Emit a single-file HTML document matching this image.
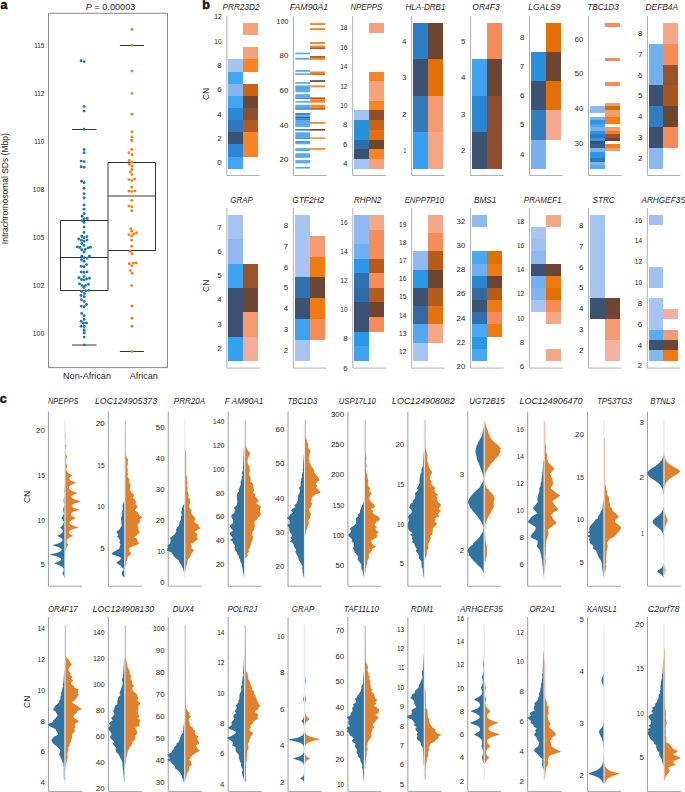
<!DOCTYPE html>
<html><head><meta charset="utf-8"><style>
html,body{margin:0;padding:0;background:#fff;}
body{width:685px;height:792px;overflow:hidden;}
svg{display:block;font-family:"Liberation Sans", sans-serif;fill:#2a2a2a;}
</style></head><body>
<svg width="685" height="792" viewBox="0 0 685 792" font-family='"Liberation Sans", sans-serif' fill="#2a2a2a">
<rect width="685" height="792" fill="#fff"/>
<text x="0.4" y="8.8" font-size="12.5" font-weight="bold" stroke="#111" stroke-width="0.45" fill="#111">a</text>
<text x="110.6" y="10.0" font-size="9" text-anchor="middle" textLength="49.5" lengthAdjust="spacingAndGlyphs"><tspan font-style="italic">P</tspan> = 0.00003</text>
<rect x="48.5" y="13.3" width="119" height="354.3" fill="none" stroke="#8a8a8a" stroke-width="1"/>
<text x="44.3" y="48.1" font-size="7.9" text-anchor="end" textLength="10.1" lengthAdjust="spacingAndGlyphs">115</text>
<text x="44.3" y="96.1" font-size="7.9" text-anchor="end" textLength="10.1" lengthAdjust="spacingAndGlyphs">112</text>
<text x="44.3" y="144.1" font-size="7.9" text-anchor="end" textLength="10.1" lengthAdjust="spacingAndGlyphs">110</text>
<text x="44.3" y="192.1" font-size="7.9" text-anchor="end" textLength="11.7" lengthAdjust="spacingAndGlyphs">108</text>
<text x="44.3" y="240.1" font-size="7.9" text-anchor="end" textLength="11.7" lengthAdjust="spacingAndGlyphs">105</text>
<text x="44.3" y="288.1" font-size="7.9" text-anchor="end" textLength="11.7" lengthAdjust="spacingAndGlyphs">102</text>
<text x="44.3" y="336.1" font-size="7.9" text-anchor="end" textLength="11.7" lengthAdjust="spacingAndGlyphs">100</text>
<text transform="translate(7.6,188.7) rotate(-90)" font-size="8.4" text-anchor="middle" textLength="111" lengthAdjust="spacingAndGlyphs">Intrachromosomal SDs (Mbp)</text>
<text x="87" y="379.4" font-size="8.6" text-anchor="middle" textLength="47.9" lengthAdjust="spacingAndGlyphs">Non-African</text>
<text x="143.8" y="379.4" font-size="8.6" text-anchor="middle" textLength="28.2" lengthAdjust="spacingAndGlyphs">African</text>
<g fill="none" stroke="#303030" stroke-width="1">
<line x1="60.5" y1="220.5" x2="60.5" y2="290.5"/>
<line x1="60.5" y1="220.5" x2="108" y2="220.5"/>
<line x1="60.5" y1="290.5" x2="108" y2="290.5"/>
<line x1="60.5" y1="257.5" x2="108" y2="257.5"/>
<line x1="108" y1="162.5" x2="155.5" y2="162.5"/>
<line x1="155.5" y1="162.5" x2="155.5" y2="250.5"/>
<line x1="108" y1="250.5" x2="155.5" y2="250.5"/>
<line x1="72" y1="129.5" x2="96.5" y2="129.5"/>
<line x1="119.8" y1="45.5" x2="143.9" y2="45.5"/>
<line x1="119.8" y1="351.5" x2="143.9" y2="351.5"/>
</g>
<g fill="none" stroke="#383838" stroke-width="1">
<line x1="108" y1="162.5" x2="108" y2="290.5"/>
<line x1="108" y1="196" x2="155.5" y2="196"/>
<line x1="72" y1="345" x2="96.5" y2="345"/>
</g>
<g fill="#1f77b4"><circle cx="81.1" cy="60.7" r="1.45"/><circle cx="84.2" cy="61.6" r="1.45"/><circle cx="84.1" cy="106.4" r="1.45"/><circle cx="84.1" cy="111.1" r="1.45"/><circle cx="84.1" cy="129.2" r="1.45"/><circle cx="84.1" cy="149.5" r="1.45"/><circle cx="84.1" cy="152.8" r="1.45"/><circle cx="81.1" cy="161.1" r="1.45"/><circle cx="84.1" cy="161.6" r="1.45"/><circle cx="81.1" cy="166.7" r="1.45"/><circle cx="84.1" cy="167.2" r="1.45"/><circle cx="81.6" cy="181.3" r="1.45"/><circle cx="84.1" cy="182.8" r="1.45"/><circle cx="84.1" cy="188.2" r="1.45"/><circle cx="84.1" cy="193.6" r="1.45"/><circle cx="84.1" cy="198" r="1.45"/><circle cx="84.1" cy="205" r="1.45"/><circle cx="84.1" cy="209.1" r="1.45"/><circle cx="84.1" cy="213.8" r="1.45"/><circle cx="82.1" cy="216.2" r="1.45"/><circle cx="87.2" cy="218.5" r="1.45"/><circle cx="84.1" cy="218.7" r="1.45"/><circle cx="81.9" cy="220.7" r="1.45"/><circle cx="84.1" cy="222.5" r="1.45"/><circle cx="84.1" cy="227" r="1.45"/><circle cx="84" cy="232.4" r="1.45"/><circle cx="81.8" cy="236.2" r="1.45"/><circle cx="86.9" cy="236.6" r="1.45"/><circle cx="84" cy="237.8" r="1.45"/><circle cx="78.7" cy="239" r="1.45"/><circle cx="81.4" cy="240.2" r="1.45"/><circle cx="86.9" cy="240" r="1.45"/><circle cx="84" cy="241.3" r="1.45"/><circle cx="81.8" cy="243.5" r="1.45"/><circle cx="84" cy="245.4" r="1.45"/><circle cx="77.4" cy="247" r="1.45"/><circle cx="79.9" cy="247.5" r="1.45"/><circle cx="90.4" cy="247.3" r="1.45"/><circle cx="88" cy="247.9" r="1.45"/><circle cx="81.8" cy="249.8" r="1.45"/><circle cx="85.2" cy="249.4" r="1.45"/><circle cx="84" cy="252" r="1.45"/><circle cx="81.8" cy="256.2" r="1.45"/><circle cx="89.4" cy="256.1" r="1.45"/><circle cx="84" cy="257.7" r="1.45"/><circle cx="87" cy="258.1" r="1.45"/><circle cx="81.4" cy="259.8" r="1.45"/><circle cx="84" cy="261.2" r="1.45"/><circle cx="86.6" cy="264.6" r="1.45"/><circle cx="81.2" cy="266.2" r="1.45"/><circle cx="84" cy="266.7" r="1.45"/><circle cx="81.2" cy="271.9" r="1.45"/><circle cx="84" cy="272.3" r="1.45"/><circle cx="87" cy="271.9" r="1.45"/><circle cx="84" cy="276.6" r="1.45"/><circle cx="79" cy="277.8" r="1.45"/><circle cx="81.4" cy="279.5" r="1.45"/><circle cx="84" cy="279.9" r="1.45"/><circle cx="86.6" cy="279" r="1.45"/><circle cx="89.4" cy="278.2" r="1.45"/><circle cx="79.5" cy="283.9" r="1.45"/><circle cx="82.3" cy="285.6" r="1.45"/><circle cx="84" cy="287.5" r="1.45"/><circle cx="85.6" cy="285.4" r="1.45"/><circle cx="88.5" cy="284.2" r="1.45"/><circle cx="81.7" cy="291.5" r="1.45"/><circle cx="85.9" cy="290.9" r="1.45"/><circle cx="88.8" cy="290.4" r="1.45"/><circle cx="84.4" cy="293.4" r="1.45"/><circle cx="81" cy="295.5" r="1.45"/><circle cx="84.2" cy="296.7" r="1.45"/><circle cx="81.4" cy="299.8" r="1.45"/><circle cx="84.2" cy="301.5" r="1.45"/><circle cx="81.2" cy="306.1" r="1.45"/><circle cx="84.2" cy="306.8" r="1.45"/><circle cx="86.5" cy="304.5" r="1.45"/><circle cx="81.7" cy="313.5" r="1.45"/><circle cx="84.2" cy="315.6" r="1.45"/><circle cx="84.2" cy="319.4" r="1.45"/><circle cx="81.2" cy="321.2" r="1.45"/><circle cx="86.5" cy="323" r="1.45"/><circle cx="83.5" cy="323.3" r="1.45"/><circle cx="81" cy="326.2" r="1.45"/><circle cx="84.2" cy="326.5" r="1.45"/><circle cx="84.2" cy="330" r="1.45"/><circle cx="84.2" cy="332.8" r="1.45"/><circle cx="84.2" cy="337.1" r="1.45"/><circle cx="84.2" cy="344.9" r="1.45"/></g>
<g fill="#ff7f0e"><circle cx="131.9" cy="29.5" r="1.45"/><circle cx="131.9" cy="45.2" r="1.45"/><circle cx="131.9" cy="71.1" r="1.45"/><circle cx="131.9" cy="93.4" r="1.45"/><circle cx="131.9" cy="114.2" r="1.45"/><circle cx="131.9" cy="131.9" r="1.45"/><circle cx="131.9" cy="137" r="1.45"/><circle cx="131.7" cy="140.5" r="1.45"/><circle cx="131.7" cy="149.5" r="1.45"/><circle cx="128.9" cy="152.8" r="1.45"/><circle cx="132" cy="154.7" r="1.45"/><circle cx="129.2" cy="160.4" r="1.45"/><circle cx="132" cy="162.3" r="1.45"/><circle cx="129.4" cy="164.4" r="1.45"/><circle cx="132" cy="166.3" r="1.45"/><circle cx="132" cy="169.5" r="1.45"/><circle cx="130.3" cy="172" r="1.45"/><circle cx="132" cy="174.6" r="1.45"/><circle cx="128.9" cy="179.6" r="1.45"/><circle cx="131.7" cy="180.7" r="1.45"/><circle cx="134.6" cy="179" r="1.45"/><circle cx="131.7" cy="187.2" r="1.45"/><circle cx="128.9" cy="191.1" r="1.45"/><circle cx="131.7" cy="191.6" r="1.45"/><circle cx="134.9" cy="190.9" r="1.45"/><circle cx="131.7" cy="200.4" r="1.45"/><circle cx="128.9" cy="206.1" r="1.45"/><circle cx="131.7" cy="206.8" r="1.45"/><circle cx="131.7" cy="210.8" r="1.45"/><circle cx="130.8" cy="228.7" r="1.45"/><circle cx="131.7" cy="231.3" r="1.45"/><circle cx="129.1" cy="234.6" r="1.45"/><circle cx="131.7" cy="236.1" r="1.45"/><circle cx="133.7" cy="234" r="1.45"/><circle cx="136.6" cy="232.8" r="1.45"/><circle cx="131.7" cy="240.3" r="1.45"/><circle cx="131.7" cy="246.3" r="1.45"/><circle cx="129.8" cy="251.4" r="1.45"/><circle cx="132" cy="253.8" r="1.45"/><circle cx="129.3" cy="263.8" r="1.45"/><circle cx="131.7" cy="265.8" r="1.45"/><circle cx="133.2" cy="263.1" r="1.45"/><circle cx="136.1" cy="262.9" r="1.45"/><circle cx="130.2" cy="270.6" r="1.45"/><circle cx="132" cy="273.2" r="1.45"/><circle cx="131.7" cy="285.6" r="1.45"/><circle cx="131.9" cy="306" r="1.45"/><circle cx="131.9" cy="318.3" r="1.45"/><circle cx="131.9" cy="326.2" r="1.45"/><circle cx="131.9" cy="351.5" r="1.45"/></g>
<text x="202.2" y="8.8" font-size="12.5" font-weight="bold" stroke="#111" stroke-width="0.45" fill="#111">b</text>
<line x1="226.8" y1="16.0" x2="226.8" y2="175.5" stroke="#b0b0b0" stroke-width="1"/>
<line x1="226.8" y1="175.5" x2="259.8" y2="175.5" stroke="#b0b0b0" stroke-width="1"/>
<text x="221.6" y="165.1" font-size="7.9" text-anchor="end" textLength="4.4" lengthAdjust="spacingAndGlyphs">0</text>
<text x="221.6" y="140.8" font-size="7.9" text-anchor="end" textLength="4.4" lengthAdjust="spacingAndGlyphs">2</text>
<text x="221.6" y="116.5" font-size="7.9" text-anchor="end" textLength="4.4" lengthAdjust="spacingAndGlyphs">4</text>
<text x="221.6" y="92.2" font-size="7.9" text-anchor="end" textLength="4.4" lengthAdjust="spacingAndGlyphs">6</text>
<text x="221.6" y="67.9" font-size="7.9" text-anchor="end" textLength="4.4" lengthAdjust="spacingAndGlyphs">8</text>
<text x="221.6" y="43.6" font-size="7.9" text-anchor="end" textLength="7.3" lengthAdjust="spacingAndGlyphs">10</text>
<text x="221.6" y="19.3" font-size="7.9" text-anchor="end" textLength="7.3" lengthAdjust="spacingAndGlyphs">12</text>
<rect x="228.4" y="156.60" width="14.80" height="12.15" fill="#3ea6f5" shape-rendering="crispEdges"/>
<rect x="228.4" y="144.46" width="14.80" height="12.15" fill="#2b88d2" shape-rendering="crispEdges"/>
<rect x="228.4" y="132.31" width="14.80" height="12.15" fill="#3b5273" shape-rendering="crispEdges"/>
<rect x="228.4" y="120.17" width="14.80" height="12.15" fill="#2f77b8" shape-rendering="crispEdges"/>
<rect x="228.4" y="108.02" width="14.80" height="12.15" fill="#2b88d2" shape-rendering="crispEdges"/>
<rect x="228.4" y="95.87" width="14.80" height="12.15" fill="#3ea6f5" shape-rendering="crispEdges"/>
<rect x="228.4" y="83.73" width="14.80" height="12.15" fill="#86b4ee" shape-rendering="crispEdges"/>
<rect x="228.4" y="71.58" width="14.80" height="12.15" fill="#3ea6f5" shape-rendering="crispEdges"/>
<rect x="228.4" y="59.44" width="14.80" height="12.15" fill="#a3c4ee" shape-rendering="crispEdges"/>
<rect x="243.2" y="144.46" width="14.80" height="12.15" fill="#fc8324" shape-rendering="crispEdges"/>
<rect x="243.2" y="132.31" width="14.80" height="12.15" fill="#fc8324" shape-rendering="crispEdges"/>
<rect x="243.2" y="120.17" width="14.80" height="12.15" fill="#b45a1c" shape-rendering="crispEdges"/>
<rect x="243.2" y="108.02" width="14.80" height="12.15" fill="#8f4f2c" shape-rendering="crispEdges"/>
<rect x="243.2" y="95.87" width="14.80" height="12.15" fill="#6e4531" shape-rendering="crispEdges"/>
<rect x="243.2" y="83.73" width="14.80" height="12.15" fill="#cc6311" shape-rendering="crispEdges"/>
<rect x="243.2" y="59.44" width="14.80" height="12.15" fill="#fc8324" shape-rendering="crispEdges"/>
<rect x="243.2" y="47.29" width="14.80" height="12.15" fill="#f6a27d" shape-rendering="crispEdges"/>
<rect x="243.2" y="23.00" width="14.80" height="12.15" fill="#f6a27d" shape-rendering="crispEdges"/>
<text x="241.0" y="9.7" font-size="8.2" font-style="italic" text-anchor="middle" textLength="37.0" lengthAdjust="spacingAndGlyphs">PRR23D2</text>
<text transform="translate(209.4,93.9) rotate(-90)" font-size="8.6" text-anchor="middle">CN</text>
<line x1="293.5" y1="16.0" x2="293.5" y2="175.5" stroke="#b0b0b0" stroke-width="1"/>
<line x1="293.5" y1="175.5" x2="326.5" y2="175.5" stroke="#b0b0b0" stroke-width="1"/>
<text x="288.3" y="162.2" font-size="7.9" text-anchor="end" textLength="8.8" lengthAdjust="spacingAndGlyphs">20</text>
<text x="288.3" y="127.5" font-size="7.9" text-anchor="end" textLength="8.8" lengthAdjust="spacingAndGlyphs">40</text>
<text x="288.3" y="92.9" font-size="7.9" text-anchor="end" textLength="8.8" lengthAdjust="spacingAndGlyphs">60</text>
<text x="288.3" y="58.2" font-size="7.9" text-anchor="end" textLength="8.8" lengthAdjust="spacingAndGlyphs">80</text>
<text x="288.3" y="23.5" font-size="7.9" text-anchor="end" textLength="11.7" lengthAdjust="spacingAndGlyphs">100</text>
<rect x="295.3" y="52.60" width="14.80" height="1.70" fill="#58aaf2"/>
<rect x="295.3" y="57.80" width="14.80" height="1.90" fill="#58aaf2"/>
<rect x="295.3" y="69.90" width="14.80" height="1.90" fill="#58aaf2"/>
<rect x="295.3" y="73.20" width="14.80" height="1.70" fill="#58aaf2"/>
<rect x="295.3" y="82.10" width="14.80" height="1.70" fill="#58aaf2"/>
<rect x="295.3" y="85.40" width="14.80" height="1.90" fill="#58aaf2"/>
<rect x="295.3" y="87.30" width="14.80" height="1.50" fill="#2a88d2"/>
<rect x="295.3" y="88.80" width="14.80" height="3.50" fill="#58aaf2"/>
<rect x="295.3" y="94.20" width="14.80" height="3.50" fill="#58aaf2"/>
<rect x="295.3" y="97.70" width="14.80" height="1.20" fill="#2a88d2"/>
<rect x="295.3" y="101.10" width="14.80" height="1.60" fill="#58aaf2"/>
<rect x="295.3" y="104.80" width="14.80" height="3.30" fill="#58aaf2"/>
<rect x="295.3" y="108.10" width="14.80" height="1.60" fill="#2a88d2"/>
<rect x="295.3" y="113.00" width="14.80" height="1.90" fill="#2a88d2"/>
<rect x="295.3" y="114.90" width="14.80" height="1.90" fill="#58aaf2"/>
<rect x="295.3" y="116.80" width="14.80" height="1.60" fill="#3b5273"/>
<rect x="295.3" y="118.40" width="14.80" height="1.60" fill="#2a88d2"/>
<rect x="295.3" y="120.00" width="14.80" height="6.90" fill="#58aaf2"/>
<rect x="295.3" y="129.00" width="14.80" height="1.60" fill="#2a88d2"/>
<rect x="295.3" y="132.30" width="14.80" height="5.10" fill="#58aaf2"/>
<rect x="295.3" y="137.40" width="14.80" height="1.50" fill="#2a88d2"/>
<rect x="295.3" y="141.10" width="14.80" height="1.70" fill="#2a88d2"/>
<rect x="295.3" y="142.80" width="14.80" height="1.50" fill="#58aaf2"/>
<rect x="295.3" y="148.10" width="14.80" height="2.90" fill="#58aaf2"/>
<rect x="295.3" y="153.20" width="14.80" height="4.60" fill="#58aaf2"/>
<rect x="295.3" y="160.10" width="14.80" height="3.30" fill="#58aaf2"/>
<rect x="295.3" y="166.90" width="14.80" height="1.70" fill="#58aaf2"/>
<rect x="310.1" y="23.10" width="15.00" height="1.90" fill="#fc8324"/>
<rect x="310.1" y="28.10" width="15.00" height="1.90" fill="#fc8324"/>
<rect x="310.1" y="42.00" width="15.00" height="1.90" fill="#fc8324"/>
<rect x="310.1" y="45.60" width="15.00" height="1.70" fill="#fc8324"/>
<rect x="310.1" y="47.30" width="15.00" height="1.70" fill="#b45a1c"/>
<rect x="310.1" y="56.00" width="15.00" height="1.90" fill="#b45a1c"/>
<rect x="310.1" y="57.90" width="15.00" height="1.90" fill="#fc8324"/>
<rect x="310.1" y="71.50" width="15.00" height="1.90" fill="#fc8324"/>
<rect x="310.1" y="73.40" width="15.00" height="1.50" fill="#b45a1c"/>
<rect x="310.1" y="80.20" width="15.00" height="1.70" fill="#6e4531"/>
<rect x="310.1" y="85.40" width="15.00" height="1.90" fill="#fc8324"/>
<rect x="310.1" y="97.40" width="15.00" height="1.80" fill="#b45a1c"/>
<rect x="310.1" y="99.20" width="15.00" height="3.50" fill="#fc8324"/>
<rect x="310.1" y="104.80" width="15.00" height="3.00" fill="#fc8324"/>
<rect x="310.1" y="107.80" width="15.00" height="1.90" fill="#c06020"/>
<rect x="310.1" y="122.00" width="15.00" height="1.80" fill="#fc8324"/>
<rect x="310.1" y="129.00" width="15.00" height="1.60" fill="#6e4531"/>
<rect x="310.1" y="137.40" width="15.00" height="1.50" fill="#fc8324"/>
<rect x="310.1" y="148.10" width="15.00" height="1.70" fill="#fc8324"/>
<text x="309.0" y="9.7" font-size="8.2" font-style="italic" text-anchor="middle" textLength="38.4" lengthAdjust="spacingAndGlyphs">FAM90A1</text>
<line x1="352.7" y1="16.0" x2="352.7" y2="175.5" stroke="#b0b0b0" stroke-width="1"/>
<line x1="352.7" y1="175.5" x2="385.7" y2="175.5" stroke="#b0b0b0" stroke-width="1"/>
<text x="347.5" y="166.3" font-size="7.9" text-anchor="end" textLength="4.4" lengthAdjust="spacingAndGlyphs">4</text>
<text x="347.5" y="146.9" font-size="7.9" text-anchor="end" textLength="4.4" lengthAdjust="spacingAndGlyphs">6</text>
<text x="347.5" y="127.4" font-size="7.9" text-anchor="end" textLength="4.4" lengthAdjust="spacingAndGlyphs">8</text>
<text x="347.5" y="108.0" font-size="7.9" text-anchor="end" textLength="7.3" lengthAdjust="spacingAndGlyphs">10</text>
<text x="347.5" y="88.6" font-size="7.9" text-anchor="end" textLength="7.3" lengthAdjust="spacingAndGlyphs">12</text>
<text x="347.5" y="69.1" font-size="7.9" text-anchor="end" textLength="7.3" lengthAdjust="spacingAndGlyphs">14</text>
<text x="347.5" y="49.7" font-size="7.9" text-anchor="end" textLength="7.3" lengthAdjust="spacingAndGlyphs">16</text>
<text x="347.5" y="30.3" font-size="7.9" text-anchor="end" textLength="7.3" lengthAdjust="spacingAndGlyphs">18</text>
<rect x="353.9" y="159.03" width="15.20" height="9.72" fill="#a3c4ee" shape-rendering="crispEdges"/>
<rect x="353.9" y="149.32" width="15.20" height="9.72" fill="#3b5273" shape-rendering="crispEdges"/>
<rect x="353.9" y="139.60" width="15.20" height="9.72" fill="#2f6fa8" shape-rendering="crispEdges"/>
<rect x="353.9" y="129.88" width="15.20" height="9.72" fill="#2a90d8" shape-rendering="crispEdges"/>
<rect x="353.9" y="120.16" width="15.20" height="9.72" fill="#2a90d8" shape-rendering="crispEdges"/>
<rect x="353.9" y="110.45" width="15.20" height="9.72" fill="#a3c4ee" shape-rendering="crispEdges"/>
<rect x="369.1" y="159.03" width="15.00" height="9.72" fill="#f6a27d" shape-rendering="crispEdges"/>
<rect x="369.1" y="149.32" width="15.00" height="9.72" fill="#fc8324" shape-rendering="crispEdges"/>
<rect x="369.1" y="139.60" width="15.00" height="9.72" fill="#6e4531" shape-rendering="crispEdges"/>
<rect x="369.1" y="129.88" width="15.00" height="9.72" fill="#e46f06" shape-rendering="crispEdges"/>
<rect x="369.1" y="120.16" width="15.00" height="9.72" fill="#cc6311" shape-rendering="crispEdges"/>
<rect x="369.1" y="110.45" width="15.00" height="9.72" fill="#8f4f2c" shape-rendering="crispEdges"/>
<rect x="369.1" y="100.73" width="15.00" height="9.72" fill="#fc8324" shape-rendering="crispEdges"/>
<rect x="369.1" y="91.01" width="15.00" height="9.72" fill="#f6a27d" shape-rendering="crispEdges"/>
<rect x="369.1" y="81.30" width="15.00" height="9.72" fill="#f6a27d" shape-rendering="crispEdges"/>
<rect x="369.1" y="71.58" width="15.00" height="9.72" fill="#fc8324" shape-rendering="crispEdges"/>
<rect x="369.1" y="22.99" width="15.00" height="9.72" fill="#f6a27d" shape-rendering="crispEdges"/>
<text x="366.3" y="9.7" font-size="8.2" font-style="italic" text-anchor="middle" textLength="31.6" lengthAdjust="spacingAndGlyphs">NPEPPS</text>
<line x1="411.6" y1="16.0" x2="411.6" y2="175.5" stroke="#b0b0b0" stroke-width="1"/>
<line x1="411.6" y1="175.5" x2="444.6" y2="175.5" stroke="#b0b0b0" stroke-width="1"/>
<text x="406.4" y="152.9" font-size="7.9" text-anchor="end" textLength="2.8" lengthAdjust="spacingAndGlyphs">1</text>
<text x="406.4" y="116.5" font-size="7.9" text-anchor="end" textLength="4.4" lengthAdjust="spacingAndGlyphs">2</text>
<text x="406.4" y="80.1" font-size="7.9" text-anchor="end" textLength="4.4" lengthAdjust="spacingAndGlyphs">3</text>
<text x="406.4" y="43.6" font-size="7.9" text-anchor="end" textLength="4.4" lengthAdjust="spacingAndGlyphs">4</text>
<rect x="413.1" y="132.31" width="14.80" height="36.44" fill="#33a0f0" shape-rendering="crispEdges"/>
<rect x="413.1" y="95.87" width="14.80" height="36.44" fill="#3478b8" shape-rendering="crispEdges"/>
<rect x="413.1" y="59.43" width="14.80" height="36.44" fill="#3b5273" shape-rendering="crispEdges"/>
<rect x="413.1" y="22.99" width="14.80" height="36.44" fill="#2b7fc8" shape-rendering="crispEdges"/>
<rect x="427.9" y="132.31" width="15.10" height="36.44" fill="#f4a582" shape-rendering="crispEdges"/>
<rect x="427.9" y="95.87" width="15.10" height="36.44" fill="#f59a70" shape-rendering="crispEdges"/>
<rect x="427.9" y="59.43" width="15.10" height="36.44" fill="#e46f06" shape-rendering="crispEdges"/>
<rect x="427.9" y="22.99" width="15.10" height="36.44" fill="#6e4531" shape-rendering="crispEdges"/>
<text x="425.5" y="9.7" font-size="8.2" font-style="italic" text-anchor="middle" textLength="40.1" lengthAdjust="spacingAndGlyphs">HLA-DRB1</text>
<line x1="470.6" y1="16.0" x2="470.6" y2="175.5" stroke="#b0b0b0" stroke-width="1"/>
<line x1="470.6" y1="175.5" x2="503.6" y2="175.5" stroke="#b0b0b0" stroke-width="1"/>
<text x="465.4" y="152.9" font-size="7.9" text-anchor="end" textLength="4.4" lengthAdjust="spacingAndGlyphs">2</text>
<text x="465.4" y="116.5" font-size="7.9" text-anchor="end" textLength="4.4" lengthAdjust="spacingAndGlyphs">3</text>
<text x="465.4" y="80.1" font-size="7.9" text-anchor="end" textLength="4.4" lengthAdjust="spacingAndGlyphs">4</text>
<text x="465.4" y="43.6" font-size="7.9" text-anchor="end" textLength="4.4" lengthAdjust="spacingAndGlyphs">5</text>
<rect x="472.0" y="132.31" width="14.80" height="36.44" fill="#3b5273" shape-rendering="crispEdges"/>
<rect x="472.0" y="95.87" width="14.80" height="36.44" fill="#2b85d0" shape-rendering="crispEdges"/>
<rect x="472.0" y="59.43" width="14.80" height="36.44" fill="#40a2f2" shape-rendering="crispEdges"/>
<rect x="486.8" y="132.31" width="14.80" height="36.44" fill="#8f4f2c" shape-rendering="crispEdges"/>
<rect x="486.8" y="95.87" width="14.80" height="36.44" fill="#8f4f2c" shape-rendering="crispEdges"/>
<rect x="486.8" y="59.43" width="14.80" height="36.44" fill="#6e4531" shape-rendering="crispEdges"/>
<rect x="486.8" y="22.99" width="14.80" height="36.44" fill="#f58c5a" shape-rendering="crispEdges"/>
<text x="486.0" y="9.7" font-size="8.2" font-style="italic" text-anchor="middle" textLength="27.4" lengthAdjust="spacingAndGlyphs">OR4F3</text>
<line x1="529.5" y1="16.0" x2="529.5" y2="175.5" stroke="#b0b0b0" stroke-width="1"/>
<line x1="529.5" y1="175.5" x2="562.5" y2="175.5" stroke="#b0b0b0" stroke-width="1"/>
<text x="524.3" y="156.6" font-size="7.9" text-anchor="end" textLength="4.4" lengthAdjust="spacingAndGlyphs">4</text>
<text x="524.3" y="127.4" font-size="7.9" text-anchor="end" textLength="4.4" lengthAdjust="spacingAndGlyphs">5</text>
<text x="524.3" y="98.3" font-size="7.9" text-anchor="end" textLength="4.4" lengthAdjust="spacingAndGlyphs">6</text>
<text x="524.3" y="69.1" font-size="7.9" text-anchor="end" textLength="4.4" lengthAdjust="spacingAndGlyphs">7</text>
<text x="524.3" y="40.0" font-size="7.9" text-anchor="end" textLength="4.4" lengthAdjust="spacingAndGlyphs">8</text>
<rect x="531.0" y="139.60" width="14.90" height="29.15" fill="#7ab0f0" shape-rendering="crispEdges"/>
<rect x="531.0" y="110.45" width="14.90" height="29.15" fill="#2f7fc0" shape-rendering="crispEdges"/>
<rect x="531.0" y="81.30" width="14.90" height="29.15" fill="#3b5273" shape-rendering="crispEdges"/>
<rect x="531.0" y="52.15" width="14.90" height="29.15" fill="#2a90e0" shape-rendering="crispEdges"/>
<rect x="545.9" y="110.45" width="14.80" height="29.15" fill="#f4a890" shape-rendering="crispEdges"/>
<rect x="545.9" y="81.30" width="14.80" height="29.15" fill="#e46f06" shape-rendering="crispEdges"/>
<rect x="545.9" y="52.15" width="14.80" height="29.15" fill="#6e4531" shape-rendering="crispEdges"/>
<rect x="545.9" y="23.00" width="14.80" height="29.15" fill="#e46f06" shape-rendering="crispEdges"/>
<text x="544.3" y="9.7" font-size="8.2" font-style="italic" text-anchor="middle" textLength="32.3" lengthAdjust="spacingAndGlyphs">LGALS9</text>
<line x1="588.5" y1="16.0" x2="588.5" y2="175.5" stroke="#b0b0b0" stroke-width="1"/>
<line x1="588.5" y1="175.5" x2="621.5" y2="175.5" stroke="#b0b0b0" stroke-width="1"/>
<text x="583.3" y="145.6" font-size="7.9" text-anchor="end" textLength="8.8" lengthAdjust="spacingAndGlyphs">30</text>
<text x="583.3" y="110.9" font-size="7.9" text-anchor="end" textLength="8.8" lengthAdjust="spacingAndGlyphs">40</text>
<text x="583.3" y="76.2" font-size="7.9" text-anchor="end" textLength="8.8" lengthAdjust="spacingAndGlyphs">50</text>
<text x="583.3" y="41.5" font-size="7.9" text-anchor="end" textLength="8.8" lengthAdjust="spacingAndGlyphs">60</text>
<rect x="590.0" y="106.20" width="14.80" height="6.80" fill="#8ab8f0" shape-rendering="crispEdges"/>
<rect x="590.0" y="116.80" width="14.80" height="3.10" fill="#7ab0f0" shape-rendering="crispEdges"/>
<rect x="590.0" y="119.90" width="14.80" height="3.80" fill="#2a9ae8" shape-rendering="crispEdges"/>
<rect x="590.0" y="123.70" width="14.80" height="3.50" fill="#4aa6f0" shape-rendering="crispEdges"/>
<rect x="590.0" y="127.20" width="14.80" height="3.50" fill="#7ab0f0" shape-rendering="crispEdges"/>
<rect x="590.0" y="130.70" width="14.80" height="3.40" fill="#2a9ae8" shape-rendering="crispEdges"/>
<rect x="590.0" y="134.10" width="14.80" height="3.50" fill="#2f7ab8" shape-rendering="crispEdges"/>
<rect x="590.0" y="137.60" width="14.80" height="3.50" fill="#2a9ae8" shape-rendering="crispEdges"/>
<rect x="590.0" y="141.10" width="14.80" height="3.20" fill="#3b5273" shape-rendering="crispEdges"/>
<rect x="590.0" y="144.30" width="14.80" height="3.50" fill="#3a5f8a" shape-rendering="crispEdges"/>
<rect x="590.0" y="147.80" width="14.80" height="3.80" fill="#80b4f0" shape-rendering="crispEdges"/>
<rect x="590.0" y="151.60" width="14.80" height="6.80" fill="#2a9ae8" shape-rendering="crispEdges"/>
<rect x="590.0" y="158.40" width="14.80" height="3.50" fill="#2f7ab8" shape-rendering="crispEdges"/>
<rect x="590.0" y="161.90" width="14.80" height="3.20" fill="#80b4f0" shape-rendering="crispEdges"/>
<rect x="590.0" y="165.10" width="14.80" height="3.50" fill="#58aaf2" shape-rendering="crispEdges"/>
<rect x="604.8" y="23.20" width="14.70" height="3.40" fill="#f78c58" shape-rendering="crispEdges"/>
<rect x="604.8" y="58.00" width="14.70" height="3.40" fill="#f78c58" shape-rendering="crispEdges"/>
<rect x="604.8" y="82.30" width="14.70" height="3.40" fill="#f78c58" shape-rendering="crispEdges"/>
<rect x="604.8" y="103.10" width="14.70" height="3.10" fill="#f69a70" shape-rendering="crispEdges"/>
<rect x="604.8" y="106.20" width="14.70" height="3.60" fill="#d86a08" shape-rendering="crispEdges"/>
<rect x="604.8" y="109.80" width="14.70" height="7.00" fill="#f69a70" shape-rendering="crispEdges"/>
<rect x="604.8" y="116.80" width="14.70" height="6.90" fill="#f57f10" shape-rendering="crispEdges"/>
<rect x="604.8" y="127.20" width="14.70" height="3.50" fill="#f69a70" shape-rendering="crispEdges"/>
<rect x="604.8" y="130.70" width="14.70" height="3.40" fill="#f57f10" shape-rendering="crispEdges"/>
<rect x="604.8" y="134.10" width="14.70" height="3.50" fill="#9a5230" shape-rendering="crispEdges"/>
<rect x="604.8" y="137.60" width="14.70" height="3.20" fill="#6e4531" shape-rendering="crispEdges"/>
<rect x="604.8" y="144.30" width="14.70" height="3.50" fill="#f57f10" shape-rendering="crispEdges"/>
<rect x="604.8" y="147.80" width="14.70" height="3.20" fill="#f69a70" shape-rendering="crispEdges"/>
<text x="603.0" y="9.7" font-size="8.2" font-style="italic" text-anchor="middle" textLength="31.6" lengthAdjust="spacingAndGlyphs">TBC1D3</text>
<line x1="647.5" y1="16.0" x2="647.5" y2="175.5" stroke="#b0b0b0" stroke-width="1"/>
<line x1="647.5" y1="175.5" x2="680.5" y2="175.5" stroke="#b0b0b0" stroke-width="1"/>
<text x="642.3" y="160.7" font-size="7.9" text-anchor="end" textLength="4.4" lengthAdjust="spacingAndGlyphs">2</text>
<text x="642.3" y="139.9" font-size="7.9" text-anchor="end" textLength="4.4" lengthAdjust="spacingAndGlyphs">3</text>
<text x="642.3" y="119.1" font-size="7.9" text-anchor="end" textLength="4.4" lengthAdjust="spacingAndGlyphs">4</text>
<text x="642.3" y="98.3" font-size="7.9" text-anchor="end" textLength="4.4" lengthAdjust="spacingAndGlyphs">5</text>
<text x="642.3" y="77.5" font-size="7.9" text-anchor="end" textLength="4.4" lengthAdjust="spacingAndGlyphs">6</text>
<text x="642.3" y="56.6" font-size="7.9" text-anchor="end" textLength="4.4" lengthAdjust="spacingAndGlyphs">7</text>
<text x="642.3" y="35.8" font-size="7.9" text-anchor="end" textLength="4.4" lengthAdjust="spacingAndGlyphs">8</text>
<rect x="648.6" y="147.93" width="14.80" height="20.82" fill="#8ab8f0" shape-rendering="crispEdges"/>
<rect x="648.6" y="127.11" width="14.80" height="20.82" fill="#3b5273" shape-rendering="crispEdges"/>
<rect x="648.6" y="106.29" width="14.80" height="20.82" fill="#2f7fc0" shape-rendering="crispEdges"/>
<rect x="648.6" y="85.47" width="14.80" height="20.82" fill="#3b5273" shape-rendering="crispEdges"/>
<rect x="648.6" y="64.65" width="14.80" height="20.82" fill="#70b0f0" shape-rendering="crispEdges"/>
<rect x="648.6" y="43.83" width="14.80" height="20.82" fill="#70b0f0" shape-rendering="crispEdges"/>
<rect x="663.4" y="127.11" width="14.80" height="20.82" fill="#f78c58" shape-rendering="crispEdges"/>
<rect x="663.4" y="106.29" width="14.80" height="20.82" fill="#6e4531" shape-rendering="crispEdges"/>
<rect x="663.4" y="85.47" width="14.80" height="20.82" fill="#a85520" shape-rendering="crispEdges"/>
<rect x="663.4" y="64.65" width="14.80" height="20.82" fill="#9a5228" shape-rendering="crispEdges"/>
<rect x="663.4" y="43.83" width="14.80" height="20.82" fill="#f78c58" shape-rendering="crispEdges"/>
<rect x="663.4" y="23.01" width="14.80" height="20.82" fill="#f4a888" shape-rendering="crispEdges"/>
<text x="661.8" y="9.7" font-size="8.2" font-style="italic" text-anchor="middle" textLength="32.6" lengthAdjust="spacingAndGlyphs">DEFB4A</text>
<line x1="226.9" y1="207.9" x2="226.9" y2="368.1" stroke="#b0b0b0" stroke-width="1"/>
<line x1="226.9" y1="368.1" x2="259.9" y2="368.1" stroke="#b0b0b0" stroke-width="1"/>
<text x="221.7" y="351.1" font-size="7.9" text-anchor="end" textLength="4.4" lengthAdjust="spacingAndGlyphs">2</text>
<text x="221.7" y="326.8" font-size="7.9" text-anchor="end" textLength="4.4" lengthAdjust="spacingAndGlyphs">3</text>
<text x="221.7" y="302.4" font-size="7.9" text-anchor="end" textLength="4.4" lengthAdjust="spacingAndGlyphs">4</text>
<text x="221.7" y="278.1" font-size="7.9" text-anchor="end" textLength="4.4" lengthAdjust="spacingAndGlyphs">5</text>
<text x="221.7" y="253.8" font-size="7.9" text-anchor="end" textLength="4.4" lengthAdjust="spacingAndGlyphs">6</text>
<text x="221.7" y="229.6" font-size="7.9" text-anchor="end" textLength="4.4" lengthAdjust="spacingAndGlyphs">7</text>
<rect x="228.1" y="336.50" width="15.10" height="24.30" fill="#33a0f0" shape-rendering="crispEdges"/>
<rect x="228.1" y="312.20" width="15.10" height="24.30" fill="#3b5273" shape-rendering="crispEdges"/>
<rect x="228.1" y="287.90" width="15.10" height="24.30" fill="#3b5273" shape-rendering="crispEdges"/>
<rect x="228.1" y="263.60" width="15.10" height="24.30" fill="#40a2f2" shape-rendering="crispEdges"/>
<rect x="228.1" y="239.30" width="15.10" height="24.30" fill="#90b8f0" shape-rendering="crispEdges"/>
<rect x="228.1" y="215.00" width="15.10" height="24.30" fill="#a3c4ee" shape-rendering="crispEdges"/>
<rect x="243.2" y="336.50" width="14.90" height="24.30" fill="#f4ae98" shape-rendering="crispEdges"/>
<rect x="243.2" y="312.20" width="14.90" height="24.30" fill="#f59a70" shape-rendering="crispEdges"/>
<rect x="243.2" y="287.90" width="14.90" height="24.30" fill="#6e4531" shape-rendering="crispEdges"/>
<rect x="243.2" y="263.60" width="14.90" height="24.30" fill="#9a5228" shape-rendering="crispEdges"/>
<text x="241.5" y="202.9" font-size="8.2" font-style="italic" text-anchor="middle" textLength="22.3" lengthAdjust="spacingAndGlyphs">GRAP</text>
<text transform="translate(209.2,285.8) rotate(-90)" font-size="8.6" text-anchor="middle">CN</text>
<line x1="293.4" y1="207.9" x2="293.4" y2="368.1" stroke="#b0b0b0" stroke-width="1"/>
<line x1="293.4" y1="368.1" x2="326.4" y2="368.1" stroke="#b0b0b0" stroke-width="1"/>
<text x="288.2" y="352.8" font-size="7.9" text-anchor="end" textLength="4.4" lengthAdjust="spacingAndGlyphs">2</text>
<text x="288.2" y="332.0" font-size="7.9" text-anchor="end" textLength="4.4" lengthAdjust="spacingAndGlyphs">3</text>
<text x="288.2" y="311.1" font-size="7.9" text-anchor="end" textLength="4.4" lengthAdjust="spacingAndGlyphs">4</text>
<text x="288.2" y="290.3" font-size="7.9" text-anchor="end" textLength="4.4" lengthAdjust="spacingAndGlyphs">5</text>
<text x="288.2" y="269.5" font-size="7.9" text-anchor="end" textLength="4.4" lengthAdjust="spacingAndGlyphs">6</text>
<text x="288.2" y="248.6" font-size="7.9" text-anchor="end" textLength="4.4" lengthAdjust="spacingAndGlyphs">7</text>
<text x="288.2" y="227.8" font-size="7.9" text-anchor="end" textLength="4.4" lengthAdjust="spacingAndGlyphs">8</text>
<rect x="295.3" y="339.97" width="14.90" height="20.83" fill="#a8c4f0" shape-rendering="crispEdges"/>
<rect x="295.3" y="319.14" width="14.90" height="20.83" fill="#40a2f2" shape-rendering="crispEdges"/>
<rect x="295.3" y="298.31" width="14.90" height="20.83" fill="#3b5273" shape-rendering="crispEdges"/>
<rect x="295.3" y="277.48" width="14.90" height="20.83" fill="#3070b0" shape-rendering="crispEdges"/>
<rect x="295.3" y="256.65" width="14.90" height="20.83" fill="#a8c4f0" shape-rendering="crispEdges"/>
<rect x="295.3" y="235.82" width="14.90" height="20.83" fill="#a8c4f0" shape-rendering="crispEdges"/>
<rect x="295.3" y="214.99" width="14.90" height="20.83" fill="#a8c4f0" shape-rendering="crispEdges"/>
<rect x="310.2" y="319.14" width="14.90" height="20.83" fill="#f78c58" shape-rendering="crispEdges"/>
<rect x="310.2" y="298.31" width="14.90" height="20.83" fill="#f07a10" shape-rendering="crispEdges"/>
<rect x="310.2" y="277.48" width="14.90" height="20.83" fill="#6e4531" shape-rendering="crispEdges"/>
<rect x="310.2" y="256.65" width="14.90" height="20.83" fill="#f07a10" shape-rendering="crispEdges"/>
<rect x="310.2" y="235.82" width="14.90" height="20.83" fill="#f59a70" shape-rendering="crispEdges"/>
<text x="308.2" y="202.9" font-size="8.2" font-style="italic" text-anchor="middle" textLength="31.9" lengthAdjust="spacingAndGlyphs">GTF2H2</text>
<line x1="352.8" y1="207.9" x2="352.8" y2="368.1" stroke="#b0b0b0" stroke-width="1"/>
<line x1="352.8" y1="368.1" x2="385.8" y2="368.1" stroke="#b0b0b0" stroke-width="1"/>
<text x="347.6" y="370.5" font-size="7.9" text-anchor="end" textLength="4.4" lengthAdjust="spacingAndGlyphs">6</text>
<text x="347.6" y="341.3" font-size="7.9" text-anchor="end" textLength="4.4" lengthAdjust="spacingAndGlyphs">8</text>
<text x="347.6" y="312.2" font-size="7.9" text-anchor="end" textLength="7.3" lengthAdjust="spacingAndGlyphs">10</text>
<text x="347.6" y="283.0" font-size="7.9" text-anchor="end" textLength="7.3" lengthAdjust="spacingAndGlyphs">12</text>
<text x="347.6" y="253.9" font-size="7.9" text-anchor="end" textLength="7.3" lengthAdjust="spacingAndGlyphs">14</text>
<text x="347.6" y="224.7" font-size="7.9" text-anchor="end" textLength="7.3" lengthAdjust="spacingAndGlyphs">16</text>
<rect x="354.0" y="346.22" width="14.90" height="14.58" fill="#40a2f2" shape-rendering="crispEdges"/>
<rect x="354.0" y="331.64" width="14.90" height="14.58" fill="#2a98e8" shape-rendering="crispEdges"/>
<rect x="354.0" y="317.06" width="14.90" height="14.58" fill="#3b5273" shape-rendering="crispEdges"/>
<rect x="354.0" y="302.48" width="14.90" height="14.58" fill="#3b5273" shape-rendering="crispEdges"/>
<rect x="354.0" y="287.90" width="14.90" height="14.58" fill="#306aa8" shape-rendering="crispEdges"/>
<rect x="354.0" y="273.32" width="14.90" height="14.58" fill="#3070b0" shape-rendering="crispEdges"/>
<rect x="354.0" y="258.74" width="14.90" height="14.58" fill="#2a98e8" shape-rendering="crispEdges"/>
<rect x="354.0" y="244.16" width="14.90" height="14.58" fill="#70b0f0" shape-rendering="crispEdges"/>
<rect x="354.0" y="229.58" width="14.90" height="14.58" fill="#90b8f0" shape-rendering="crispEdges"/>
<rect x="354.0" y="215.00" width="14.90" height="14.58" fill="#90b8f0" shape-rendering="crispEdges"/>
<rect x="368.9" y="317.06" width="15.10" height="14.58" fill="#f78c58" shape-rendering="crispEdges"/>
<rect x="368.9" y="302.48" width="15.10" height="14.58" fill="#6e4531" shape-rendering="crispEdges"/>
<rect x="368.9" y="287.90" width="15.10" height="14.58" fill="#b85a18" shape-rendering="crispEdges"/>
<rect x="368.9" y="273.32" width="15.10" height="14.58" fill="#f78c58" shape-rendering="crispEdges"/>
<rect x="368.9" y="258.74" width="15.10" height="14.58" fill="#b85a18" shape-rendering="crispEdges"/>
<rect x="368.9" y="244.16" width="15.10" height="14.58" fill="#f78c58" shape-rendering="crispEdges"/>
<rect x="368.9" y="229.58" width="15.10" height="14.58" fill="#f78c58" shape-rendering="crispEdges"/>
<rect x="368.9" y="215.00" width="15.10" height="14.58" fill="#f4a888" shape-rendering="crispEdges"/>
<text x="367.6" y="202.9" font-size="8.2" font-style="italic" text-anchor="middle" textLength="27.4" lengthAdjust="spacingAndGlyphs">RHPN2</text>
<line x1="411.6" y1="207.9" x2="411.6" y2="368.1" stroke="#b0b0b0" stroke-width="1"/>
<line x1="411.6" y1="368.1" x2="444.6" y2="368.1" stroke="#b0b0b0" stroke-width="1"/>
<text x="406.4" y="354.1" font-size="7.9" text-anchor="end" textLength="7.3" lengthAdjust="spacingAndGlyphs">12</text>
<text x="406.4" y="335.9" font-size="7.9" text-anchor="end" textLength="7.3" lengthAdjust="spacingAndGlyphs">13</text>
<text x="406.4" y="317.6" font-size="7.9" text-anchor="end" textLength="7.3" lengthAdjust="spacingAndGlyphs">14</text>
<text x="406.4" y="299.4" font-size="7.9" text-anchor="end" textLength="7.3" lengthAdjust="spacingAndGlyphs">15</text>
<text x="406.4" y="281.2" font-size="7.9" text-anchor="end" textLength="7.3" lengthAdjust="spacingAndGlyphs">16</text>
<text x="406.4" y="263.0" font-size="7.9" text-anchor="end" textLength="7.3" lengthAdjust="spacingAndGlyphs">17</text>
<text x="406.4" y="244.7" font-size="7.9" text-anchor="end" textLength="7.3" lengthAdjust="spacingAndGlyphs">18</text>
<text x="406.4" y="226.5" font-size="7.9" text-anchor="end" textLength="7.3" lengthAdjust="spacingAndGlyphs">19</text>
<rect x="413.3" y="342.57" width="14.60" height="18.23" fill="#a8c4f0" shape-rendering="crispEdges"/>
<rect x="413.3" y="324.35" width="14.60" height="18.23" fill="#50a8f0" shape-rendering="crispEdges"/>
<rect x="413.3" y="306.12" width="14.60" height="18.23" fill="#3468a0" shape-rendering="crispEdges"/>
<rect x="413.3" y="287.90" width="14.60" height="18.23" fill="#3b5273" shape-rendering="crispEdges"/>
<rect x="413.3" y="269.68" width="14.60" height="18.23" fill="#2a98e8" shape-rendering="crispEdges"/>
<rect x="413.3" y="251.45" width="14.60" height="18.23" fill="#90b8f0" shape-rendering="crispEdges"/>
<rect x="427.9" y="324.35" width="14.90" height="18.23" fill="#f4a888" shape-rendering="crispEdges"/>
<rect x="427.9" y="306.12" width="14.90" height="18.23" fill="#e87010" shape-rendering="crispEdges"/>
<rect x="427.9" y="287.90" width="14.90" height="18.23" fill="#b85a18" shape-rendering="crispEdges"/>
<rect x="427.9" y="269.68" width="14.90" height="18.23" fill="#6e4531" shape-rendering="crispEdges"/>
<rect x="427.9" y="251.45" width="14.90" height="18.23" fill="#b85a18" shape-rendering="crispEdges"/>
<rect x="427.9" y="233.22" width="14.90" height="18.23" fill="#f78c58" shape-rendering="crispEdges"/>
<rect x="427.9" y="215.00" width="14.90" height="18.23" fill="#f4a888" shape-rendering="crispEdges"/>
<text x="424.4" y="202.9" font-size="8.2" font-style="italic" text-anchor="middle" textLength="39.5" lengthAdjust="spacingAndGlyphs">ENPP7P10</text>
<line x1="470.6" y1="207.9" x2="470.6" y2="368.1" stroke="#b0b0b0" stroke-width="1"/>
<line x1="470.6" y1="368.1" x2="503.6" y2="368.1" stroke="#b0b0b0" stroke-width="1"/>
<text x="465.4" y="369.3" font-size="7.9" text-anchor="end" textLength="8.8" lengthAdjust="spacingAndGlyphs">20</text>
<text x="465.4" y="345.0" font-size="7.9" text-anchor="end" textLength="8.8" lengthAdjust="spacingAndGlyphs">22</text>
<text x="465.4" y="320.7" font-size="7.9" text-anchor="end" textLength="8.8" lengthAdjust="spacingAndGlyphs">24</text>
<text x="465.4" y="296.4" font-size="7.9" text-anchor="end" textLength="8.8" lengthAdjust="spacingAndGlyphs">26</text>
<text x="465.4" y="272.1" font-size="7.9" text-anchor="end" textLength="8.8" lengthAdjust="spacingAndGlyphs">28</text>
<text x="465.4" y="247.8" font-size="7.9" text-anchor="end" textLength="8.8" lengthAdjust="spacingAndGlyphs">30</text>
<text x="465.4" y="223.5" font-size="7.9" text-anchor="end" textLength="8.8" lengthAdjust="spacingAndGlyphs">32</text>
<rect x="472.3" y="348.65" width="14.60" height="12.15" fill="#4aa8f0" shape-rendering="crispEdges"/>
<rect x="472.3" y="336.50" width="14.60" height="12.15" fill="#2a98e8" shape-rendering="crispEdges"/>
<rect x="472.3" y="324.35" width="14.60" height="12.15" fill="#4aa8f0" shape-rendering="crispEdges"/>
<rect x="472.3" y="312.20" width="14.60" height="12.15" fill="#3070b0" shape-rendering="crispEdges"/>
<rect x="472.3" y="300.05" width="14.60" height="12.15" fill="#3b5273" shape-rendering="crispEdges"/>
<rect x="472.3" y="287.90" width="14.60" height="12.15" fill="#3468a0" shape-rendering="crispEdges"/>
<rect x="472.3" y="275.75" width="14.60" height="12.15" fill="#2a85d0" shape-rendering="crispEdges"/>
<rect x="472.3" y="263.60" width="14.60" height="12.15" fill="#70b0f0" shape-rendering="crispEdges"/>
<rect x="472.3" y="251.45" width="14.60" height="12.15" fill="#4aa8f0" shape-rendering="crispEdges"/>
<rect x="472.3" y="215.00" width="14.60" height="12.15" fill="#90b8f0" shape-rendering="crispEdges"/>
<rect x="486.9" y="324.35" width="14.90" height="12.15" fill="#f07a10" shape-rendering="crispEdges"/>
<rect x="486.9" y="312.20" width="14.90" height="12.15" fill="#f78c58" shape-rendering="crispEdges"/>
<rect x="486.9" y="300.05" width="14.90" height="12.15" fill="#f07a10" shape-rendering="crispEdges"/>
<rect x="486.9" y="287.90" width="14.90" height="12.15" fill="#b85a18" shape-rendering="crispEdges"/>
<rect x="486.9" y="275.75" width="14.90" height="12.15" fill="#6e4531" shape-rendering="crispEdges"/>
<rect x="486.9" y="263.60" width="14.90" height="12.15" fill="#f07a10" shape-rendering="crispEdges"/>
<rect x="486.9" y="251.45" width="14.90" height="12.15" fill="#e07000" shape-rendering="crispEdges"/>
<text x="485.2" y="202.9" font-size="8.2" font-style="italic" text-anchor="middle" textLength="22.3" lengthAdjust="spacingAndGlyphs">BMS1</text>
<line x1="529.4" y1="207.9" x2="529.4" y2="368.1" stroke="#b0b0b0" stroke-width="1"/>
<line x1="529.4" y1="368.1" x2="562.4" y2="368.1" stroke="#b0b0b0" stroke-width="1"/>
<text x="524.2" y="369.3" font-size="7.9" text-anchor="end" textLength="4.4" lengthAdjust="spacingAndGlyphs">6</text>
<text x="524.2" y="345.0" font-size="7.9" text-anchor="end" textLength="4.4" lengthAdjust="spacingAndGlyphs">8</text>
<text x="524.2" y="320.7" font-size="7.9" text-anchor="end" textLength="7.3" lengthAdjust="spacingAndGlyphs">10</text>
<text x="524.2" y="296.4" font-size="7.9" text-anchor="end" textLength="7.3" lengthAdjust="spacingAndGlyphs">12</text>
<text x="524.2" y="272.1" font-size="7.9" text-anchor="end" textLength="7.3" lengthAdjust="spacingAndGlyphs">14</text>
<text x="524.2" y="247.8" font-size="7.9" text-anchor="end" textLength="7.3" lengthAdjust="spacingAndGlyphs">16</text>
<text x="524.2" y="223.5" font-size="7.9" text-anchor="end" textLength="7.3" lengthAdjust="spacingAndGlyphs">18</text>
<rect x="531.3" y="300.05" width="14.40" height="12.15" fill="#a8c4f0" shape-rendering="crispEdges"/>
<rect x="531.3" y="287.90" width="14.40" height="12.15" fill="#80b4f0" shape-rendering="crispEdges"/>
<rect x="531.3" y="275.75" width="14.40" height="12.15" fill="#70b0f0" shape-rendering="crispEdges"/>
<rect x="531.3" y="263.60" width="14.40" height="12.15" fill="#3b5273" shape-rendering="crispEdges"/>
<rect x="531.3" y="251.45" width="14.40" height="12.15" fill="#90b8f0" shape-rendering="crispEdges"/>
<rect x="531.3" y="239.30" width="14.40" height="12.15" fill="#a0c0f0" shape-rendering="crispEdges"/>
<rect x="531.3" y="227.15" width="14.40" height="12.15" fill="#a8c4f0" shape-rendering="crispEdges"/>
<rect x="545.7" y="348.65" width="14.90" height="12.15" fill="#f4a888" shape-rendering="crispEdges"/>
<rect x="545.7" y="312.20" width="14.90" height="12.15" fill="#f4a888" shape-rendering="crispEdges"/>
<rect x="545.7" y="300.05" width="14.90" height="12.15" fill="#f78c58" shape-rendering="crispEdges"/>
<rect x="545.7" y="287.90" width="14.90" height="12.15" fill="#e07000" shape-rendering="crispEdges"/>
<rect x="545.7" y="275.75" width="14.90" height="12.15" fill="#f07a10" shape-rendering="crispEdges"/>
<rect x="545.7" y="263.60" width="14.90" height="12.15" fill="#6e4531" shape-rendering="crispEdges"/>
<rect x="545.7" y="215.00" width="14.90" height="12.15" fill="#f4a888" shape-rendering="crispEdges"/>
<text x="542.7" y="202.9" font-size="8.2" font-style="italic" text-anchor="middle" textLength="37.7" lengthAdjust="spacingAndGlyphs">PRAMEF1</text>
<line x1="588.5" y1="207.9" x2="588.5" y2="368.1" stroke="#b0b0b0" stroke-width="1"/>
<line x1="588.5" y1="368.1" x2="621.5" y2="368.1" stroke="#b0b0b0" stroke-width="1"/>
<text x="583.3" y="352.8" font-size="7.9" text-anchor="end" textLength="4.4" lengthAdjust="spacingAndGlyphs">2</text>
<text x="583.3" y="332.0" font-size="7.9" text-anchor="end" textLength="4.4" lengthAdjust="spacingAndGlyphs">3</text>
<text x="583.3" y="311.1" font-size="7.9" text-anchor="end" textLength="4.4" lengthAdjust="spacingAndGlyphs">4</text>
<text x="583.3" y="290.3" font-size="7.9" text-anchor="end" textLength="4.4" lengthAdjust="spacingAndGlyphs">5</text>
<text x="583.3" y="269.5" font-size="7.9" text-anchor="end" textLength="4.4" lengthAdjust="spacingAndGlyphs">6</text>
<text x="583.3" y="248.6" font-size="7.9" text-anchor="end" textLength="4.4" lengthAdjust="spacingAndGlyphs">7</text>
<text x="583.3" y="227.8" font-size="7.9" text-anchor="end" textLength="4.4" lengthAdjust="spacingAndGlyphs">8</text>
<rect x="590.2" y="298.31" width="14.40" height="20.83" fill="#3b5273" shape-rendering="crispEdges"/>
<rect x="590.2" y="214.99" width="14.40" height="83.32" fill="#a3c4ee" shape-rendering="crispEdges"/>
<rect x="604.6" y="339.97" width="14.90" height="20.83" fill="#f4b0a0" shape-rendering="crispEdges"/>
<rect x="604.6" y="319.14" width="14.90" height="20.83" fill="#f59a70" shape-rendering="crispEdges"/>
<rect x="604.6" y="298.31" width="14.90" height="20.83" fill="#6e4531" shape-rendering="crispEdges"/>
<text x="603.6" y="202.9" font-size="8.2" font-style="italic" text-anchor="middle" textLength="22.3" lengthAdjust="spacingAndGlyphs">STRC</text>
<line x1="647.3" y1="207.9" x2="647.3" y2="368.1" stroke="#b0b0b0" stroke-width="1"/>
<line x1="647.3" y1="368.1" x2="680.3" y2="368.1" stroke="#b0b0b0" stroke-width="1"/>
<text x="642.1" y="368.4" font-size="7.9" text-anchor="end" textLength="4.4" lengthAdjust="spacingAndGlyphs">2</text>
<text x="642.1" y="347.6" font-size="7.9" text-anchor="end" textLength="4.4" lengthAdjust="spacingAndGlyphs">4</text>
<text x="642.1" y="326.8" font-size="7.9" text-anchor="end" textLength="4.4" lengthAdjust="spacingAndGlyphs">6</text>
<text x="642.1" y="305.9" font-size="7.9" text-anchor="end" textLength="4.4" lengthAdjust="spacingAndGlyphs">8</text>
<text x="642.1" y="285.1" font-size="7.9" text-anchor="end" textLength="7.3" lengthAdjust="spacingAndGlyphs">10</text>
<text x="642.1" y="264.3" font-size="7.9" text-anchor="end" textLength="7.3" lengthAdjust="spacingAndGlyphs">12</text>
<text x="642.1" y="243.4" font-size="7.9" text-anchor="end" textLength="7.3" lengthAdjust="spacingAndGlyphs">14</text>
<text x="642.1" y="222.6" font-size="7.9" text-anchor="end" textLength="7.3" lengthAdjust="spacingAndGlyphs">16</text>
<rect x="649.0" y="350.39" width="14.40" height="10.41" fill="#80b8f0" shape-rendering="crispEdges"/>
<rect x="649.0" y="339.97" width="14.40" height="10.41" fill="#3b5273" shape-rendering="crispEdges"/>
<rect x="649.0" y="329.56" width="14.40" height="10.41" fill="#5aacf0" shape-rendering="crispEdges"/>
<rect x="649.0" y="319.14" width="14.40" height="10.41" fill="#a8c4f0" shape-rendering="crispEdges"/>
<rect x="649.0" y="308.73" width="14.40" height="10.41" fill="#a8c4f0" shape-rendering="crispEdges"/>
<rect x="649.0" y="298.32" width="14.40" height="10.41" fill="#a8c4f0" shape-rendering="crispEdges"/>
<rect x="649.0" y="277.49" width="14.40" height="10.41" fill="#a0c0f0" shape-rendering="crispEdges"/>
<rect x="649.0" y="267.07" width="14.40" height="10.41" fill="#a0c0f0" shape-rendering="crispEdges"/>
<rect x="649.0" y="215.00" width="14.40" height="10.41" fill="#a0c0f0" shape-rendering="crispEdges"/>
<rect x="663.4" y="350.39" width="14.90" height="10.41" fill="#f07a10" shape-rendering="crispEdges"/>
<rect x="663.4" y="339.97" width="14.90" height="10.41" fill="#6e4531" shape-rendering="crispEdges"/>
<rect x="663.4" y="329.56" width="14.90" height="10.41" fill="#f59a78" shape-rendering="crispEdges"/>
<rect x="663.4" y="308.73" width="14.90" height="10.41" fill="#f4b098" shape-rendering="crispEdges"/>
<text x="663.2" y="202.9" font-size="8.2" font-style="italic" text-anchor="middle" textLength="43.6" lengthAdjust="spacingAndGlyphs">ARHGEF35</text>
<text x="-0.2" y="403.1" font-size="12.5" font-weight="bold" stroke="#111" stroke-width="0.45" fill="#111">c</text>
<line x1="48.45" y1="411.5" x2="48.45" y2="586.2" stroke="#9e9e9e" stroke-width="1"/>
<line x1="48.45" y1="586.2" x2="81.95" y2="586.2" stroke="#a4a4a4" stroke-width="1"/>
<text x="44.8" y="567.2" font-size="7.9" text-anchor="end" textLength="4.4" lengthAdjust="spacingAndGlyphs">5</text>
<text x="44.8" y="522.5" font-size="7.9" text-anchor="end" textLength="7.3" lengthAdjust="spacingAndGlyphs">10</text>
<text x="44.8" y="477.8" font-size="7.9" text-anchor="end" textLength="7.3" lengthAdjust="spacingAndGlyphs">15</text>
<text x="44.8" y="433.1" font-size="7.9" text-anchor="end" textLength="8.8" lengthAdjust="spacingAndGlyphs">20</text>
<line x1="64.9" y1="420.3" x2="64.9" y2="578.0" stroke="#e2e9f1" stroke-width="1.2"/>
<path d="M64.35,484.00 L64.33,484.00 L64.32,484.50 L64.31,485.00 L64.30,485.50 L64.28,486.00 L64.25,486.50 L64.22,487.00 L64.18,487.50 L64.13,488.00 L64.07,488.50 L64.00,489.00 L63.92,489.50 L63.88,490.00 L63.92,490.50 L64.00,491.00 L64.07,491.50 L64.13,492.00 L64.17,492.50 L64.21,493.00 L64.23,493.50 L64.25,494.00 L64.25,494.50 L64.25,495.00 L64.24,495.50 L64.22,496.00 L64.20,496.50 L64.15,497.00 L64.10,497.50 L64.03,498.00 L63.93,498.50 L63.82,499.00 L63.69,499.50 L63.56,500.00 L63.51,500.50 L63.60,501.00 L63.73,501.50 L63.85,502.00 L63.95,502.50 L64.02,503.00 L64.07,503.50 L64.11,504.00 L64.12,504.50 L64.11,505.00 L64.09,505.50 L64.04,506.00 L63.96,506.50 L63.86,507.00 L63.73,507.50 L63.56,508.00 L63.36,508.50 L63.21,509.00 L63.01,509.50 L62.97,510.00 L63.14,510.50 L63.35,511.00 L63.45,511.50 L63.60,512.00 L63.70,512.50 L63.76,513.00 L63.77,513.50 L63.73,514.00 L63.64,514.50 L63.51,515.00 L63.23,515.50 L62.99,516.00 L62.69,516.50 L62.30,517.00 L61.88,517.50 L61.58,518.00 L61.69,518.50 L62.06,519.00 L62.43,519.50 L62.74,520.00 L63.11,520.50 L63.39,521.00 L63.53,521.50 L63.61,522.00 L63.63,522.50 L63.59,523.00 L63.49,523.50 L63.24,524.00 L63.04,524.50 L62.75,525.00 L62.37,525.50 L61.85,526.00 L61.23,526.50 L60.57,527.00 L60.20,527.50 L60.54,528.00 L61.18,528.50 L61.77,529.00 L62.21,529.50 L62.54,530.00 L62.75,530.50 L62.82,531.00 L62.76,531.50 L62.57,532.00 L62.24,532.50 L61.86,533.00 L61.35,533.50 L60.68,534.00 L59.83,534.50 L58.69,535.00 L57.59,535.50 L57.37,536.00 L58.26,536.50 L59.36,537.00 L60.31,537.50 L61.08,538.00 L61.69,538.50 L62.13,539.00 L62.40,539.50 L62.49,540.00 L62.39,540.50 L62.13,541.00 L61.69,541.50 L61.10,542.00 L60.32,542.50 L59.30,543.00 L57.99,543.50 L56.34,544.00 L54.45,544.50 L52.87,545.00 L53.06,545.50 L54.73,546.00 L56.53,546.50 L58.08,547.00 L59.28,547.50 L60.19,548.00 L60.85,548.50 L61.30,549.00 L61.56,549.50 L61.59,550.00 L61.39,550.50 L60.93,551.00 L60.21,551.50 L59.21,552.00 L57.86,552.50 L56.10,553.00 L53.96,553.50 L51.54,554.00 L49.86,554.50 L50.72,555.00 L53.01,555.50 L55.23,556.00 L57.10,556.50 L58.60,557.00 L59.75,557.50 L60.54,558.00 L61.00,558.50 L61.20,559.00 L61.15,559.50 L60.91,560.00 L60.43,560.50 L59.69,561.00 L58.69,561.50 L57.48,562.00 L56.05,562.50 L54.70,563.00 L54.54,563.50 L55.87,564.00 L57.44,564.50 L58.83,565.00 L60.05,565.50 L61.04,566.00 L61.82,566.50 L62.41,567.00 L62.83,567.50 L63.14,568.00 L63.46,568.50 L63.62,569.00 L63.70,569.50 L63.72,570.00 L63.68,570.50 L63.57,571.00 L63.40,571.50 L63.21,572.00 L62.89,572.50 L62.51,573.00 L62.41,573.50 L62.65,574.00 L63.08,574.50 L63.45,575.00 L63.68,575.50 L63.86,576.00 L64.00,576.50 L64.10,577.00 L64.17,577.50 L64.26,578.00 L64.35,578.00 Z" fill="#3274a1"/>
<path d="M65.45,420.00 L65.45,420.00 L65.45,420.50 L65.45,421.00 L65.45,421.50 L65.45,422.00 L65.45,422.50 L65.45,423.00 L65.45,423.50 L65.45,424.00 L65.45,424.50 L65.45,425.00 L65.45,425.50 L65.45,426.00 L65.45,426.50 L65.45,427.00 L65.45,427.50 L65.45,428.00 L65.46,428.50 L65.46,429.00 L65.46,429.50 L65.47,430.00 L65.47,430.50 L65.48,431.00 L65.49,431.50 L65.51,432.00 L65.53,432.50 L65.56,433.00 L65.59,433.50 L65.64,434.00 L65.69,434.50 L65.75,435.00 L65.81,435.50 L65.82,436.00 L65.77,436.50 L65.71,437.00 L65.65,437.50 L65.61,438.00 L65.58,438.50 L65.56,439.00 L65.54,439.50 L65.54,440.00 L65.54,440.50 L65.55,441.00 L65.57,441.50 L65.60,442.00 L65.65,442.50 L65.71,443.00 L65.79,443.50 L65.89,444.00 L66.02,444.50 L66.18,445.00 L66.36,445.50 L66.56,446.00 L66.60,446.50 L66.41,447.00 L66.22,447.50 L66.07,448.00 L65.94,448.50 L65.84,449.00 L65.76,449.50 L65.71,450.00 L65.67,450.50 L65.66,451.00 L65.66,451.50 L65.68,452.00 L65.71,452.50 L65.77,453.00 L65.85,453.50 L65.95,454.00 L66.09,454.50 L66.26,455.00 L66.59,455.50 L66.82,456.00 L66.98,456.50 L66.91,457.00 L66.65,457.50 L66.41,458.00 L66.29,458.50 L66.15,459.00 L66.04,459.50 L65.97,460.00 L65.93,460.50 L65.92,461.00 L65.94,461.50 L65.98,462.00 L66.05,462.50 L66.16,463.00 L66.30,463.50 L66.40,464.00 L66.67,464.50 L66.99,465.00 L67.26,465.50 L67.40,466.00 L67.25,466.50 L66.98,467.00 L66.76,467.50 L66.59,468.00 L66.47,468.50 L66.41,469.00 L66.39,469.50 L66.42,470.00 L66.52,470.50 L66.75,471.00 L67.04,471.50 L67.44,472.00 L67.85,472.50 L68.33,473.00 L68.92,473.50 L69.66,474.00 L70.65,474.50 L71.69,475.00 L72.13,475.50 L71.56,476.00 L70.73,476.50 L70.04,477.00 L69.54,477.50 L69.28,478.00 L69.22,478.50 L69.38,479.00 L69.71,479.50 L70.12,480.00 L70.75,480.50 L71.61,481.00 L72.84,481.50 L74.38,482.00 L75.73,482.50 L75.69,483.00 L74.37,483.50 L72.98,484.00 L71.80,484.50 L70.87,485.00 L70.18,485.50 L69.68,486.00 L69.35,486.50 L69.13,487.00 L69.02,487.50 L69.04,488.00 L69.19,488.50 L69.47,489.00 L69.90,489.50 L70.48,490.00 L71.19,490.50 L72.05,491.00 L73.12,491.50 L74.41,492.00 L76.03,492.50 L77.23,493.00 L76.83,493.50 L75.45,494.00 L74.10,494.50 L73.00,495.00 L72.17,495.50 L71.69,496.00 L71.46,496.50 L71.47,497.00 L71.70,497.50 L72.11,498.00 L72.79,498.50 L73.76,499.00 L74.93,499.50 L76.33,500.00 L78.00,500.50 L79.77,501.00 L80.90,501.50 L79.84,502.00 L77.88,502.50 L76.07,503.00 L74.60,503.50 L73.46,504.00 L72.64,504.50 L72.09,505.00 L71.81,505.50 L71.78,506.00 L72.00,506.50 L72.52,507.00 L73.32,507.50 L74.42,508.00 L75.80,508.50 L77.45,509.00 L79.03,509.50 L79.23,510.00 L77.65,510.50 L75.84,511.00 L74.29,511.50 L73.04,512.00 L72.08,512.50 L71.38,513.00 L70.91,513.50 L70.73,514.00 L70.78,514.50 L71.01,515.00 L71.43,515.50 L71.99,516.00 L72.77,516.50 L73.76,517.00 L74.95,517.50 L75.83,518.00 L75.37,518.50 L74.14,519.00 L72.99,519.50 L72.02,520.00 L71.24,520.50 L70.62,521.00 L70.12,521.50 L69.79,522.00 L69.63,522.50 L69.63,523.00 L69.80,523.50 L70.15,524.00 L70.72,524.50 L71.55,525.00 L72.66,525.50 L74.07,526.00 L75.77,526.50 L77.63,527.00 L78.64,527.50 L77.56,528.00 L75.45,528.50 L73.54,529.00 L71.97,529.50 L70.83,530.00 L70.10,530.50 L69.60,531.00 L69.30,531.50 L69.09,532.00 L69.05,532.50 L69.20,533.00 L69.54,533.50 L70.11,534.00 L70.87,534.50 L71.82,535.00 L72.73,535.50 L72.77,536.00 L71.78,536.50 L70.66,537.00 L69.64,537.50 L68.80,538.00 L68.13,538.50 L67.62,539.00 L67.26,539.50 L67.01,540.00 L66.83,540.50 L66.71,541.00 L66.66,541.50 L66.67,542.00 L66.77,542.50 L67.00,543.00 L67.31,543.50 L67.70,544.00 L68.08,544.50 L68.35,545.00 L68.20,545.50 L67.71,546.00 L67.27,546.50 L66.89,547.00 L66.58,547.50 L66.33,548.00 L66.26,548.50 L66.10,549.00 L65.97,549.50 L65.88,550.00 L65.80,550.50 L65.75,551.00 L65.70,551.50 L65.67,552.00 L65.64,552.50 L65.62,553.00 L65.60,553.50 L65.58,554.00 L65.57,554.50 L65.56,555.00 L65.55,555.50 L65.54,556.00 L65.54,556.50 L65.53,557.00 L65.52,557.50 L65.52,558.00 L65.51,558.50 L65.51,559.00 L65.50,559.50 L65.48,560.00 L65.45,560.00 Z" fill="#e1812c"/>
<text x="63.2" y="403.9" font-size="8.2" font-style="italic" text-anchor="middle" textLength="30.6" lengthAdjust="spacingAndGlyphs">NPEPPS</text>
<text transform="translate(30.1,496.9) rotate(-90)" font-size="8.6" text-anchor="middle">CN</text>
<line x1="108.35" y1="411.5" x2="108.35" y2="586.2" stroke="#9e9e9e" stroke-width="1"/>
<line x1="108.35" y1="586.2" x2="141.85" y2="586.2" stroke="#a4a4a4" stroke-width="1"/>
<text x="104.6" y="551.3" font-size="7.9" text-anchor="end" textLength="4.4" lengthAdjust="spacingAndGlyphs">5</text>
<text x="104.6" y="509.4" font-size="7.9" text-anchor="end" textLength="7.3" lengthAdjust="spacingAndGlyphs">10</text>
<text x="104.6" y="467.5" font-size="7.9" text-anchor="end" textLength="7.3" lengthAdjust="spacingAndGlyphs">15</text>
<text x="104.6" y="425.6" font-size="7.9" text-anchor="end" textLength="8.8" lengthAdjust="spacingAndGlyphs">20</text>
<line x1="124.8" y1="420.3" x2="124.8" y2="578.0" stroke="#e2e9f1" stroke-width="1.2"/>
<path d="M124.25,501.00 L124.06,501.00 L123.92,501.50 L123.77,502.00 L123.62,502.50 L123.48,503.00 L123.34,503.50 L123.10,504.00 L122.70,504.50 L122.56,505.00 L122.51,505.50 L122.48,506.00 L122.49,506.50 L122.59,507.00 L122.69,507.50 L122.80,508.00 L122.79,508.50 L122.71,509.00 L122.62,509.50 L122.53,510.00 L122.45,510.50 L122.37,511.00 L122.28,511.50 L122.21,512.00 L122.16,512.50 L122.12,513.00 L122.08,513.50 L122.12,514.00 L122.18,514.50 L122.25,515.00 L122.24,515.50 L121.93,516.00 L121.61,516.50 L121.30,517.00 L121.11,517.50 L121.02,518.00 L120.93,518.50 L120.84,519.00 L121.02,519.50 L121.20,520.00 L121.37,520.50 L121.45,521.00 L121.39,521.50 L121.32,522.00 L121.25,522.50 L121.33,523.00 L121.44,523.50 L121.55,524.00 L121.64,524.50 L121.57,525.00 L121.51,525.50 L121.44,526.00 L121.29,526.50 L121.03,527.00 L120.69,527.50 L120.25,528.00 L119.92,528.50 L119.58,529.00 L119.23,529.50 L118.74,530.00 L117.98,530.50 L117.21,531.00 L116.44,531.50 L116.43,532.00 L116.76,532.50 L117.21,533.00 L117.65,533.50 L117.82,534.00 L117.99,534.50 L118.20,535.00 L118.01,535.50 L117.62,536.00 L117.33,536.50 L117.11,537.00 L117.75,537.50 L118.35,538.00 L118.87,538.50 L119.27,539.00 L119.56,539.50 L119.79,540.00 L120.01,540.50 L119.87,541.00 L119.66,541.50 L119.44,542.00 L119.32,542.50 L119.62,543.00 L119.93,543.50 L120.28,544.00 L120.32,544.50 L120.17,545.00 L120.03,545.50 L119.91,546.00 L119.82,546.50 L119.73,547.00 L119.62,547.50 L119.51,548.00 L119.32,548.50 L118.80,549.00 L118.00,549.50 L117.08,550.00 L116.13,550.50 L115.18,551.00 L114.26,551.50 L113.52,552.00 L112.80,552.50 L112.20,553.00 L111.61,553.50 L111.47,554.00 L112.22,554.50 L113.66,555.00 L115.61,555.50 L117.38,556.00 L118.84,556.50 L119.85,557.00 L120.47,557.50 L120.91,558.00 L120.98,558.50 L120.87,559.00 L120.49,559.50 L119.98,560.00 L119.41,560.50 L118.63,561.00 L117.86,561.50 L117.09,562.00 L116.68,562.50 L116.69,563.00 L117.07,563.50 L117.85,564.00 L118.65,564.50 L119.56,565.00 L120.43,565.50 L121.09,566.00 L121.49,566.50 L121.87,567.00 L122.24,567.50 L122.67,568.00 L123.40,568.50 L123.60,569.00 L123.67,569.50 L123.62,570.00 L123.44,570.50 L122.78,571.00 L122.48,571.50 L122.20,572.00 L122.01,572.50 L121.91,573.00 L121.87,573.50 L121.87,574.00 L121.92,574.50 L122.06,575.00 L122.33,575.50 L122.68,576.00 L123.32,576.50 L123.67,577.00 L124.25,577.40 Z" fill="#3274a1"/>
<path d="M125.35,420.30 L125.53,420.30 L125.63,420.80 L125.70,421.30 L125.74,421.80 L125.75,422.30 L125.76,422.80 L125.76,423.30 L125.76,423.80 L125.76,424.30 L125.76,424.80 L125.76,425.30 L125.77,425.80 L125.77,426.30 L125.77,426.80 L125.77,427.30 L125.77,427.80 L125.77,428.30 L125.78,428.80 L125.78,429.30 L125.78,429.80 L125.78,430.30 L125.78,430.80 L125.78,431.30 L125.78,431.80 L125.79,432.30 L125.79,432.80 L125.79,433.30 L125.79,433.80 L125.79,434.30 L125.79,434.80 L125.80,435.30 L125.80,435.80 L125.80,436.30 L125.80,436.80 L125.80,437.30 L125.80,437.80 L125.81,438.30 L125.81,438.80 L125.81,439.30 L125.81,439.80 L125.81,440.30 L125.81,440.80 L125.82,441.30 L125.82,441.80 L125.82,442.30 L125.82,442.80 L125.82,443.30 L125.82,443.80 L125.83,444.30 L125.83,444.80 L125.83,445.30 L125.83,445.80 L125.83,446.30 L125.83,446.80 L125.83,447.30 L125.84,447.80 L125.84,448.30 L125.84,448.80 L125.84,449.30 L125.84,449.80 L125.84,450.30 L125.85,450.80 L125.85,451.30 L125.87,451.80 L125.90,452.30 L125.94,452.80 L125.99,453.30 L126.05,453.80 L126.10,454.30 L126.15,454.80 L126.21,455.30 L126.28,455.80 L126.34,456.30 L126.51,456.80 L126.73,457.30 L126.98,457.80 L127.23,458.30 L127.49,458.80 L127.76,459.30 L128.02,459.80 L128.02,460.30 L127.92,460.80 L127.74,461.30 L127.58,461.80 L127.74,462.30 L127.84,462.80 L127.89,463.30 L127.86,463.80 L127.76,464.30 L127.67,464.80 L127.57,465.30 L127.37,465.80 L127.23,466.30 L127.17,466.80 L127.21,467.30 L127.32,467.80 L127.45,468.30 L127.58,468.80 L127.64,469.30 L127.68,469.80 L127.70,470.30 L127.71,470.80 L127.67,471.30 L127.58,471.80 L127.44,472.30 L127.50,472.80 L127.69,473.30 L127.87,473.80 L128.05,474.30 L127.82,474.80 L127.61,475.30 L127.42,475.80 L127.43,476.30 L127.70,476.80 L128.04,477.30 L128.42,477.80 L128.71,478.30 L128.99,478.80 L129.27,479.30 L129.49,479.80 L129.43,480.30 L129.36,480.80 L129.27,481.30 L129.34,481.80 L129.51,482.30 L129.64,482.80 L129.72,483.30 L130.04,483.80 L130.34,484.30 L130.63,484.80 L130.75,485.30 L130.64,485.80 L130.52,486.30 L130.41,486.80 L130.19,487.30 L129.99,487.80 L129.84,488.30 L129.79,488.80 L129.98,489.30 L130.19,489.80 L130.39,490.30 L130.61,490.80 L130.86,491.30 L131.10,491.80 L131.32,492.30 L132.02,492.80 L132.70,493.30 L133.35,493.80 L133.76,494.30 L133.79,494.80 L133.83,495.30 L133.86,495.80 L133.57,496.30 L133.19,496.80 L132.81,497.30 L132.63,497.80 L133.29,498.30 L133.96,498.80 L134.64,499.30 L135.08,499.80 L135.36,500.30 L135.64,500.80 L135.93,501.30 L135.83,501.80 L135.75,502.30 L135.72,502.80 L135.74,503.30 L135.79,503.80 L135.84,504.30 L135.88,504.80 L136.30,505.30 L136.82,505.80 L137.34,506.30 L137.70,506.80 L137.43,507.30 L136.99,507.80 L136.40,508.30 L135.92,508.80 L135.53,509.30 L135.15,509.80 L134.77,510.30 L135.46,510.80 L136.23,511.30 L137.21,511.80 L137.95,512.30 L138.10,512.80 L138.30,513.30 L138.49,513.80 L138.83,514.30 L139.21,514.80 L139.57,515.30 L140.05,515.80 L140.99,516.30 L141.84,516.80 L142.48,517.30 L142.22,517.80 L141.38,518.30 L140.48,518.80 L139.60,519.30 L139.83,519.80 L140.04,520.30 L140.24,520.80 L140.21,521.30 L139.91,521.80 L139.69,522.30 L139.59,522.80 L139.07,523.30 L138.47,523.80 L137.88,524.30 L137.42,524.80 L137.54,525.30 L137.66,525.80 L137.78,526.30 L137.90,526.80 L138.02,527.30 L138.13,527.80 L138.23,528.30 L138.23,528.80 L138.23,529.30 L138.23,529.80 L138.41,530.30 L138.87,530.80 L139.33,531.30 L139.79,531.80 L139.62,532.30 L139.27,532.80 L138.83,533.30 L138.35,533.80 L138.10,534.30 L137.67,534.80 L137.15,535.30 L136.34,535.80 L135.42,536.30 L134.69,536.80 L134.23,537.30 L135.00,537.80 L135.98,538.30 L137.06,538.80 L137.69,539.30 L137.54,539.80 L137.37,540.30 L137.17,540.80 L137.50,541.30 L137.97,541.80 L138.43,542.30 L138.82,542.80 L139.00,543.30 L138.73,543.80 L137.95,544.30 L136.90,544.80 L135.70,545.30 L134.41,545.80 L133.15,546.30 L131.59,546.80 L130.44,547.30 L129.66,547.80 L129.28,548.30 L129.25,548.80 L129.26,549.30 L129.36,549.80 L129.32,550.30 L129.40,550.80 L129.61,551.30 L129.91,551.80 L130.39,552.30 L130.80,552.80 L131.05,553.30 L131.03,553.80 L130.75,554.30 L130.33,554.80 L129.85,555.30 L129.13,555.80 L128.47,556.30 L127.90,556.80 L127.59,557.30 L127.56,557.80 L127.55,558.30 L127.54,558.80 L127.33,559.30 L127.07,559.80 L126.82,560.30 L126.58,560.80 L126.38,561.30 L126.21,561.80 L126.07,562.30 L126.13,562.80 L126.30,563.30 L126.46,563.80 L126.28,564.30 L126.17,564.80 L126.03,565.30 L125.88,565.80 L125.71,566.30 L125.35,566.70 Z" fill="#e1812c"/>
<text x="126.0" y="403.9" font-size="8.2" font-style="italic" text-anchor="middle" textLength="62.2" lengthAdjust="spacingAndGlyphs">LOC124905373</text>
<line x1="168.25" y1="411.5" x2="168.25" y2="586.2" stroke="#9e9e9e" stroke-width="1"/>
<line x1="168.25" y1="586.2" x2="201.75" y2="586.2" stroke="#a4a4a4" stroke-width="1"/>
<text x="164.6" y="585.1" font-size="7.9" text-anchor="end" textLength="4.4" lengthAdjust="spacingAndGlyphs">0</text>
<text x="164.6" y="554.0" font-size="7.9" text-anchor="end" textLength="7.3" lengthAdjust="spacingAndGlyphs">10</text>
<text x="164.6" y="522.9" font-size="7.9" text-anchor="end" textLength="8.8" lengthAdjust="spacingAndGlyphs">20</text>
<text x="164.6" y="491.8" font-size="7.9" text-anchor="end" textLength="8.8" lengthAdjust="spacingAndGlyphs">30</text>
<text x="164.6" y="460.7" font-size="7.9" text-anchor="end" textLength="8.8" lengthAdjust="spacingAndGlyphs">40</text>
<text x="164.6" y="429.6" font-size="7.9" text-anchor="end" textLength="8.8" lengthAdjust="spacingAndGlyphs">50</text>
<line x1="184.7" y1="419.8" x2="184.7" y2="577.4" stroke="#e2e9f1" stroke-width="1.2"/>
<path d="M184.15,504.00 L183.89,504.00 L183.68,504.50 L183.42,505.00 L183.16,505.50 L182.87,506.00 L182.68,506.50 L182.50,507.00 L182.36,507.50 L182.15,508.00 L181.97,508.50 L181.83,509.00 L181.73,509.50 L181.68,510.00 L181.63,510.50 L181.58,511.00 L181.49,511.50 L181.37,512.00 L181.25,512.50 L181.12,513.00 L181.35,513.50 L181.57,514.00 L181.79,514.50 L181.80,515.00 L181.53,515.50 L181.25,516.00 L180.96,516.50 L180.94,517.00 L180.98,517.50 L181.03,518.00 L181.05,518.50 L180.94,519.00 L180.84,519.50 L180.72,520.00 L180.47,520.50 L180.12,521.00 L179.76,521.50 L179.39,522.00 L179.40,522.50 L179.42,523.00 L179.44,523.50 L179.39,524.00 L179.22,524.50 L179.01,525.00 L178.76,525.50 L178.41,526.00 L178.03,526.50 L177.64,527.00 L177.26,527.50 L176.88,528.00 L176.51,528.50 L176.13,529.00 L176.02,529.50 L176.13,530.00 L176.28,530.50 L176.48,531.00 L176.22,531.50 L175.96,532.00 L175.68,532.50 L175.44,533.00 L175.22,533.50 L174.86,534.00 L174.38,534.50 L173.75,535.00 L173.09,535.50 L172.43,536.00 L171.77,536.50 L171.07,537.00 L170.53,537.50 L170.14,538.00 L170.12,538.50 L170.33,539.00 L170.56,539.50 L170.78,540.00 L170.64,540.50 L170.50,541.00 L170.36,541.50 L170.26,542.00 L170.23,542.50 L170.17,543.00 L170.08,543.50 L169.49,544.00 L168.77,544.50 L168.04,545.00 L167.48,545.50 L167.63,546.00 L167.82,546.50 L168.04,547.00 L167.96,547.50 L167.68,548.00 L167.40,548.50 L167.13,549.00 L167.02,549.50 L166.98,550.00 L167.08,550.50 L167.71,551.00 L168.97,551.50 L170.25,552.00 L171.51,552.50 L171.90,553.00 L172.13,553.50 L172.42,554.00 L172.73,554.50 L173.01,555.00 L173.32,555.50 L173.62,556.00 L174.11,556.50 L174.65,557.00 L175.08,557.50 L175.46,558.00 L176.25,558.50 L177.02,559.00 L177.77,559.50 L178.32,560.00 L178.62,560.50 L178.95,561.00 L179.28,561.50 L179.46,562.00 L179.62,562.50 L179.78,563.00 L180.01,563.50 L180.49,564.00 L180.93,564.50 L181.34,565.00 L181.60,565.50 L181.76,566.00 L181.93,566.50 L182.10,567.00 L182.41,567.50 L182.70,568.00 L182.99,568.50 L183.18,569.00 L183.24,569.50 L183.27,570.00 L183.48,570.50 L183.65,571.00 L183.80,571.50 L183.93,572.00 L184.15,572.00 Z" fill="#3274a1"/>
<path d="M185.25,449.00 L185.45,449.00 L185.55,449.50 L185.64,450.00 L185.70,450.50 L185.75,451.00 L185.80,451.50 L185.85,452.00 L185.90,452.50 L185.95,453.00 L186.00,453.50 L186.05,454.00 L186.09,454.50 L186.12,455.00 L186.14,455.50 L186.15,456.00 L186.15,456.50 L186.15,457.00 L186.15,457.50 L186.15,458.00 L186.15,458.50 L186.15,459.00 L186.15,459.50 L186.15,460.00 L186.15,460.50 L186.15,461.00 L186.15,461.50 L186.15,462.00 L186.15,462.50 L186.15,463.00 L186.15,463.50 L186.15,464.00 L186.15,464.50 L186.15,465.00 L186.15,465.50 L186.15,466.00 L186.15,466.50 L186.15,467.00 L186.15,467.50 L186.15,468.00 L186.15,468.50 L186.15,469.00 L186.15,469.50 L186.15,470.00 L186.15,470.50 L186.15,471.00 L186.15,471.50 L186.15,472.00 L186.15,472.50 L186.15,473.00 L186.15,473.50 L186.15,474.00 L186.18,474.50 L186.22,475.00 L186.40,475.50 L186.66,476.00 L186.87,476.50 L187.03,477.00 L187.10,477.50 L187.10,478.00 L187.06,478.50 L187.02,479.00 L186.96,479.50 L186.99,480.00 L187.03,480.50 L187.08,481.00 L187.14,481.50 L187.29,482.00 L187.44,482.50 L187.58,483.00 L187.49,483.50 L187.23,484.00 L186.98,484.50 L186.73,485.00 L186.93,485.50 L187.15,486.00 L187.39,486.50 L187.55,487.00 L187.57,487.50 L187.59,488.00 L187.61,488.50 L187.53,489.00 L187.42,489.50 L187.32,490.00 L187.26,490.50 L187.45,491.00 L187.63,491.50 L187.82,492.00 L188.01,492.50 L188.19,493.00 L188.38,493.50 L188.57,494.00 L188.59,494.50 L188.61,495.00 L188.62,495.50 L188.58,496.00 L188.44,496.50 L188.29,497.00 L188.15,497.50 L188.51,498.00 L189.00,498.50 L189.50,499.00 L189.90,499.50 L189.88,500.00 L189.85,500.50 L189.82,501.00 L189.91,501.50 L190.07,502.00 L190.23,502.50 L190.39,503.00 L190.02,503.50 L189.64,504.00 L189.25,504.50 L189.07,505.00 L189.21,505.50 L189.36,506.00 L189.52,506.50 L189.53,507.00 L189.53,507.50 L189.55,508.00 L189.69,508.50 L190.29,509.00 L190.91,509.50 L191.55,510.00 L191.73,510.50 L191.60,511.00 L191.45,511.50 L191.30,512.00 L191.38,512.50 L191.45,513.00 L191.52,513.50 L191.71,514.00 L192.08,514.50 L192.46,515.00 L192.84,515.50 L193.35,516.00 L193.89,516.50 L194.45,517.00 L194.93,517.50 L195.04,518.00 L195.15,518.50 L195.27,519.00 L195.17,519.50 L194.92,520.00 L194.68,520.50 L194.42,521.00 L194.55,521.50 L194.68,522.00 L194.80,522.50 L195.26,523.00 L196.24,523.50 L197.25,524.00 L198.31,524.50 L198.53,525.00 L198.57,525.50 L198.61,526.00 L198.75,526.50 L199.31,527.00 L199.88,527.50 L200.43,528.00 L200.35,528.50 L199.65,529.00 L198.61,529.50 L197.28,530.00 L196.46,530.50 L195.63,531.00 L194.94,531.50 L194.78,532.00 L195.32,532.50 L196.12,533.00 L197.06,533.50 L197.34,534.00 L197.45,534.50 L197.53,535.00 L197.55,535.50 L197.37,536.00 L197.03,536.50 L196.51,537.00 L196.67,537.50 L197.27,538.00 L197.82,538.50 L198.31,539.00 L197.59,539.50 L196.81,540.00 L195.97,540.50 L195.27,541.00 L194.79,541.50 L194.29,542.00 L193.78,542.50 L192.77,543.00 L191.74,543.50 L190.87,544.00 L190.40,544.50 L190.83,545.00 L191.37,545.50 L191.96,546.00 L191.98,546.50 L191.60,547.00 L191.22,547.50 L190.87,548.00 L191.61,548.50 L192.39,549.00 L193.22,549.50 L193.71,550.00 L193.63,550.50 L193.44,551.00 L193.08,551.50 L192.73,552.00 L192.32,552.50 L191.86,553.00 L191.45,553.50 L191.20,554.00 L190.94,554.50 L190.69,555.00 L190.51,555.50 L190.41,556.00 L190.35,556.50 L190.30,557.00 L189.75,557.50 L189.21,558.00 L188.70,558.50 L188.30,559.00 L188.05,559.50 L187.83,560.00 L187.62,560.50 L187.62,561.00 L187.65,561.50 L187.69,562.00 L187.66,562.50 L187.43,563.00 L187.20,563.50 L186.98,564.00 L186.79,564.50 L186.63,565.00 L186.46,565.50 L186.30,566.00 L186.20,566.50 L186.10,567.00 L186.00,567.50 L186.24,568.00 L186.12,568.50 L185.98,569.00 L185.85,569.50 L185.69,570.00 L185.52,570.50 L185.25,570.70 Z" fill="#e1812c"/>
<text x="189.5" y="403.9" font-size="8.2" font-style="italic" text-anchor="middle" textLength="31.5" lengthAdjust="spacingAndGlyphs">PRR20A</text>
<line x1="228.15" y1="411.5" x2="228.15" y2="586.2" stroke="#9e9e9e" stroke-width="1"/>
<line x1="228.15" y1="586.2" x2="261.65" y2="586.2" stroke="#a4a4a4" stroke-width="1"/>
<text x="224.5" y="566.9" font-size="7.9" text-anchor="end" textLength="8.8" lengthAdjust="spacingAndGlyphs">20</text>
<text x="224.5" y="543.1" font-size="7.9" text-anchor="end" textLength="8.8" lengthAdjust="spacingAndGlyphs">40</text>
<text x="224.5" y="519.3" font-size="7.9" text-anchor="end" textLength="8.8" lengthAdjust="spacingAndGlyphs">60</text>
<text x="224.5" y="495.5" font-size="7.9" text-anchor="end" textLength="8.8" lengthAdjust="spacingAndGlyphs">80</text>
<text x="224.5" y="471.7" font-size="7.9" text-anchor="end" textLength="11.7" lengthAdjust="spacingAndGlyphs">100</text>
<text x="224.5" y="447.9" font-size="7.9" text-anchor="end" textLength="11.7" lengthAdjust="spacingAndGlyphs">120</text>
<text x="224.5" y="424.1" font-size="7.9" text-anchor="end" textLength="11.7" lengthAdjust="spacingAndGlyphs">140</text>
<line x1="244.6" y1="420.3" x2="244.6" y2="578.0" stroke="#e2e9f1" stroke-width="1.2"/>
<path d="M244.05,448.00 L243.92,448.00 L243.86,448.50 L243.82,449.00 L243.79,449.50 L243.77,450.00 L243.75,450.50 L243.72,451.00 L243.70,451.50 L243.68,452.00 L243.66,452.50 L243.64,453.00 L243.62,453.50 L243.60,454.00 L243.58,454.50 L243.56,455.00 L243.54,455.50 L243.52,456.00 L243.49,456.50 L243.47,457.00 L243.45,457.50 L243.43,458.00 L243.41,458.50 L243.39,459.00 L243.37,459.50 L243.35,460.00 L243.33,460.50 L243.31,461.00 L243.28,461.50 L243.26,462.00 L243.24,462.50 L243.22,463.00 L243.20,463.50 L243.18,464.00 L243.16,464.50 L243.14,465.00 L243.12,465.50 L243.10,466.00 L243.07,466.50 L242.90,467.00 L242.91,467.50 L242.94,468.00 L243.00,468.50 L243.06,469.00 L243.12,469.50 L243.02,470.00 L242.88,470.50 L242.74,471.00 L242.58,471.50 L242.38,472.00 L242.18,472.50 L241.97,473.00 L242.02,473.50 L242.24,474.00 L242.47,474.50 L242.70,475.00 L242.41,475.50 L242.11,476.00 L241.80,476.50 L241.64,477.00 L241.70,477.50 L241.76,478.00 L241.81,478.50 L241.72,479.00 L241.60,479.50 L241.47,480.00 L241.32,480.50 L241.08,481.00 L240.84,481.50 L240.59,482.00 L240.54,482.50 L240.62,483.00 L240.71,483.50 L240.81,484.00 L240.66,484.50 L240.51,485.00 L240.36,485.50 L240.19,486.00 L240.00,486.50 L239.80,487.00 L239.60,487.50 L239.33,488.00 L239.03,488.50 L238.71,489.00 L238.47,489.50 L238.64,490.00 L238.83,490.50 L239.03,491.00 L238.85,491.50 L238.40,492.00 L237.95,492.50 L237.48,493.00 L237.38,493.50 L237.29,494.00 L237.20,494.50 L237.10,495.00 L236.98,495.50 L236.88,496.00 L236.80,496.50 L236.83,497.00 L236.90,497.50 L236.97,498.00 L237.03,498.50 L236.99,499.00 L236.95,499.50 L236.91,500.00 L236.97,500.50 L237.11,501.00 L237.24,501.50 L237.39,502.00 L237.25,502.50 L237.12,503.00 L236.98,503.50 L236.88,504.00 L236.81,504.50 L236.72,505.00 L236.61,505.50 L236.00,506.00 L235.26,506.50 L234.50,507.00 L233.92,507.50 L234.13,508.00 L234.35,508.50 L234.60,509.00 L234.66,509.50 L234.61,510.00 L234.59,510.50 L234.60,511.00 L234.60,511.50 L234.60,512.00 L234.61,512.50 L234.30,513.00 L233.51,513.50 L232.71,514.00 L231.90,514.50 L231.65,515.00 L231.54,515.50 L231.44,516.00 L231.38,516.50 L231.51,517.00 L231.65,517.50 L231.81,518.00 L232.08,518.50 L232.44,519.00 L232.79,519.50 L233.15,520.00 L233.16,520.50 L233.17,521.00 L233.18,521.50 L233.14,522.00 L233.03,522.50 L232.83,523.00 L232.50,523.50 L231.94,524.00 L231.24,524.50 L230.51,525.00 L229.90,525.50 L229.86,526.00 L230.08,526.50 L230.61,527.00 L230.94,527.50 L231.13,528.00 L231.35,528.50 L231.55,529.00 L232.13,529.50 L232.53,530.00 L232.78,530.50 L232.60,531.00 L231.84,531.50 L231.07,532.00 L230.29,532.50 L230.09,533.00 L230.02,533.50 L229.96,534.00 L229.98,534.50 L230.39,535.00 L230.80,535.50 L231.25,536.00 L231.64,536.50 L232.00,537.00 L232.36,537.50 L232.72,538.00 L232.01,538.50 L231.31,539.00 L230.62,539.50 L230.50,540.00 L231.22,540.50 L231.95,541.00 L232.68,541.50 L232.87,542.00 L232.95,542.50 L233.07,543.00 L233.29,543.50 L233.83,544.00 L234.35,544.50 L234.87,545.00 L234.97,545.50 L234.80,546.00 L234.65,546.50 L234.50,547.00 L234.62,547.50 L234.73,548.00 L234.85,548.50 L234.99,549.00 L235.17,549.50 L235.34,550.00 L235.52,550.50 L235.90,551.00 L236.33,551.50 L236.75,552.00 L237.07,552.50 L237.03,553.00 L237.00,553.50 L236.99,554.00 L237.31,554.50 L237.85,555.00 L238.38,555.50 L238.90,556.00 L238.93,556.50 L238.97,557.00 L239.01,557.50 L239.17,558.00 L239.47,558.50 L239.77,559.00 L240.06,559.50 L240.14,560.00 L240.17,560.50 L240.20,561.00 L240.29,561.50 L240.63,562.00 L240.95,562.50 L241.27,563.00 L241.48,563.50 L241.64,564.00 L241.80,564.50 L241.95,565.00 L241.99,565.50 L242.03,566.00 L242.07,566.50 L242.16,567.00 L242.32,567.50 L242.47,568.00 L242.61,568.50 L242.64,569.00 L242.64,569.50 L242.64,570.00 L242.68,570.50 L242.82,571.00 L242.96,571.50 L243.13,572.00 L243.25,572.50 L243.36,573.00 L243.45,573.50 L243.53,574.00 L243.60,574.50 L243.66,575.00 L243.73,575.50 L243.81,576.00 L243.90,576.50 L244.05,576.50 Z" fill="#3274a1"/>
<path d="M245.15,420.30 L245.39,420.30 L245.54,420.80 L245.66,421.30 L245.73,421.80 L245.75,422.30 L245.75,422.80 L245.75,423.30 L245.75,423.80 L245.75,424.30 L245.75,424.80 L245.75,425.30 L245.75,425.80 L245.75,426.30 L245.75,426.80 L245.75,427.30 L245.75,427.80 L245.75,428.30 L245.75,428.80 L245.75,429.30 L245.75,429.80 L245.75,430.30 L245.75,430.80 L245.75,431.30 L245.75,431.80 L245.75,432.30 L245.75,432.80 L245.75,433.30 L245.75,433.80 L245.75,434.30 L245.75,434.80 L245.75,435.30 L245.75,435.80 L245.75,436.30 L245.75,436.80 L245.75,437.30 L245.75,437.80 L245.75,438.30 L245.75,438.80 L245.75,439.30 L245.75,439.80 L245.75,440.30 L245.75,440.80 L245.75,441.30 L245.75,441.80 L245.75,442.30 L245.75,442.80 L245.75,443.30 L245.75,443.80 L245.75,444.30 L245.75,444.80 L245.77,445.30 L245.82,445.80 L245.91,446.30 L246.04,446.80 L246.21,447.30 L246.49,447.80 L246.77,448.30 L247.07,448.80 L247.34,449.30 L247.58,449.80 L247.88,450.30 L248.25,450.80 L248.67,451.30 L249.10,451.80 L249.53,452.30 L249.88,452.80 L250.00,453.30 L249.93,453.80 L249.69,454.30 L249.52,454.80 L249.42,455.30 L249.29,455.80 L249.16,456.30 L248.79,456.80 L248.43,457.30 L248.09,457.80 L247.83,458.30 L247.70,458.80 L247.68,459.30 L247.74,459.80 L247.70,460.30 L247.62,460.80 L247.55,461.30 L247.49,461.80 L247.51,462.30 L247.55,462.80 L247.62,463.30 L247.78,463.80 L248.01,464.30 L248.25,464.80 L248.50,465.30 L248.81,465.80 L249.13,466.30 L249.44,466.80 L249.64,467.30 L249.63,467.80 L249.52,468.30 L249.32,468.80 L249.50,469.30 L249.74,469.80 L249.96,470.30 L250.06,470.80 L249.74,471.30 L249.43,471.80 L249.14,472.30 L248.99,472.80 L248.98,473.30 L249.06,473.80 L249.22,474.30 L249.38,474.80 L249.55,475.30 L249.72,475.80 L249.90,476.30 L250.10,476.80 L250.30,477.30 L250.51,477.80 L250.60,478.30 L250.66,478.80 L250.72,479.30 L250.74,479.80 L250.60,480.30 L250.46,480.80 L250.31,481.30 L250.63,481.80 L251.30,482.30 L251.99,482.80 L252.69,483.30 L252.83,483.80 L252.97,484.30 L253.10,484.80 L253.18,485.30 L253.17,485.80 L253.16,486.30 L253.14,486.80 L253.27,487.30 L253.44,487.80 L253.58,488.30 L253.72,488.80 L253.91,489.30 L254.10,489.80 L254.29,490.30 L254.13,490.80 L253.74,491.30 L253.34,491.80 L252.93,492.30 L253.57,492.80 L254.23,493.30 L254.95,493.80 L255.37,494.30 L255.29,494.80 L255.25,495.30 L255.22,495.80 L255.40,496.30 L255.64,496.80 L255.86,497.30 L256.15,497.80 L256.73,498.30 L257.27,498.80 L257.68,499.30 L258.08,499.80 L258.44,500.30 L258.69,500.80 L258.88,501.30 L258.01,501.80 L257.17,502.30 L256.39,502.80 L256.17,503.30 L256.77,503.80 L257.56,504.30 L258.47,504.80 L259.18,505.30 L259.86,505.80 L260.54,506.30 L261.08,506.80 L260.93,507.30 L260.75,507.80 L260.49,508.30 L260.38,508.80 L260.33,509.30 L260.18,509.80 L259.98,510.30 L260.02,510.80 L260.06,511.30 L260.10,511.80 L260.19,512.30 L260.36,512.80 L260.53,513.30 L260.69,513.80 L260.70,514.30 L260.64,514.80 L260.49,515.30 L260.21,515.80 L259.67,516.30 L259.12,516.80 L258.57,517.30 L258.15,517.80 L257.81,518.30 L257.50,518.80 L257.25,519.30 L256.48,519.80 L255.78,520.30 L255.11,520.80 L254.70,521.30 L254.65,521.80 L254.60,522.30 L254.55,522.80 L254.52,523.30 L254.50,523.80 L254.48,524.30 L254.53,524.80 L254.84,525.30 L255.15,525.80 L255.45,526.30 L255.26,526.80 L254.76,527.30 L254.29,527.80 L253.82,528.30 L253.96,528.80 L254.09,529.30 L254.22,529.80 L254.08,530.30 L253.54,530.80 L253.01,531.30 L252.49,531.80 L252.35,532.30 L252.31,532.80 L252.27,533.30 L252.24,533.80 L252.31,534.30 L252.37,534.80 L252.42,535.30 L252.56,535.80 L252.75,536.30 L252.93,536.80 L253.11,537.30 L253.00,537.80 L252.90,538.30 L252.80,538.80 L252.68,539.30 L252.54,539.80 L252.40,540.30 L252.26,540.80 L251.91,541.30 L251.53,541.80 L251.14,542.30 L250.85,542.80 L250.86,543.30 L250.87,543.80 L250.87,544.30 L250.77,544.80 L250.60,545.30 L250.43,545.80 L250.26,546.30 L250.10,546.80 L249.94,547.30 L249.78,547.80 L249.54,548.30 L249.19,548.80 L248.85,549.30 L248.53,549.80 L248.63,550.30 L248.84,550.80 L249.02,551.30 L249.05,551.80 L248.56,552.30 L248.07,552.80 L247.60,553.30 L247.48,553.80 L247.59,554.30 L247.67,554.80 L247.73,555.30 L247.49,555.80 L247.25,556.30 L247.00,556.80 L246.63,557.30 L246.00,557.80 L245.70,558.30 L245.15,558.80 Z" fill="#e1812c"/>
<text x="244.1" y="403.9" font-size="8.2" font-style="italic" text-anchor="middle" textLength="38.5" lengthAdjust="spacingAndGlyphs">F AM90A1</text>
<line x1="288.05" y1="411.5" x2="288.05" y2="586.2" stroke="#9e9e9e" stroke-width="1"/>
<line x1="288.05" y1="586.2" x2="321.55" y2="586.2" stroke="#a4a4a4" stroke-width="1"/>
<text x="284.4" y="568.7" font-size="7.9" text-anchor="end" textLength="8.8" lengthAdjust="spacingAndGlyphs">20</text>
<text x="284.4" y="534.6" font-size="7.9" text-anchor="end" textLength="8.8" lengthAdjust="spacingAndGlyphs">30</text>
<text x="284.4" y="500.5" font-size="7.9" text-anchor="end" textLength="8.8" lengthAdjust="spacingAndGlyphs">40</text>
<text x="284.4" y="466.4" font-size="7.9" text-anchor="end" textLength="8.8" lengthAdjust="spacingAndGlyphs">50</text>
<text x="284.4" y="432.3" font-size="7.9" text-anchor="end" textLength="8.8" lengthAdjust="spacingAndGlyphs">60</text>
<line x1="304.5" y1="420.3" x2="304.5" y2="578.0" stroke="#e2e9f1" stroke-width="1.2"/>
<path d="M303.95,455.00 L303.82,455.00 L303.75,455.50 L303.70,456.00 L303.66,456.50 L303.63,457.00 L303.59,457.50 L303.56,458.00 L303.52,458.50 L303.48,459.00 L303.45,459.50 L303.41,460.00 L303.38,460.50 L303.34,461.00 L303.30,461.50 L303.27,462.00 L303.23,462.50 L303.19,463.00 L303.16,463.50 L303.12,464.00 L303.09,464.50 L303.05,465.00 L303.01,465.50 L302.98,466.00 L302.78,466.50 L302.95,467.00 L303.13,467.50 L303.05,468.00 L302.91,468.50 L302.76,469.00 L302.66,469.50 L302.76,470.00 L302.86,470.50 L302.96,471.00 L302.91,471.50 L302.76,472.00 L302.60,472.50 L302.43,473.00 L302.24,473.50 L302.03,474.00 L301.81,474.50 L301.75,475.00 L301.95,475.50 L302.16,476.00 L302.37,476.50 L302.16,477.00 L301.84,477.50 L301.51,478.00 L301.25,478.50 L301.29,479.00 L301.33,479.50 L301.37,480.00 L301.25,480.50 L301.02,481.00 L300.79,481.50 L300.55,482.00 L300.54,482.50 L300.54,483.00 L300.52,483.50 L300.54,484.00 L300.64,484.50 L300.73,485.00 L300.82,485.50 L300.50,486.00 L300.06,486.50 L299.61,487.00 L299.25,487.50 L299.32,488.00 L299.39,488.50 L299.48,489.00 L299.58,489.50 L299.70,490.00 L299.83,490.50 L299.97,491.00 L299.87,491.50 L299.79,492.00 L299.71,492.50 L299.51,493.00 L299.15,493.50 L298.78,494.00 L298.40,494.50 L298.27,495.00 L298.21,495.50 L298.15,496.00 L298.10,496.50 L298.10,497.00 L298.11,497.50 L298.10,498.00 L298.08,498.50 L298.06,499.00 L298.02,499.50 L297.99,500.00 L297.70,500.50 L297.41,501.00 L297.12,501.50 L296.89,502.00 L296.76,502.50 L296.62,503.00 L296.49,503.50 L296.00,504.00 L295.39,504.50 L294.73,505.00 L294.23,505.50 L294.60,506.00 L295.01,506.50 L295.45,507.00 L295.07,507.50 L294.10,508.00 L293.11,508.50 L292.10,509.00 L291.74,509.50 L291.43,510.00 L291.18,510.50 L291.29,511.00 L291.91,511.50 L292.54,512.00 L293.18,512.50 L292.58,513.00 L291.65,513.50 L290.69,514.00 L289.88,514.50 L289.82,515.00 L289.63,515.50 L289.34,516.00 L288.73,516.50 L287.93,517.00 L287.18,517.50 L286.57,518.00 L287.17,518.50 L287.95,519.00 L288.83,519.50 L289.37,520.00 L289.40,520.50 L289.42,521.00 L289.45,521.50 L289.54,522.00 L289.63,522.50 L289.70,523.00 L289.57,523.50 L288.84,524.00 L288.07,524.50 L287.28,525.00 L287.22,525.50 L287.65,526.00 L288.09,526.50 L288.53,527.00 L288.76,527.50 L289.00,528.00 L289.26,528.50 L289.41,529.00 L289.37,529.50 L289.34,530.00 L289.31,530.50 L289.50,531.00 L289.74,531.50 L289.98,532.00 L290.24,532.50 L290.57,533.00 L290.94,533.50 L291.35,534.00 L291.60,534.50 L291.75,535.00 L291.91,535.50 L292.08,536.00 L291.50,536.50 L290.94,537.00 L290.36,537.50 L290.28,538.00 L290.95,538.50 L291.56,539.00 L292.15,539.50 L291.72,540.00 L291.03,540.50 L290.35,541.00 L289.98,541.50 L290.79,542.00 L291.65,542.50 L292.56,543.00 L293.05,543.50 L293.27,544.00 L293.49,544.50 L293.71,545.00 L293.71,545.50 L293.73,546.00 L293.75,546.50 L293.98,547.00 L294.51,547.50 L295.03,548.00 L295.54,548.50 L295.70,549.00 L295.79,549.50 L295.88,550.00 L295.91,550.50 L295.71,551.00 L295.53,551.50 L295.37,552.00 L295.49,552.50 L295.78,553.00 L296.05,553.50 L296.32,554.00 L296.58,554.50 L296.85,555.00 L297.11,555.50 L297.39,556.00 L297.71,556.50 L298.03,557.00 L298.34,557.50 L298.44,558.00 L298.50,558.50 L298.57,559.00 L298.68,559.50 L298.90,560.00 L299.13,560.50 L299.35,561.00 L299.70,561.50 L300.11,562.00 L300.51,562.50 L300.90,563.00 L301.05,563.50 L301.21,564.00 L301.34,564.50 L301.57,565.00 L301.94,565.50 L302.27,566.00 L302.57,566.50 L302.49,567.00 L302.31,567.50 L302.15,568.00 L302.06,568.50 L302.22,569.00 L302.38,569.50 L302.53,570.00 L302.58,570.50 L302.55,571.00 L302.53,571.50 L302.50,572.00 L302.61,572.50 L302.72,573.00 L303.00,573.50 L303.09,574.00 L303.18,574.50 L303.27,575.00 L303.37,575.50 L303.47,576.00 L303.57,576.50 L303.67,577.00 L303.78,577.50 L303.95,577.50 Z" fill="#3274a1"/>
<path d="M305.05,419.00 L305.27,419.00 L305.41,419.50 L305.54,420.00 L305.61,420.50 L305.64,421.00 L305.65,421.50 L305.65,422.00 L305.65,422.50 L305.65,423.00 L305.65,423.50 L305.65,424.00 L305.65,424.50 L305.65,425.00 L305.65,425.50 L305.65,426.00 L305.65,426.50 L305.65,427.00 L305.65,427.50 L305.65,428.00 L305.65,428.50 L305.65,429.00 L305.65,429.50 L305.65,430.00 L305.65,430.50 L305.65,431.00 L305.65,431.50 L305.65,432.00 L305.65,432.50 L305.65,433.00 L305.65,433.50 L305.65,434.00 L305.65,434.50 L305.65,435.00 L305.65,435.50 L305.65,436.00 L305.65,436.50 L305.68,437.00 L305.79,437.50 L306.03,438.00 L306.08,438.50 L306.40,439.00 L306.66,439.50 L306.81,440.00 L306.89,440.50 L306.97,441.00 L307.06,441.50 L307.14,442.00 L307.27,442.50 L307.61,443.00 L307.96,443.50 L308.32,444.00 L308.41,444.50 L308.31,445.00 L308.22,445.50 L308.13,446.00 L308.11,446.50 L308.11,447.00 L308.12,447.50 L308.31,448.00 L308.77,448.50 L309.25,449.00 L309.73,449.50 L310.00,450.00 L310.20,450.50 L310.41,451.00 L310.56,451.50 L310.42,452.00 L310.27,452.50 L310.08,453.00 L309.91,453.50 L309.73,454.00 L309.50,454.50 L309.25,455.00 L309.20,455.50 L309.14,456.00 L309.08,456.50 L308.99,457.00 L308.85,457.50 L308.73,458.00 L308.64,458.50 L308.76,459.00 L308.99,459.50 L309.25,460.00 L309.49,460.50 L309.52,461.00 L309.53,461.50 L309.55,462.00 L309.69,462.50 L309.94,463.00 L310.18,463.50 L310.43,464.00 L310.60,464.50 L310.77,465.00 L310.93,465.50 L311.17,466.00 L311.53,466.50 L311.90,467.00 L312.27,467.50 L312.66,468.00 L313.05,468.50 L313.45,469.00 L313.79,469.50 L313.86,470.00 L313.95,470.50 L314.07,471.00 L314.17,471.50 L314.26,472.00 L314.38,472.50 L314.50,473.00 L314.91,473.50 L315.33,474.00 L315.74,474.50 L316.19,475.00 L316.72,475.50 L317.24,476.00 L317.78,476.50 L318.08,477.00 L318.31,477.50 L318.50,478.00 L318.70,478.50 L318.98,479.00 L319.23,479.50 L319.40,480.00 L319.22,480.50 L318.68,481.00 L317.94,481.50 L317.10,482.00 L316.79,482.50 L316.46,483.00 L316.12,483.50 L316.00,484.00 L316.26,484.50 L316.72,485.00 L317.42,485.50 L317.13,486.00 L316.60,486.50 L316.04,487.00 L315.71,487.50 L316.36,488.00 L317.03,488.50 L317.72,489.00 L318.25,489.50 L318.68,490.00 L319.11,490.50 L319.52,491.00 L319.97,491.50 L320.22,492.00 L320.18,492.50 L319.48,493.00 L318.10,493.50 L316.73,494.00 L315.41,494.50 L314.67,495.00 L314.07,495.50 L313.46,496.00 L312.87,496.50 L312.32,497.00 L311.91,497.50 L311.65,498.00 L311.57,498.50 L311.57,499.00 L311.58,499.50 L311.59,500.00 L311.52,500.50 L311.46,501.00 L311.40,501.50 L311.45,502.00 L311.67,502.50 L311.88,503.00 L312.07,503.50 L311.95,504.00 L311.76,504.50 L311.56,505.00 L311.38,505.50 L311.27,506.00 L311.15,506.50 L311.04,507.00 L310.63,507.50 L310.04,508.00 L309.49,508.50 L308.97,509.00 L308.97,509.50 L308.98,510.00 L309.01,510.50 L309.18,511.00 L309.57,511.50 L309.97,512.00 L310.37,512.50 L310.55,513.00 L310.68,513.50 L310.81,514.00 L310.88,514.50 L310.66,515.00 L310.45,515.50 L310.23,516.00 L310.18,516.50 L310.20,517.00 L310.18,517.50 L310.10,518.00 L309.63,518.50 L309.15,519.00 L308.69,519.50 L308.44,520.00 L308.48,520.50 L308.52,521.00 L308.54,521.50 L308.61,522.00 L308.68,522.50 L308.75,523.00 L308.76,523.50 L308.57,524.00 L308.39,524.50 L308.21,525.00 L308.07,525.50 L307.94,526.00 L307.82,526.50 L307.69,527.00 L307.60,527.50 L307.51,528.00 L307.41,528.50 L307.20,529.00 L306.82,529.50 L306.46,530.00 L306.12,530.50 L305.92,531.00 L305.77,531.50 L306.00,532.00 L305.90,532.50 L305.80,533.00 L305.70,533.50 L305.60,534.00 L305.50,534.50 L305.39,535.00 L305.28,535.50 L305.05,535.80 Z" fill="#e1812c"/>
<text x="302.4" y="403.9" font-size="8.2" font-style="italic" text-anchor="middle" textLength="29.6" lengthAdjust="spacingAndGlyphs">TBC1D3</text>
<line x1="347.95" y1="411.5" x2="347.95" y2="586.2" stroke="#9e9e9e" stroke-width="1"/>
<line x1="347.95" y1="586.2" x2="381.45" y2="586.2" stroke="#a4a4a4" stroke-width="1"/>
<text x="344.2" y="568.3" font-size="7.9" text-anchor="end" textLength="8.8" lengthAdjust="spacingAndGlyphs">50</text>
<text x="344.2" y="537.9" font-size="7.9" text-anchor="end" textLength="11.7" lengthAdjust="spacingAndGlyphs">100</text>
<text x="344.2" y="507.6" font-size="7.9" text-anchor="end" textLength="11.7" lengthAdjust="spacingAndGlyphs">150</text>
<text x="344.2" y="477.2" font-size="7.9" text-anchor="end" textLength="13.3" lengthAdjust="spacingAndGlyphs">200</text>
<text x="344.2" y="446.9" font-size="7.9" text-anchor="end" textLength="13.3" lengthAdjust="spacingAndGlyphs">250</text>
<text x="344.2" y="416.5" font-size="7.9" text-anchor="end" textLength="13.3" lengthAdjust="spacingAndGlyphs">300</text>
<line x1="364.4" y1="420.3" x2="364.4" y2="578.0" stroke="#e2e9f1" stroke-width="1.2"/>
<path d="M363.85,500.00 L363.72,500.00 L363.66,500.50 L363.62,501.00 L363.58,501.50 L363.53,502.00 L363.44,502.50 L363.30,503.00 L363.11,503.50 L362.91,504.00 L362.49,504.50 L362.29,505.00 L362.08,505.50 L361.82,506.00 L361.55,506.50 L361.28,507.00 L361.10,507.50 L361.00,508.00 L360.90,508.50 L360.81,509.00 L360.56,509.50 L360.30,510.00 L360.03,510.50 L359.89,511.00 L359.93,511.50 L359.98,512.00 L360.05,512.50 L359.60,513.00 L358.99,513.50 L358.37,514.00 L357.89,514.50 L358.00,515.00 L358.14,515.50 L358.28,516.00 L357.97,516.50 L357.33,517.00 L356.68,517.50 L356.00,518.00 L355.97,518.50 L355.95,519.00 L355.93,519.50 L355.94,520.00 L355.99,520.50 L356.05,521.00 L356.11,521.50 L356.08,522.00 L356.03,522.50 L355.99,523.00 L355.88,523.50 L355.56,524.00 L355.17,524.50 L354.72,525.00 L354.08,525.50 L353.30,526.00 L352.49,526.50 L351.66,527.00 L351.14,527.50 L350.61,528.00 L350.09,528.50 L349.89,529.00 L350.19,529.50 L350.60,530.00 L351.09,530.50 L351.12,531.00 L351.02,531.50 L350.93,532.00 L350.73,532.50 L350.03,533.00 L349.33,533.50 L348.65,534.00 L348.33,534.50 L348.31,535.00 L348.42,535.50 L348.61,536.00 L349.14,536.50 L349.67,537.00 L350.19,537.50 L350.69,538.00 L351.16,538.50 L351.62,539.00 L352.06,539.50 L352.01,540.00 L351.82,540.50 L351.61,541.00 L351.60,541.50 L352.37,542.00 L353.12,542.50 L353.86,543.00 L354.07,543.50 L353.94,544.00 L353.81,544.50 L353.69,545.00 L353.70,545.50 L353.72,546.00 L353.73,546.50 L353.64,547.00 L353.36,547.50 L353.10,548.00 L352.85,548.50 L353.17,549.00 L353.62,549.50 L354.06,550.00 L354.41,550.50 L354.39,551.00 L354.38,551.50 L354.38,552.00 L354.70,552.50 L355.22,553.00 L355.74,553.50 L356.26,554.00 L356.64,554.50 L357.02,555.00 L357.39,555.50 L357.69,556.00 L357.88,556.50 L358.08,557.00 L358.27,557.50 L358.12,558.00 L357.89,558.50 L357.68,559.00 L357.60,559.50 L357.97,560.00 L358.33,560.50 L358.69,561.00 L359.08,561.50 L359.49,562.00 L359.89,562.50 L360.28,563.00 L360.60,563.50 L360.92,564.00 L361.22,564.50 L361.37,565.00 L361.31,565.50 L361.24,566.00 L361.17,566.50 L361.20,567.00 L361.26,567.50 L361.33,568.00 L361.43,568.50 L361.65,569.00 L361.87,569.50 L362.08,570.00 L362.28,570.50 L362.45,571.00 L362.63,571.50 L362.80,572.00 L362.79,572.50 L362.79,573.00 L362.90,573.50 L363.02,574.00 L363.15,574.50 L363.28,575.00 L363.41,575.50 L363.54,576.00 L363.67,576.50 L363.85,576.50 Z" fill="#3274a1"/>
<path d="M364.95,419.00 L365.14,419.00 L365.26,419.50 L365.36,420.00 L365.42,420.50 L365.45,421.00 L365.45,421.50 L365.46,422.00 L365.46,422.50 L365.46,423.00 L365.46,423.50 L365.46,424.00 L365.46,424.50 L365.47,425.00 L365.47,425.50 L365.47,426.00 L365.47,426.50 L365.47,427.00 L365.47,427.50 L365.47,428.00 L365.48,428.50 L365.48,429.00 L365.48,429.50 L365.48,430.00 L365.48,430.50 L365.48,431.00 L365.49,431.50 L365.49,432.00 L365.49,432.50 L365.49,433.00 L365.49,433.50 L365.49,434.00 L365.49,434.50 L365.50,435.00 L365.50,435.50 L365.50,436.00 L365.50,436.50 L365.50,437.00 L365.50,437.50 L365.51,438.00 L365.51,438.50 L365.51,439.00 L365.51,439.50 L365.51,440.00 L365.51,440.50 L365.51,441.00 L365.52,441.50 L365.52,442.00 L365.52,442.50 L365.52,443.00 L365.52,443.50 L365.52,444.00 L365.53,444.50 L365.53,445.00 L365.53,445.50 L365.53,446.00 L365.53,446.50 L365.53,447.00 L365.53,447.50 L365.54,448.00 L365.54,448.50 L365.54,449.00 L365.54,449.50 L365.54,450.00 L365.54,450.50 L365.55,451.00 L365.55,451.50 L365.56,452.00 L365.58,452.50 L365.61,453.00 L365.65,453.50 L365.69,454.00 L365.74,454.50 L365.79,455.00 L365.84,455.50 L365.88,456.00 L365.92,456.50 L366.16,457.00 L366.27,457.50 L366.37,458.00 L366.48,458.50 L366.33,459.00 L366.11,459.50 L365.89,460.00 L365.74,460.50 L365.83,461.00 L365.92,461.50 L366.02,462.00 L366.03,462.50 L366.00,463.00 L365.96,463.50 L365.92,464.00 L366.18,464.50 L366.43,465.00 L366.69,465.50 L366.75,466.00 L366.51,466.50 L366.27,467.00 L366.03,467.50 L365.97,468.00 L365.96,468.50 L365.95,469.00 L365.95,469.50 L365.99,470.00 L366.02,470.50 L366.06,471.00 L366.16,471.50 L366.30,472.00 L366.45,472.50 L366.59,473.00 L366.80,473.50 L367.01,474.00 L367.23,474.50 L367.37,475.00 L367.40,475.50 L367.44,476.00 L367.47,476.50 L367.48,477.00 L367.48,477.50 L367.50,478.00 L367.55,478.50 L367.74,479.00 L367.93,479.50 L368.13,480.00 L368.25,480.50 L368.32,481.00 L368.38,481.50 L368.45,482.00 L368.29,482.50 L368.13,483.00 L367.95,483.50 L367.85,484.00 L367.87,484.50 L367.89,485.00 L367.92,485.50 L368.30,486.00 L368.80,486.50 L369.32,487.00 L369.77,487.50 L369.86,488.00 L369.94,488.50 L370.02,489.00 L369.93,489.50 L369.71,490.00 L369.47,490.50 L369.22,491.00 L369.74,491.50 L370.27,492.00 L370.81,492.50 L371.13,493.00 L371.09,493.50 L370.96,494.00 L370.73,494.50 L370.53,495.00 L370.31,495.50 L370.07,496.00 L369.81,496.50 L369.55,497.00 L369.33,497.50 L369.20,498.00 L369.20,498.50 L369.35,499.00 L369.60,499.50 L369.88,500.00 L370.17,500.50 L370.45,501.00 L370.71,501.50 L371.10,502.00 L371.68,502.50 L372.28,503.00 L372.89,503.50 L373.38,504.00 L373.82,504.50 L374.19,505.00 L374.48,505.50 L374.90,506.00 L375.09,506.50 L375.13,507.00 L374.40,507.50 L373.24,508.00 L372.15,508.50 L371.16,509.00 L371.45,509.50 L371.94,510.00 L372.66,510.50 L373.12,511.00 L372.95,511.50 L372.76,512.00 L372.54,512.50 L372.87,513.00 L373.36,513.50 L373.88,514.00 L374.50,514.50 L375.39,515.00 L376.33,515.50 L377.30,516.00 L378.03,516.50 L378.56,517.00 L379.10,517.50 L379.64,518.00 L379.73,518.50 L379.77,519.00 L379.70,519.50 L379.40,520.00 L378.79,520.50 L377.90,521.00 L376.86,521.50 L376.50,522.00 L376.27,522.50 L376.00,523.00 L375.63,523.50 L374.99,524.00 L374.58,524.50 L374.44,525.00 L374.83,525.50 L375.55,526.00 L376.31,526.50 L377.10,527.00 L376.68,527.50 L376.23,528.00 L375.73,528.50 L375.53,529.00 L375.85,529.50 L376.15,530.00 L376.46,530.50 L377.07,531.00 L377.76,531.50 L378.46,532.00 L378.88,532.50 L378.10,533.00 L377.30,533.50 L376.49,534.00 L376.47,534.50 L376.95,535.00 L377.30,535.50 L377.39,536.00 L377.22,536.50 L376.84,537.00 L376.35,537.50 L375.64,538.00 L374.69,538.50 L373.79,539.00 L373.02,539.50 L372.16,540.00 L371.56,540.50 L371.21,541.00 L371.06,541.50 L371.34,542.00 L371.63,542.50 L371.91,543.00 L372.21,543.50 L372.52,544.00 L372.84,544.50 L373.14,545.00 L374.13,545.50 L375.03,546.00 L375.72,546.50 L375.63,547.00 L374.62,547.50 L373.58,548.00 L372.58,548.50 L372.30,549.00 L372.16,549.50 L371.99,550.00 L371.75,550.50 L371.37,551.00 L371.06,551.50 L370.85,552.00 L370.48,552.50 L370.01,553.00 L369.56,553.50 L369.13,554.00 L368.96,554.50 L368.79,555.00 L368.62,555.50 L368.59,556.00 L368.78,556.50 L368.95,557.00 L369.11,557.50 L368.90,558.00 L368.60,558.50 L368.33,559.00 L368.07,559.50 L367.82,560.00 L367.58,560.50 L367.34,561.00 L367.30,561.50 L367.38,562.00 L367.46,562.50 L367.53,563.00 L367.28,563.50 L367.04,564.00 L366.80,564.50 L366.62,565.00 L366.51,565.50 L366.41,566.00 L366.30,566.50 L366.13,567.00 L365.95,567.50 L365.77,568.00 L365.66,568.50 L365.79,569.00 L365.95,569.50 L365.84,570.00 L365.74,570.50 L365.63,571.00 L365.53,571.50 L365.42,572.00 L365.31,572.50 L365.19,573.00 L364.95,573.30 Z" fill="#e1812c"/>
<text x="357.3" y="403.9" font-size="8.2" font-style="italic" text-anchor="middle" textLength="37.1" lengthAdjust="spacingAndGlyphs">USP17L10</text>
<line x1="407.85" y1="411.5" x2="407.85" y2="586.2" stroke="#9e9e9e" stroke-width="1"/>
<line x1="407.85" y1="586.2" x2="441.35" y2="586.2" stroke="#a4a4a4" stroke-width="1"/>
<text x="404.2" y="566.4" font-size="7.9" text-anchor="end" textLength="4.4" lengthAdjust="spacingAndGlyphs">5</text>
<text x="404.2" y="526.5" font-size="7.9" text-anchor="end" textLength="7.3" lengthAdjust="spacingAndGlyphs">10</text>
<text x="404.2" y="486.6" font-size="7.9" text-anchor="end" textLength="7.3" lengthAdjust="spacingAndGlyphs">15</text>
<text x="404.2" y="446.7" font-size="7.9" text-anchor="end" textLength="8.8" lengthAdjust="spacingAndGlyphs">20</text>
<line x1="424.3" y1="420.3" x2="424.3" y2="578.0" stroke="#e2e9f1" stroke-width="1.2"/>
<path d="M423.75,452.00 L423.63,452.00 L423.56,452.50 L423.52,453.00 L423.49,453.50 L423.47,454.00 L423.45,454.50 L423.42,455.00 L423.39,455.50 L423.36,456.00 L423.32,456.50 L423.29,457.00 L423.25,457.50 L423.22,458.00 L423.19,458.50 L423.15,459.00 L423.12,459.50 L423.09,460.00 L423.05,460.50 L423.02,461.00 L422.99,461.50 L422.95,462.00 L422.92,462.50 L422.88,463.00 L422.85,463.50 L422.81,464.00 L422.77,464.50 L422.93,465.00 L422.81,465.50 L422.66,466.00 L422.52,466.50 L422.40,467.00 L422.28,467.50 L422.16,468.00 L421.96,468.50 L421.71,469.00 L421.45,469.50 L421.19,470.00 L421.35,470.50 L421.52,471.00 L421.70,471.50 L421.68,472.00 L421.34,472.50 L421.00,473.00 L420.64,473.50 L420.51,474.00 L420.43,474.50 L420.35,475.00 L420.25,475.50 L420.11,476.00 L419.96,476.50 L419.82,477.00 L419.71,477.50 L419.62,478.00 L419.54,478.50 L419.45,479.00 L419.42,479.50 L419.40,480.00 L419.38,480.50 L419.38,481.00 L419.42,481.50 L419.46,482.00 L419.51,482.50 L419.44,483.00 L419.33,483.50 L419.21,484.00 L419.06,484.50 L418.87,485.00 L418.68,485.50 L418.49,486.00 L418.15,486.50 L417.72,487.00 L417.28,487.50 L416.83,488.00 L417.10,488.50 L417.39,489.00 L417.70,489.50 L417.79,490.00 L417.55,490.50 L417.31,491.00 L417.06,491.50 L416.54,492.00 L415.93,492.50 L415.30,493.00 L414.81,493.50 L414.98,494.00 L415.17,494.50 L415.37,495.00 L415.42,495.50 L415.37,496.00 L415.33,496.50 L415.29,497.00 L415.13,497.50 L414.98,498.00 L414.86,498.50 L414.55,499.00 L413.94,499.50 L413.33,500.00 L412.72,500.50 L412.67,501.00 L412.76,501.50 L412.86,502.00 L412.79,502.50 L412.02,503.00 L411.24,503.50 L410.44,504.00 L410.10,504.50 L410.06,505.00 L410.02,505.50 L409.98,506.00 L409.74,506.50 L409.49,507.00 L409.24,507.50 L409.34,508.00 L409.99,508.50 L410.64,509.00 L411.32,509.50 L411.52,510.00 L411.60,510.50 L411.69,511.00 L411.73,511.50 L411.61,512.00 L411.48,512.50 L411.35,513.00 L410.95,513.50 L410.36,514.00 L409.76,514.50 L409.17,515.00 L408.79,515.50 L408.42,516.00 L408.05,516.50 L407.91,517.00 L408.12,517.50 L408.33,518.00 L408.54,518.50 L408.71,519.00 L408.87,519.50 L409.04,520.00 L409.12,520.50 L408.83,521.00 L408.59,521.50 L408.41,522.00 L408.25,522.50 L408.10,523.00 L407.96,523.50 L407.82,524.00 L407.87,524.50 L407.92,525.00 L407.97,525.50 L408.01,526.00 L408.04,526.50 L408.08,527.00 L408.13,527.50 L408.18,528.00 L408.23,528.50 L408.29,529.00 L408.42,529.50 L408.81,530.00 L409.19,530.50 L409.57,531.00 L410.19,531.50 L410.95,532.00 L411.71,532.50 L412.44,533.00 L411.81,533.50 L411.17,534.00 L410.52,534.50 L410.39,535.00 L411.05,535.50 L411.69,536.00 L412.34,536.50 L412.30,537.00 L412.10,537.50 L411.90,538.00 L411.81,538.50 L412.08,539.00 L412.36,539.50 L412.65,540.00 L412.62,540.50 L412.39,541.00 L412.17,541.50 L411.96,542.00 L412.60,542.50 L413.25,543.00 L413.88,543.50 L414.32,544.00 L414.45,544.50 L414.62,545.00 L414.80,545.50 L415.03,546.00 L415.27,546.50 L415.50,547.00 L415.75,547.50 L416.06,548.00 L416.36,548.50 L416.66,549.00 L416.60,549.50 L416.29,550.00 L416.00,550.50 L415.72,551.00 L416.15,551.50 L416.57,552.00 L416.98,552.50 L417.37,553.00 L417.72,553.50 L418.08,554.00 L418.42,554.50 L418.61,555.00 L418.76,555.50 L418.92,556.00 L419.02,556.50 L418.90,557.00 L418.81,557.50 L418.74,558.00 L419.01,558.50 L419.48,559.00 L419.93,559.50 L420.38,560.00 L420.71,560.50 L421.04,561.00 L421.36,561.50 L421.53,562.00 L421.50,562.50 L421.44,563.00 L421.35,563.50 L421.44,564.00 L421.57,564.50 L421.69,565.00 L421.78,565.50 L421.74,566.00 L421.69,566.50 L421.65,567.00 L421.85,567.50 L422.21,568.00 L422.55,568.50 L422.89,569.00 L422.84,569.50 L422.79,570.00 L422.74,570.50 L422.70,571.00 L422.78,571.50 L422.84,572.00 L422.90,572.50 L422.97,573.00 L423.03,573.50 L423.10,574.00 L423.16,574.50 L423.23,575.00 L423.29,575.50 L423.36,576.00 L423.43,576.50 L423.51,577.00 L423.60,577.50 L423.75,577.50 Z" fill="#3274a1"/>
<path d="M424.85,419.00 L425.04,419.00 L425.16,419.50 L425.26,420.00 L425.32,420.50 L425.35,421.00 L425.35,421.50 L425.36,422.00 L425.36,422.50 L425.36,423.00 L425.36,423.50 L425.36,424.00 L425.37,424.50 L425.37,425.00 L425.37,425.50 L425.37,426.00 L425.37,426.50 L425.37,427.00 L425.38,427.50 L425.38,428.00 L425.38,428.50 L425.38,429.00 L425.38,429.50 L425.39,430.00 L425.39,430.50 L425.39,431.00 L425.39,431.50 L425.39,432.00 L425.39,432.50 L425.40,433.00 L425.40,433.50 L425.40,434.00 L425.40,434.50 L425.40,435.00 L425.40,435.50 L425.41,436.00 L425.41,436.50 L425.41,437.00 L425.41,437.50 L425.41,438.00 L425.42,438.50 L425.42,439.00 L425.42,439.50 L425.42,440.00 L425.42,440.50 L425.42,441.00 L425.43,441.50 L425.43,442.00 L425.43,442.50 L425.43,443.00 L425.43,443.50 L425.43,444.00 L425.44,444.50 L425.44,445.00 L425.44,445.50 L425.44,446.00 L425.44,446.50 L425.45,447.00 L425.47,447.50 L425.52,448.00 L425.63,448.50 L425.80,449.00 L425.64,449.50 L425.86,450.00 L426.08,450.50 L426.30,451.00 L426.47,451.50 L426.59,452.00 L426.68,452.50 L426.75,453.00 L426.87,453.50 L427.04,454.00 L427.22,454.50 L427.39,455.00 L427.46,455.50 L427.52,456.00 L427.59,456.50 L427.58,457.00 L427.44,457.50 L427.31,458.00 L427.17,458.50 L427.11,459.00 L427.07,459.50 L427.03,460.00 L427.04,460.50 L427.21,461.00 L427.38,461.50 L427.56,462.00 L427.77,462.50 L428.03,463.00 L428.32,463.50 L428.66,464.00 L428.62,464.50 L428.57,465.00 L428.51,465.50 L428.56,466.00 L428.80,466.50 L429.04,467.00 L429.29,467.50 L429.44,468.00 L429.58,468.50 L429.71,469.00 L429.93,469.50 L430.50,470.00 L431.08,470.50 L431.68,471.00 L431.97,471.50 L432.03,472.00 L432.06,472.50 L432.02,473.00 L431.72,473.50 L431.32,474.00 L430.87,474.50 L430.54,475.00 L430.41,475.50 L430.29,476.00 L430.16,476.50 L430.16,477.00 L430.19,477.50 L430.22,478.00 L430.23,478.50 L430.21,479.00 L430.27,479.50 L430.46,480.00 L430.74,480.50 L431.06,481.00 L431.41,481.50 L431.76,482.00 L431.69,482.50 L431.59,483.00 L431.47,483.50 L431.52,484.00 L431.83,484.50 L432.15,485.00 L432.47,485.50 L433.08,486.00 L433.77,486.50 L434.45,487.00 L434.96,487.50 L434.88,488.00 L434.78,488.50 L434.67,489.00 L434.64,489.50 L434.66,490.00 L434.69,490.50 L434.71,491.00 L434.87,491.50 L435.02,492.00 L435.18,492.50 L435.58,493.00 L436.35,493.50 L437.13,494.00 L437.91,494.50 L437.66,495.00 L437.15,495.50 L436.62,496.00 L436.26,496.50 L436.64,497.00 L437.02,497.50 L437.41,498.00 L437.51,498.50 L437.40,499.00 L437.30,499.50 L437.19,500.00 L437.37,500.50 L437.55,501.00 L437.74,501.50 L438.10,502.00 L438.72,502.50 L439.36,503.00 L440.01,503.50 L440.38,504.00 L440.68,504.50 L440.99,505.00 L441.11,505.50 L440.51,506.00 L439.90,506.50 L439.28,507.00 L438.98,507.50 L438.90,508.00 L438.81,508.50 L438.68,509.00 L439.40,509.50 L440.10,510.00 L440.81,510.50 L440.98,511.00 L440.37,511.50 L439.75,512.00 L439.12,512.50 L438.81,513.00 L438.51,513.50 L438.09,514.00 L437.79,514.50 L438.40,515.00 L438.88,515.50 L439.27,516.00 L438.70,516.50 L437.57,517.00 L436.48,517.50 L435.44,518.00 L435.28,518.50 L435.24,519.00 L435.38,519.50 L435.45,520.00 L435.21,520.50 L435.00,521.00 L434.80,521.50 L435.24,522.00 L435.85,522.50 L436.47,523.00 L436.93,523.50 L436.71,524.00 L436.45,524.50 L436.12,525.00 L435.74,525.50 L435.28,526.00 L434.74,526.50 L434.17,527.00 L433.73,527.50 L433.30,528.00 L432.87,528.50 L432.68,529.00 L432.81,529.50 L432.92,530.00 L433.01,530.50 L432.83,531.00 L432.61,531.50 L432.45,532.00 L432.36,532.50 L432.39,533.00 L432.44,533.50 L432.48,534.00 L432.09,534.50 L431.42,535.00 L430.76,535.50 L430.12,536.00 L430.34,536.50 L430.55,537.00 L430.76,537.50 L430.76,538.00 L430.48,538.50 L430.21,539.00 L429.94,539.50 L429.85,540.00 L429.80,540.50 L429.75,541.00 L429.64,541.50 L429.32,542.00 L429.01,542.50 L428.70,543.00 L428.56,543.50 L428.51,544.00 L428.46,544.50 L428.41,545.00 L428.40,545.50 L428.39,546.00 L428.37,546.50 L428.39,547.00 L428.44,547.50 L428.48,548.00 L428.52,548.50 L428.14,549.00 L427.68,549.50 L427.22,550.00 L426.88,550.50 L426.91,551.00 L426.94,551.50 L426.96,552.00 L426.96,552.50 L426.94,553.00 L426.92,553.50 L426.89,554.00 L426.81,554.50 L426.73,555.00 L426.64,555.50 L426.43,556.00 L426.05,556.50 L425.72,557.00 L425.54,557.50 L425.35,558.00 L425.16,558.50 L424.85,558.80 Z" fill="#e1812c"/>
<text x="423.4" y="403.9" font-size="8.2" font-style="italic" text-anchor="middle" textLength="62.7" lengthAdjust="spacingAndGlyphs">LOC124908082</text>
<line x1="467.75" y1="411.5" x2="467.75" y2="586.2" stroke="#9e9e9e" stroke-width="1"/>
<line x1="467.75" y1="586.2" x2="501.25" y2="586.2" stroke="#a4a4a4" stroke-width="1"/>
<text x="464.1" y="553.1" font-size="7.9" text-anchor="end" textLength="4.4" lengthAdjust="spacingAndGlyphs">2</text>
<text x="464.1" y="477.3" font-size="7.9" text-anchor="end" textLength="4.4" lengthAdjust="spacingAndGlyphs">3</text>
<line x1="484.2" y1="420.3" x2="484.2" y2="578" stroke="#e2e9f1" stroke-width="1.2"/>
<path d="M483.65,427.50 L483.47,427.50 L483.38,428.00 L483.28,428.50 L483.18,429.00 L483.09,429.50 L483.00,430.00 L482.91,430.50 L482.82,431.00 L482.73,431.50 L482.70,432.00 L482.64,432.50 L482.56,433.00 L482.41,433.50 L482.25,434.00 L482.07,434.50 L481.95,435.00 L481.84,435.50 L481.70,436.00 L481.53,436.50 L481.23,437.00 L480.91,437.50 L480.57,438.00 L480.26,438.50 L480.00,439.00 L479.74,439.50 L479.49,440.00 L479.19,440.50 L478.87,441.00 L478.55,441.50 L478.26,442.00 L478.07,442.50 L477.89,443.00 L477.73,443.50 L477.47,444.00 L477.14,444.50 L476.84,445.00 L476.54,445.50 L476.46,446.00 L476.39,446.50 L476.33,447.00 L476.23,447.50 L476.08,448.00 L475.96,448.50 L475.87,449.00 L475.77,449.50 L475.67,450.00 L475.58,450.50 L475.52,451.00 L475.52,451.50 L475.52,452.00 L475.53,452.50 L475.61,453.00 L475.74,453.50 L475.89,454.00 L476.06,454.50 L476.12,455.00 L476.21,455.50 L476.32,456.00 L476.43,456.50 L476.53,457.00 L476.63,457.50 L476.74,458.00 L476.85,458.50 L476.98,459.00 L477.11,459.50 L477.27,460.00 L477.47,460.50 L477.68,461.00 L477.89,461.50 L478.12,462.00 L478.36,462.50 L478.60,463.00 L478.83,463.50 L479.02,464.00 L479.20,464.50 L479.39,465.00 L479.56,465.50 L479.71,466.00 L479.87,466.50 L480.03,467.00 L480.22,467.50 L480.42,468.00 L480.62,468.50 L480.84,469.00 L481.14,469.50 L481.43,470.00 L481.70,470.50 L481.89,471.00 L482.01,471.50 L482.12,472.00 L482.21,472.50 L482.33,473.00 L482.44,473.50 L482.54,474.00 L482.72,474.50 L482.84,475.00 L482.96,475.50 L483.08,476.00 L483.18,476.50 L483.27,477.00 L483.34,477.50 L483.37,478.00 L483.37,478.50 L483.35,479.00 L483.32,479.50 L483.26,480.00 L483.19,480.50 L483.08,481.00 L482.93,481.50 L482.74,482.00 L482.48,482.50 L482.22,483.00 L481.92,483.50 L481.61,484.00 L481.30,484.50 L480.98,485.00 L480.70,485.50 L480.42,486.00 L480.14,486.50 L479.84,487.00 L479.47,487.50 L479.05,488.00 L478.60,488.50 L478.10,489.00 L477.57,489.50 L477.03,490.00 L476.47,490.50 L475.98,491.00 L475.48,491.50 L474.99,492.00 L474.47,492.50 L473.90,493.00 L473.34,493.50 L472.79,494.00 L472.33,494.50 L471.91,495.00 L471.51,495.50 L471.11,496.00 L470.67,496.50 L470.23,497.00 L469.80,497.50 L469.46,498.00 L469.21,498.50 L469.02,499.00 L468.93,499.50 L468.61,500.00 L468.36,500.50 L468.17,501.00 L468.10,501.50 L468.17,502.00 L468.26,502.50 L468.34,503.00 L468.48,503.50 L468.66,504.00 L468.88,504.50 L469.11,505.00 L469.21,505.50 L469.36,506.00 L469.53,506.50 L469.81,507.00 L470.15,507.50 L470.49,508.00 L470.83,508.50 L471.25,509.00 L471.68,509.50 L472.11,510.00 L472.55,510.50 L472.99,511.00 L473.44,511.50 L473.89,512.00 L474.25,512.50 L474.60,513.00 L474.95,513.50 L475.32,514.00 L475.80,514.50 L476.28,515.00 L476.75,515.50 L477.17,516.00 L477.55,516.50 L477.92,517.00 L478.28,517.50 L478.59,518.00 L478.89,518.50 L479.18,519.00 L479.51,519.50 L479.89,520.00 L480.26,520.50 L480.62,521.00 L480.92,521.50 L481.20,522.00 L481.47,522.50 L481.73,523.00 L482.01,523.50 L482.27,524.00 L482.51,524.50 L482.73,525.00 L482.90,525.50 L483.03,526.00 L483.12,526.50 L483.19,527.00 L483.24,527.50 L483.26,528.00 L483.27,528.50 L483.27,529.00 L483.24,529.50 L483.19,530.00 L483.13,530.50 L483.03,531.00 L482.89,531.50 L482.69,532.00 L482.37,532.50 L482.07,533.00 L481.74,533.50 L481.41,534.00 L481.10,534.50 L480.78,535.00 L480.47,535.50 L480.18,536.00 L479.89,536.50 L479.60,537.00 L479.24,537.50 L478.78,538.00 L478.29,538.50 L477.76,539.00 L477.28,539.50 L476.82,540.00 L476.35,540.50 L475.86,541.00 L475.26,541.50 L474.65,542.00 L474.03,542.50 L473.59,543.00 L473.28,543.50 L473.00,544.00 L472.75,544.50 L472.13,545.00 L471.51,545.50 L470.89,546.00 L470.32,546.50 L469.84,547.00 L469.37,547.50 L468.89,548.00 L468.51,548.50 L468.19,549.00 L467.92,549.50 L467.72,550.00 L467.55,550.50 L467.51,551.00 L467.58,551.50 L467.85,552.00 L468.25,552.50 L468.65,553.00 L469.06,553.50 L469.04,554.00 L469.03,554.50 L469.03,555.00 L469.20,555.50 L469.61,556.00 L470.04,556.50 L470.52,557.00 L470.84,557.50 L471.13,558.00 L471.46,558.50 L471.83,559.00 L472.30,559.50 L472.77,560.00 L473.24,560.50 L473.81,561.00 L474.43,561.50 L475.04,562.00 L475.64,562.50 L475.99,563.00 L476.36,563.50 L476.74,564.00 L477.18,564.50 L477.66,565.00 L478.15,565.50 L478.64,566.00 L479.23,566.50 L479.83,567.00 L480.39,567.50 L480.89,568.00 L481.25,568.50 L481.59,569.00 L481.91,569.50 L482.20,570.00 L482.47,570.50 L482.74,571.00 L482.97,571.50 L483.16,572.00 L483.32,572.50 L483.44,573.00 L483.65,573.00 Z" fill="#3274a1"/>
<path d="M484.75,421.30 L484.97,421.30 L485.09,421.80 L485.22,422.30 L485.36,422.80 L485.50,423.30 L485.64,423.80 L485.82,424.30 L486.00,424.80 L486.10,425.30 L486.19,425.80 L486.27,426.30 L486.37,426.80 L486.54,427.30 L486.71,427.80 L486.88,428.30 L487.06,428.80 L487.26,429.30 L487.46,429.80 L487.68,430.30 L487.79,430.80 L487.90,431.30 L488.00,431.80 L488.14,432.30 L488.33,432.80 L488.52,433.30 L488.71,433.80 L488.92,434.30 L489.14,434.80 L489.36,435.30 L489.57,435.80 L489.74,436.30 L489.93,436.80 L490.15,437.30 L490.41,437.80 L490.72,438.30 L491.08,438.80 L491.48,439.30 L491.98,439.80 L492.49,440.30 L493.01,440.80 L493.51,441.30 L494.00,441.80 L494.48,442.30 L494.97,442.80 L495.61,443.30 L496.29,443.80 L496.99,444.30 L497.65,444.80 L498.09,445.30 L498.53,445.80 L498.96,446.30 L499.45,446.80 L499.96,447.30 L500.40,447.80 L500.74,448.30 L500.67,448.80 L500.49,449.30 L500.24,449.80 L500.12,450.30 L500.25,450.80 L500.36,451.30 L500.48,451.80 L500.27,452.30 L499.97,452.80 L499.66,453.30 L499.38,453.80 L499.31,454.30 L499.15,454.80 L498.92,455.30 L498.55,455.80 L498.11,456.30 L497.65,456.80 L497.18,457.30 L496.60,457.80 L496.04,458.30 L495.48,458.80 L495.00,459.30 L494.64,459.80 L494.28,460.30 L493.93,460.80 L493.44,461.30 L492.93,461.80 L492.42,462.30 L491.93,462.80 L491.50,463.30 L491.07,463.80 L490.65,464.30 L490.29,464.80 L489.96,465.30 L489.66,465.80 L489.38,466.30 L488.97,466.80 L488.58,467.30 L488.20,467.80 L487.89,468.30 L487.70,468.80 L487.50,469.30 L487.29,469.80 L487.00,470.30 L486.70,470.80 L486.44,471.30 L486.21,471.80 L486.02,472.30 L485.85,472.80 L485.72,473.30 L485.58,473.80 L485.46,474.30 L485.35,474.80 L485.26,475.30 L485.18,475.80 L485.13,476.30 L485.10,476.80 L485.07,477.30 L485.05,477.80 L485.03,478.30 L485.01,478.80 L485.00,479.30 L484.99,479.80 L485.00,480.30 L485.02,480.80 L485.04,481.30 L485.08,481.80 L485.11,482.30 L485.14,482.80 L485.18,483.30 L485.22,483.80 L485.27,484.30 L485.34,484.80 L485.46,485.30 L485.64,485.80 L485.86,486.30 L486.16,486.80 L486.49,487.30 L486.84,487.80 L487.26,488.30 L487.72,488.80 L488.18,489.30 L488.61,489.80 L488.93,490.30 L489.24,490.80 L489.55,491.30 L490.00,491.80 L490.55,492.30 L491.14,492.80 L491.76,493.30 L492.16,493.80 L492.55,494.30 L492.91,494.80 L493.31,495.30 L493.75,495.80 L494.10,496.30 L494.34,496.80 L494.46,497.30 L494.52,497.80 L494.53,498.30 L494.50,498.80 L494.33,499.30 L494.17,499.80 L494.00,500.30 L493.90,500.80 L493.85,501.30 L493.82,501.80 L493.82,502.30 L493.78,502.80 L493.76,503.30 L493.78,503.80 L493.81,504.30 L493.86,504.80 L493.88,505.30 L493.87,505.80 L493.87,506.30 L493.79,506.80 L493.63,507.30 L493.40,507.80 L493.14,508.30 L492.84,508.80 L492.54,509.30 L492.27,509.80 L492.02,510.30 L491.77,510.80 L491.51,511.30 L491.15,511.80 L490.80,512.30 L490.46,512.80 L490.16,513.30 L489.91,513.80 L489.66,514.30 L489.42,514.80 L489.21,515.30 L489.01,515.80 L488.81,516.30 L488.58,516.80 L488.24,517.30 L487.91,517.80 L487.59,518.30 L487.34,518.80 L487.12,519.30 L486.91,519.80 L486.71,520.30 L486.54,520.80 L486.37,521.30 L486.20,521.80 L486.01,522.30 L485.80,522.80 L485.68,523.30 L485.57,523.80 L485.49,524.30 L485.42,524.80 L485.37,525.30 L485.33,525.80 L485.28,526.30 L485.24,526.80 L485.19,527.30 L485.15,527.80 L485.10,528.30 L485.07,528.80 L485.03,529.30 L485.02,529.80 L485.01,530.30 L485.02,530.80 L485.04,531.30 L485.07,531.80 L485.10,532.30 L485.14,532.80 L485.17,533.30 L485.20,533.80 L485.23,534.30 L485.27,534.80 L485.30,535.30 L485.33,535.80 L485.37,536.30 L485.40,536.80 L485.43,537.30 L485.47,537.80 L485.50,538.30 L485.53,538.80 L485.56,539.30 L485.60,539.80 L485.63,540.30 L485.67,540.80 L485.72,541.30 L485.77,541.80 L485.83,542.30 L485.89,542.80 L485.97,543.30 L486.07,543.80 L486.25,544.30 L486.44,544.80 L486.63,545.30 L486.75,545.80 L486.81,546.30 L486.86,546.80 L486.90,547.30 L486.97,547.80 L487.02,548.30 L487.04,548.80 L487.04,549.30 L487.02,549.80 L486.99,550.30 L486.95,550.80 L486.96,551.30 L486.98,551.80 L487.00,552.30 L487.01,552.80 L487.00,553.30 L486.98,553.80 L486.94,554.30 L486.88,554.80 L486.79,555.30 L486.69,555.80 L486.58,556.30 L486.44,556.80 L486.30,557.30 L486.17,557.80 L486.04,558.30 L485.93,558.80 L485.81,559.30 L485.70,559.80 L485.64,560.30 L485.52,560.80 L485.40,561.30 L485.26,561.80 L485.12,562.30 L485.00,562.80 L484.75,563.00 Z" fill="#e1812c"/>
<text x="487.0" y="403.9" font-size="8.2" font-style="italic" text-anchor="middle" textLength="35.3" lengthAdjust="spacingAndGlyphs">UGT2B15</text>
<line x1="527.65" y1="411.5" x2="527.65" y2="586.2" stroke="#9e9e9e" stroke-width="1"/>
<line x1="527.65" y1="586.2" x2="561.15" y2="586.2" stroke="#a4a4a4" stroke-width="1"/>
<text x="523.9" y="567.4" font-size="7.9" text-anchor="end" textLength="4.4" lengthAdjust="spacingAndGlyphs">6</text>
<text x="523.9" y="540.4" font-size="7.9" text-anchor="end" textLength="4.4" lengthAdjust="spacingAndGlyphs">8</text>
<text x="523.9" y="513.4" font-size="7.9" text-anchor="end" textLength="7.3" lengthAdjust="spacingAndGlyphs">10</text>
<text x="523.9" y="486.4" font-size="7.9" text-anchor="end" textLength="7.3" lengthAdjust="spacingAndGlyphs">12</text>
<text x="523.9" y="459.4" font-size="7.9" text-anchor="end" textLength="7.3" lengthAdjust="spacingAndGlyphs">14</text>
<text x="523.9" y="432.4" font-size="7.9" text-anchor="end" textLength="7.3" lengthAdjust="spacingAndGlyphs">16</text>
<line x1="544.1" y1="420.3" x2="544.1" y2="578.0" stroke="#e2e9f1" stroke-width="1.2"/>
<path d="M543.55,460.00 L543.42,460.00 L543.35,460.50 L543.29,461.00 L543.25,461.50 L543.21,462.00 L543.18,462.50 L543.14,463.00 L543.10,463.50 L543.06,464.00 L543.02,464.50 L542.98,465.00 L542.94,465.50 L542.90,466.00 L542.86,466.50 L542.81,467.00 L542.77,467.50 L542.73,468.00 L542.69,468.50 L542.65,469.00 L542.61,469.50 L542.57,470.00 L542.62,470.50 L542.58,471.00 L542.45,471.50 L542.31,472.00 L542.16,472.50 L542.20,473.00 L542.27,473.50 L542.34,474.00 L542.37,474.50 L542.22,475.00 L542.07,475.50 L541.91,476.00 L541.82,476.50 L541.76,477.00 L541.71,477.50 L541.66,478.00 L541.62,478.50 L541.57,479.00 L541.53,479.50 L541.49,480.00 L541.45,480.50 L541.41,481.00 L541.37,481.50 L541.18,482.00 L540.94,482.50 L540.70,483.00 L540.51,483.50 L540.56,484.00 L540.62,484.50 L540.69,485.00 L540.59,485.50 L540.37,486.00 L540.15,486.50 L539.92,487.00 L539.73,487.50 L539.53,488.00 L539.33,488.50 L539.24,489.00 L539.33,489.50 L539.43,490.00 L539.52,490.50 L539.45,491.00 L539.33,491.50 L539.21,492.00 L539.06,492.50 L538.84,493.00 L538.62,493.50 L538.40,494.00 L538.26,494.50 L538.17,495.00 L538.10,495.50 L538.03,496.00 L537.90,496.50 L537.79,497.00 L537.69,497.50 L537.58,498.00 L537.47,498.50 L537.36,499.00 L537.25,499.50 L537.34,500.00 L537.48,500.50 L537.63,501.00 L537.71,501.50 L537.56,502.00 L537.33,502.50 L537.00,503.00 L536.61,503.50 L536.21,504.00 L535.79,504.50 L535.37,505.00 L535.05,505.50 L534.74,506.00 L534.45,506.50 L534.03,507.00 L533.45,507.50 L533.10,508.00 L532.97,508.50 L533.32,509.00 L533.80,509.50 L534.29,510.00 L534.78,510.50 L535.25,511.00 L535.71,511.50 L536.12,512.00 L536.52,512.50 L536.75,513.00 L536.70,513.50 L536.47,514.00 L535.58,514.50 L534.63,515.00 L533.63,515.50 L532.77,516.00 L532.16,516.50 L531.56,517.00 L530.99,517.50 L530.55,518.00 L530.21,518.50 L529.95,519.00 L529.66,519.50 L529.13,520.00 L528.59,520.50 L528.06,521.00 L527.81,521.50 L527.87,522.00 L528.24,522.50 L528.90,523.00 L529.72,523.50 L530.61,524.00 L531.51,524.50 L532.38,525.00 L533.21,525.50 L534.02,526.00 L534.80,526.50 L535.39,527.00 L535.74,527.50 L535.81,528.00 L535.69,528.50 L535.56,529.00 L535.41,529.50 L535.25,530.00 L534.97,530.50 L534.60,531.00 L534.22,531.50 L533.82,532.00 L533.35,532.50 L532.86,533.00 L532.37,533.50 L531.95,534.00 L531.67,534.50 L531.40,535.00 L531.13,535.50 L530.83,536.00 L530.67,536.50 L530.80,537.00 L531.29,537.50 L532.13,538.00 L533.08,538.50 L534.05,539.00 L535.08,539.50 L536.11,540.00 L537.01,540.50 L537.67,541.00 L537.83,541.50 L537.78,542.00 L537.63,542.50 L537.49,543.00 L537.42,543.50 L537.36,544.00 L537.29,544.50 L537.11,545.00 L536.93,545.50 L536.82,546.00 L536.87,546.50 L537.23,547.00 L537.66,547.50 L538.12,548.00 L538.59,548.50 L539.04,549.00 L539.48,549.50 L539.87,550.00 L540.06,550.50 L540.17,551.00 L540.24,551.50 L540.29,552.00 L540.35,552.50 L540.40,553.00 L540.46,553.50 L540.69,554.00 L540.94,554.50 L541.19,555.00 L541.36,555.50 L541.32,556.00 L541.28,556.50 L541.24,557.00 L541.37,557.50 L541.60,558.00 L541.83,558.50 L542.06,559.00 L542.09,559.50 L542.13,560.00 L542.16,560.50 L542.20,561.00 L542.27,561.50 L542.33,562.00 L542.39,562.50 L542.38,563.00 L542.36,563.50 L542.34,564.00 L542.33,564.50 L542.35,565.00 L542.57,565.50 L542.63,566.00 L542.68,566.50 L542.73,567.00 L542.77,567.50 L542.81,568.00 L542.84,568.50 L542.87,569.00 L542.90,569.50 L542.94,570.00 L542.97,570.50 L543.00,571.00 L543.03,571.50 L543.06,572.00 L543.09,572.50 L543.13,573.00 L543.16,573.50 L543.19,574.00 L543.22,574.50 L543.26,575.00 L543.30,575.50 L543.35,576.00 L543.42,576.50 L543.55,576.50 Z" fill="#3274a1"/>
<path d="M544.65,420.30 L544.84,420.30 L544.96,420.80 L545.07,421.30 L545.12,421.80 L545.15,422.30 L545.16,422.80 L545.16,423.30 L545.16,423.80 L545.16,424.30 L545.17,424.80 L545.17,425.30 L545.17,425.80 L545.17,426.30 L545.18,426.80 L545.18,427.30 L545.18,427.80 L545.18,428.30 L545.19,428.80 L545.19,429.30 L545.19,429.80 L545.19,430.30 L545.20,430.80 L545.20,431.30 L545.20,431.80 L545.20,432.30 L545.21,432.80 L545.21,433.30 L545.21,433.80 L545.21,434.30 L545.21,434.80 L545.22,435.30 L545.22,435.80 L545.22,436.30 L545.22,436.80 L545.23,437.30 L545.23,437.80 L545.23,438.30 L545.23,438.80 L545.24,439.30 L545.24,439.80 L545.24,440.30 L545.24,440.80 L545.25,441.30 L545.26,441.80 L545.29,442.30 L545.33,442.80 L545.38,443.30 L545.43,443.80 L545.48,444.30 L545.54,444.80 L545.59,445.30 L545.64,445.80 L545.67,446.30 L545.84,446.80 L546.02,447.30 L545.96,447.80 L545.90,448.30 L545.83,448.80 L545.80,449.30 L545.84,449.80 L545.87,450.30 L545.90,450.80 L545.96,451.30 L546.02,451.80 L546.10,452.30 L546.21,452.80 L546.44,453.30 L546.68,453.80 L546.93,454.30 L547.03,454.80 L547.03,455.30 L547.02,455.80 L547.01,456.30 L547.07,456.80 L547.13,457.30 L547.18,457.80 L547.25,458.30 L547.32,458.80 L547.39,459.30 L547.46,459.80 L547.55,460.30 L547.65,460.80 L547.75,461.30 L547.89,461.80 L548.18,462.30 L548.56,462.80 L549.05,463.30 L549.54,463.80 L550.00,464.30 L550.48,464.80 L550.96,465.30 L551.49,465.80 L552.01,466.30 L552.53,466.80 L553.06,467.30 L553.57,467.80 L554.03,468.30 L554.35,468.80 L554.18,469.30 L553.67,469.80 L552.97,470.30 L552.29,470.80 L551.95,471.30 L551.59,471.80 L551.24,472.30 L550.80,472.80 L550.41,473.30 L550.20,473.80 L550.15,474.30 L550.36,474.80 L550.61,475.30 L550.86,475.80 L551.05,476.30 L551.18,476.80 L551.33,477.30 L551.53,477.80 L551.78,478.30 L552.07,478.80 L552.36,479.30 L552.59,479.80 L552.56,480.30 L552.51,480.80 L552.44,481.30 L552.72,481.80 L553.18,482.30 L553.51,482.80 L553.67,483.30 L553.40,483.80 L553.07,484.30 L552.73,484.80 L552.38,485.30 L552.02,485.80 L551.67,486.30 L551.35,486.80 L550.91,487.30 L550.64,487.80 L550.64,488.30 L550.93,488.80 L551.59,489.30 L552.30,489.80 L553.02,490.30 L553.70,490.80 L554.35,491.30 L554.99,491.80 L555.62,492.30 L556.26,492.80 L556.89,493.30 L557.51,493.80 L558.28,494.30 L559.21,494.80 L559.82,495.30 L560.05,495.80 L559.56,496.30 L558.85,496.80 L558.10,497.30 L557.34,497.80 L556.52,498.30 L555.71,498.80 L554.90,499.30 L554.21,499.80 L553.59,500.30 L553.05,500.80 L552.72,501.30 L552.57,501.80 L552.74,502.30 L553.09,502.80 L553.49,503.30 L553.85,503.80 L554.20,504.30 L554.54,504.80 L554.92,505.30 L555.32,505.80 L555.70,506.30 L556.10,506.80 L556.57,507.30 L557.01,507.80 L557.33,508.30 L557.63,508.80 L557.78,509.30 L557.67,509.80 L557.41,510.30 L556.49,510.80 L555.58,511.30 L554.69,511.80 L553.95,512.30 L553.38,512.80 L552.81,513.30 L552.25,513.80 L551.75,514.30 L551.42,514.80 L551.34,515.30 L551.47,515.80 L551.61,516.30 L551.79,516.80 L551.97,517.30 L552.29,517.80 L552.72,518.30 L553.15,518.80 L553.59,519.30 L553.94,519.80 L554.29,520.30 L554.64,520.80 L555.07,521.30 L555.61,521.80 L556.13,522.30 L556.54,522.80 L556.40,523.30 L555.87,523.80 L555.12,524.30 L554.29,524.80 L553.55,525.30 L552.79,525.80 L552.05,526.30 L551.44,526.80 L550.90,527.30 L550.34,527.80 L549.75,528.30 L548.91,528.80 L548.24,529.30 L547.81,529.80 L547.68,530.30 L547.82,530.80 L548.03,531.30 L548.25,531.80 L548.37,532.30 L548.47,532.80 L548.56,533.30 L548.62,533.80 L548.57,534.30 L548.43,534.80 L548.19,535.30 L548.01,535.80 L547.88,536.30 L547.74,536.80 L547.58,537.30 L547.35,537.80 L547.12,538.30 L546.89,538.80 L546.69,539.30 L546.57,539.80 L546.50,540.30 L546.48,540.80 L546.39,541.30 L546.29,541.80 L546.19,542.30 L546.12,542.80 L546.15,543.30 L546.18,543.80 L546.21,544.30 L546.19,544.80 L546.14,545.30 L546.08,545.80 L546.03,546.30 L545.95,546.80 L545.88,547.30 L545.80,547.80 L545.79,548.30 L545.88,548.80 L545.96,549.30 L546.05,549.80 L545.96,550.30 L545.84,550.80 L545.71,551.30 L545.63,551.80 L545.73,552.30 L545.83,552.80 L545.93,553.30 L545.90,553.80 L545.80,554.30 L545.69,554.80 L545.58,555.30 L545.55,555.80 L545.52,556.30 L545.48,556.80 L545.47,557.30 L545.49,557.80 L545.51,558.30 L545.53,558.80 L545.59,559.30 L545.66,559.80 L545.73,560.30 L545.64,560.80 L545.61,561.30 L545.59,561.80 L545.55,562.30 L545.52,562.80 L545.49,563.30 L545.46,563.80 L545.43,564.30 L545.39,564.80 L545.36,565.30 L545.33,565.80 L545.30,566.30 L545.27,566.80 L545.23,567.30 L545.20,567.80 L545.17,568.30 L545.14,568.80 L545.11,569.30 L545.07,569.80 L545.04,570.30 L545.01,570.80 L544.98,571.30 L544.94,571.80 L544.89,572.30 L544.83,572.80 L544.65,573.30 Z" fill="#e1812c"/>
<text x="551.0" y="403.9" font-size="8.2" font-style="italic" text-anchor="middle" textLength="63.0" lengthAdjust="spacingAndGlyphs">LOC124906470</text>
<line x1="587.55" y1="411.5" x2="587.55" y2="586.2" stroke="#9e9e9e" stroke-width="1"/>
<line x1="587.55" y1="586.2" x2="621.05" y2="586.2" stroke="#a4a4a4" stroke-width="1"/>
<text x="583.8" y="564.5" font-size="7.9" text-anchor="end" textLength="4.4" lengthAdjust="spacingAndGlyphs">5</text>
<text x="583.8" y="522.0" font-size="7.9" text-anchor="end" textLength="7.3" lengthAdjust="spacingAndGlyphs">10</text>
<text x="583.8" y="479.5" font-size="7.9" text-anchor="end" textLength="7.3" lengthAdjust="spacingAndGlyphs">15</text>
<text x="583.8" y="437.0" font-size="7.9" text-anchor="end" textLength="8.8" lengthAdjust="spacingAndGlyphs">20</text>
<line x1="604.0" y1="420.3" x2="604.0" y2="578" stroke="#e2e9f1" stroke-width="1.2"/>
<path d="M603.45,500.00 L603.31,500.00 L603.24,500.50 L603.18,501.00 L603.13,501.50 L603.08,502.00 L603.03,502.50 L602.97,503.00 L602.90,503.50 L602.82,504.00 L602.75,504.50 L602.67,505.00 L602.60,505.50 L602.52,506.00 L602.41,506.50 L602.52,507.00 L602.54,507.50 L602.49,508.00 L602.44,508.50 L602.37,509.00 L602.10,509.50 L601.75,510.00 L601.32,510.50 L600.93,511.00 L600.68,511.50 L600.44,512.00 L600.21,512.50 L600.07,513.00 L599.97,513.50 L599.90,514.00 L599.75,514.50 L599.23,515.00 L598.68,515.50 L598.12,516.00 L597.92,516.50 L597.98,517.00 L598.06,517.50 L598.14,518.00 L597.39,518.50 L596.60,519.00 L595.78,519.50 L595.14,520.00 L594.85,520.50 L594.57,521.00 L594.28,521.50 L593.88,522.00 L593.43,522.50 L592.93,523.00 L592.40,523.50 L591.96,524.00 L591.49,524.50 L591.01,525.00 L590.61,525.50 L590.28,526.00 L590.00,526.50 L589.82,527.00 L589.42,527.50 L589.22,528.00 L589.18,528.50 L589.24,529.00 L589.36,529.50 L589.48,530.00 L589.60,530.50 L589.24,531.00 L588.71,531.50 L588.13,532.00 L587.78,532.50 L588.61,533.00 L589.44,533.50 L590.28,534.00 L589.98,534.50 L588.89,535.00 L587.80,535.50 L586.69,536.00 L587.62,536.50 L588.57,537.00 L589.53,537.50 L589.98,538.00 L589.65,538.50 L589.34,539.00 L589.09,539.50 L589.10,540.00 L589.32,540.50 L589.69,541.00 L589.99,541.50 L589.79,542.00 L589.64,542.50 L589.53,543.00 L590.08,543.50 L590.98,544.00 L591.75,544.50 L592.41,545.00 L592.73,545.50 L593.03,546.00 L593.32,546.50 L593.39,547.00 L593.13,547.50 L592.91,548.00 L592.76,548.50 L593.46,549.00 L594.37,549.50 L595.25,550.00 L595.97,550.50 L596.15,551.00 L596.34,551.50 L596.52,552.00 L596.75,552.50 L597.00,553.00 L597.22,553.50 L597.43,554.00 L597.55,554.50 L597.67,555.00 L597.81,555.50 L598.00,556.00 L598.26,556.50 L598.53,557.00 L598.80,557.50 L599.12,558.00 L599.44,558.50 L599.75,559.00 L600.08,559.50 L600.46,560.00 L600.81,560.50 L601.11,561.00 L601.31,561.50 L601.45,562.00 L601.57,562.50 L601.69,563.00 L601.87,563.50 L602.04,564.00 L602.20,564.50 L602.23,565.00 L602.08,565.50 L601.93,566.00 L601.77,566.50 L601.84,567.00 L601.95,567.50 L602.06,568.00 L602.16,568.50 L602.20,569.00 L602.45,569.50 L602.51,570.00 L602.56,570.50 L602.62,571.00 L602.67,571.50 L602.73,572.00 L602.79,572.50 L602.85,573.00 L602.90,573.50 L602.96,574.00 L603.02,574.50 L603.08,575.00 L603.14,575.50 L603.22,576.00 L603.30,576.50 L603.45,576.50 Z" fill="#3274a1"/>
<path d="M604.55,438.00 L604.71,438.00 L604.80,438.50 L604.89,439.00 L604.96,439.50 L605.01,440.00 L605.04,440.50 L605.05,441.00 L605.05,441.50 L605.05,442.00 L605.06,442.50 L605.06,443.00 L605.06,443.50 L605.06,444.00 L605.06,444.50 L605.06,445.00 L605.06,445.50 L605.06,446.00 L605.06,446.50 L605.07,447.00 L605.07,447.50 L605.07,448.00 L605.07,448.50 L605.07,449.00 L605.07,449.50 L605.07,450.00 L605.07,450.50 L605.08,451.00 L605.08,451.50 L605.08,452.00 L605.08,452.50 L605.08,453.00 L605.08,453.50 L605.08,454.00 L605.08,454.50 L605.08,455.00 L605.09,455.50 L605.09,456.00 L605.09,456.50 L605.09,457.00 L605.09,457.50 L605.09,458.00 L605.09,458.50 L605.09,459.00 L605.09,459.50 L605.10,460.00 L605.10,460.50 L605.10,461.00 L605.10,461.50 L605.10,462.00 L605.10,462.50 L605.10,463.00 L605.10,463.50 L605.10,464.00 L605.11,464.50 L605.11,465.00 L605.11,465.50 L605.11,466.00 L605.11,466.50 L605.11,467.00 L605.11,467.50 L605.11,468.00 L605.12,468.50 L605.12,469.00 L605.12,469.50 L605.12,470.00 L605.12,470.50 L605.12,471.00 L605.12,471.50 L605.12,472.00 L605.12,472.50 L605.13,473.00 L605.13,473.50 L605.13,474.00 L605.13,474.50 L605.13,475.00 L605.13,475.50 L605.13,476.00 L605.13,476.50 L605.13,477.00 L605.14,477.50 L605.14,478.00 L605.14,478.50 L605.14,479.00 L605.14,479.50 L605.14,480.00 L605.14,480.50 L605.14,481.00 L605.14,481.50 L605.15,482.00 L605.15,482.50 L605.16,483.00 L605.20,483.50 L605.29,484.00 L605.42,484.50 L605.31,485.00 L605.61,485.50 L605.92,486.00 L606.22,486.50 L606.26,487.00 L606.21,487.50 L606.14,488.00 L606.10,488.50 L606.24,489.00 L606.37,489.50 L606.51,490.00 L606.67,490.50 L606.85,491.00 L607.02,491.50 L607.20,492.00 L607.16,492.50 L607.11,493.00 L607.06,493.50 L607.13,494.00 L607.38,494.50 L607.63,495.00 L607.88,495.50 L608.15,496.00 L608.43,496.50 L608.71,497.00 L608.94,497.50 L608.99,498.00 L609.04,498.50 L609.09,499.00 L609.10,499.50 L609.10,500.00 L609.09,500.50 L609.08,501.00 L609.24,501.50 L609.42,502.00 L609.63,502.50 L609.80,503.00 L609.90,503.50 L610.00,504.00 L610.10,504.50 L610.12,505.00 L610.12,505.50 L610.11,506.00 L610.19,506.50 L610.68,507.00 L611.18,507.50 L611.70,508.00 L611.95,508.50 L612.01,509.00 L612.07,509.50 L612.12,510.00 L612.58,510.50 L613.04,511.00 L613.51,511.50 L613.97,512.00 L614.44,512.50 L615.08,513.00 L615.90,513.50 L616.39,514.00 L616.77,514.50 L617.11,515.00 L617.50,515.50 L618.31,516.00 L618.80,516.50 L618.80,517.00 L618.35,517.50 L617.62,518.00 L616.87,518.50 L616.31,519.00 L615.62,519.50 L615.29,520.00 L615.15,520.50 L615.13,521.00 L615.19,521.50 L615.25,522.00 L615.31,522.50 L615.93,523.00 L616.74,523.50 L617.59,524.00 L618.41,524.50 L618.96,525.00 L619.52,525.50 L620.08,526.00 L620.47,526.50 L620.72,527.00 L620.94,527.50 L621.07,528.00 L621.05,528.50 L620.80,529.00 L620.36,529.50 L619.95,530.00 L619.67,530.50 L619.37,531.00 L619.07,531.50 L618.50,532.00 L617.90,532.50 L617.36,533.00 L616.91,533.50 L616.60,534.00 L616.30,534.50 L616.00,535.00 L615.61,535.50 L615.14,536.00 L614.58,536.50 L613.86,537.00 L612.98,537.50 L611.98,538.00 L610.93,538.50 L610.02,539.00 L609.35,539.50 L608.85,540.00 L608.58,540.50 L608.19,541.00 L607.83,541.50 L607.51,542.00 L607.27,542.50 L607.33,543.00 L607.40,543.50 L607.45,544.00 L607.52,544.50 L607.59,545.00 L607.66,545.50 L607.72,546.00 L607.62,546.50 L607.54,547.00 L607.45,547.50 L607.37,548.00 L607.29,548.50 L607.21,549.00 L607.13,549.50 L606.96,550.00 L606.76,550.50 L606.58,551.00 L606.43,551.50 L606.45,552.00 L606.47,552.50 L606.48,553.00 L606.47,553.50 L606.43,554.00 L606.39,554.50 L606.36,555.00 L606.37,555.50 L606.38,556.00 L606.39,556.50 L606.37,557.00 L606.27,557.50 L606.18,558.00 L606.09,558.50 L606.13,559.00 L606.20,559.50 L606.27,560.00 L606.34,560.50 L606.40,561.00 L606.46,561.50 L606.53,562.00 L606.40,562.50 L606.14,563.00 L605.88,563.50 L605.62,564.00 L605.76,564.50 L605.89,565.00 L606.02,565.50 L606.10,566.00 L606.12,566.50 L606.14,567.00 L606.16,567.50 L606.05,568.00 L605.90,568.50 L605.74,569.00 L605.58,569.50 L605.50,570.00 L605.47,570.50 L605.34,571.00 L605.21,571.50 L605.08,572.00 L604.94,572.50 L604.81,573.00 L604.55,573.30 Z" fill="#e1812c"/>
<text x="614.5" y="403.9" font-size="8.2" font-style="italic" text-anchor="middle" textLength="35.2" lengthAdjust="spacingAndGlyphs">TP53TG3</text>
<line x1="647.45" y1="411.5" x2="647.45" y2="586.2" stroke="#9e9e9e" stroke-width="1"/>
<line x1="647.45" y1="586.2" x2="680.95" y2="586.2" stroke="#a4a4a4" stroke-width="1"/>
<text x="643.8" y="535.9" font-size="7.9" text-anchor="end" textLength="2.8" lengthAdjust="spacingAndGlyphs">1</text>
<text x="643.8" y="480.4" font-size="7.9" text-anchor="end" textLength="4.4" lengthAdjust="spacingAndGlyphs">2</text>
<text x="643.8" y="424.9" font-size="7.9" text-anchor="end" textLength="4.4" lengthAdjust="spacingAndGlyphs">3</text>
<line x1="663.9" y1="420.3" x2="663.9" y2="578" stroke="#e2e9f1" stroke-width="1.2"/>
<path d="M663.35,452.00 L663.32,452.00 L663.29,452.50 L663.27,453.00 L663.25,453.50 L663.22,454.00 L663.18,454.50 L663.14,455.00 L663.08,455.50 L663.01,456.00 L662.93,456.50 L662.83,457.00 L662.71,457.50 L662.57,458.00 L662.40,458.50 L662.20,459.00 L661.98,459.50 L661.71,460.00 L661.41,460.50 L661.07,461.00 L660.69,461.50 L660.27,462.00 L659.79,462.50 L659.28,463.00 L658.71,463.50 L658.11,464.00 L657.46,464.50 L656.77,465.00 L656.05,465.50 L655.31,466.00 L654.54,466.50 L653.77,467.00 L652.99,467.50 L652.22,468.00 L651.47,468.50 L650.76,469.00 L650.08,469.50 L649.46,470.00 L648.90,470.50 L648.42,471.00 L648.02,471.50 L647.71,472.00 L647.50,472.50 L647.39,473.00 L647.38,473.50 L647.46,474.00 L647.64,474.50 L647.90,475.00 L648.25,475.50 L648.68,476.00 L649.19,476.50 L649.75,477.00 L650.37,477.50 L651.03,478.00 L651.73,478.50 L652.45,479.00 L653.19,479.50 L653.94,480.00 L654.68,480.50 L655.40,481.00 L656.12,481.50 L656.80,482.00 L657.46,482.50 L658.08,483.00 L658.66,483.50 L659.20,484.00 L659.71,484.50 L660.17,485.00 L660.59,485.50 L660.96,486.00 L661.30,486.50 L661.60,487.00 L661.87,487.50 L662.10,488.00 L662.30,488.50 L662.48,489.00 L662.63,489.50 L662.75,490.00 L662.86,490.50 L662.95,491.00 L663.03,491.50 L663.09,492.00 L663.14,492.50 L663.19,493.00 L663.22,493.50 L663.25,494.00 L663.27,494.50 L663.29,495.00 L663.30,495.50 L663.31,496.00 L663.32,496.50 L663.33,497.00 L663.33,497.50 L663.34,498.00 L663.34,498.50 L663.34,499.00 L663.34,499.50 L663.35,500.00 L663.35,500.50 L663.35,501.00 L663.35,501.50 L663.34,502.00 L663.34,502.50 L663.34,503.00 L663.34,503.50 L663.33,504.00 L663.32,504.50 L663.31,505.00 L663.30,505.50 L663.28,506.00 L663.25,506.50 L663.22,507.00 L663.17,507.50 L663.11,508.00 L663.04,508.50 L662.94,509.00 L662.83,509.50 L662.68,510.00 L662.51,510.50 L662.30,511.00 L662.05,511.50 L661.76,512.00 L661.42,512.50 L661.04,513.00 L660.60,513.50 L660.12,514.00 L659.59,514.50 L659.02,515.00 L658.42,515.50 L657.78,516.00 L657.13,516.50 L656.47,517.00 L655.82,517.50 L655.19,518.00 L654.60,518.50 L654.06,519.00 L653.58,519.50 L653.19,520.00 L652.88,520.50 L652.68,521.00 L652.58,521.50 L652.59,522.00 L652.71,522.50 L652.94,523.00 L653.26,523.50 L653.67,524.00 L654.16,524.50 L654.71,525.00 L655.31,525.50 L655.95,526.00 L656.60,526.50 L657.26,527.00 L657.91,527.50 L658.54,528.00 L659.14,528.50 L659.70,529.00 L660.22,529.50 L660.69,530.00 L661.12,530.50 L661.49,531.00 L661.82,531.50 L662.10,532.00 L662.34,532.50 L662.55,533.00 L662.71,533.50 L662.85,534.00 L662.96,534.50 L663.05,535.00 L663.13,535.50 L663.18,536.00 L663.22,536.50 L663.26,537.00 L663.28,537.50 L663.30,538.00 L663.32,538.50 L663.33,539.00 L663.33,539.50 L663.34,540.00 L663.34,540.50 L663.34,541.00 L663.35,541.50 L663.35,542.00 L663.35,542.50 L663.35,543.00 L663.35,543.50 L663.35,544.00 L663.35,544.50 L663.35,545.00 L663.35,545.50 L663.35,546.00 L663.35,546.50 L663.35,547.00 L663.35,547.50 L663.35,548.00 L663.35,548.50 L663.35,549.00 L663.35,549.50 L663.35,550.00 L663.35,550.50 L663.35,551.00 L663.35,551.50 L663.35,552.00 L663.35,552.50 L663.35,553.00 L663.35,553.50 L663.35,554.00 L663.35,554.50 L663.35,555.00 L663.35,555.50 L663.35,556.00 L663.35,556.50 L663.35,557.00 L663.35,557.50 L663.35,558.00 L663.35,558.50 L663.35,559.00 L663.35,559.50 L663.35,560.00 L663.35,560.50 L663.35,561.00 L663.34,561.50 L663.34,562.00 L663.33,562.50 L663.31,563.00 L663.29,563.50 L663.25,564.00 L663.19,564.50 L663.11,565.00 L662.99,565.50 L662.82,566.00 L662.59,566.50 L662.28,567.00 L661.88,567.50 L661.38,568.00 L660.78,568.50 L660.09,569.00 L659.33,569.50 L658.55,570.00 L657.84,570.50 L657.34,571.00 L657.28,571.50 L657.72,572.00 L658.40,572.50 L659.17,573.00 L659.94,573.50 L660.65,574.00 L661.27,574.50 L661.79,575.00 L662.21,575.50 L662.53,576.00 L662.78,576.50 L662.96,577.00 L663.09,577.50 L663.22,578.00 L663.35,578.00 Z" fill="#3274a1"/>
<path d="M664.45,452.00 L664.49,452.00 L664.52,452.50 L664.53,453.00 L664.56,453.50 L664.58,454.00 L664.62,454.50 L664.65,455.00 L664.70,455.50 L664.76,456.00 L664.83,456.50 L664.92,457.00 L665.02,457.50 L665.13,458.00 L665.28,458.50 L665.44,459.00 L665.63,459.50 L665.86,460.00 L666.12,460.50 L666.41,461.00 L666.75,461.50 L667.14,462.00 L667.57,462.50 L668.06,463.00 L668.60,463.50 L669.20,464.00 L669.85,464.50 L670.56,465.00 L671.33,465.50 L672.14,466.00 L672.99,466.50 L673.88,467.00 L674.80,467.50 L675.72,468.00 L676.63,468.50 L677.51,469.00 L678.33,469.50 L679.07,470.00 L679.67,470.50 L680.07,471.00 L680.12,471.50 L679.82,472.00 L679.31,472.50 L678.67,473.00 L677.94,473.50 L677.15,474.00 L676.32,474.50 L675.47,475.00 L674.61,475.50 L673.77,476.00 L672.94,476.50 L672.15,477.00 L671.39,477.50 L670.68,478.00 L670.01,478.50 L669.39,479.00 L668.82,479.50 L668.29,480.00 L667.82,480.50 L667.39,481.00 L667.00,481.50 L666.66,482.00 L666.35,482.50 L666.08,483.00 L665.84,483.50 L665.64,484.00 L665.46,484.50 L665.30,485.00 L665.16,485.50 L665.05,486.00 L664.95,486.50 L664.87,487.00 L664.80,487.50 L664.74,488.00 L664.69,488.50 L664.64,489.00 L664.61,489.50 L664.58,490.00 L664.55,490.50 L664.53,491.00 L664.52,491.50 L664.51,492.00 L664.49,492.50 L664.49,493.00 L664.48,493.50 L664.47,494.00 L664.47,494.50 L664.46,495.00 L664.46,495.50 L664.46,496.00 L664.46,496.50 L664.46,497.00 L664.45,497.50 L664.45,498.00 L664.45,498.50 L664.45,499.00 L664.45,499.50 L664.45,500.00 L664.45,500.50 L664.45,501.00 L664.45,501.50 L664.45,502.00 L664.45,502.50 L664.45,503.00 L664.45,503.50 L664.45,504.00 L664.45,504.50 L664.45,505.00 L664.45,505.50 L664.45,506.00 L664.46,506.50 L664.46,507.00 L664.47,507.50 L664.47,508.00 L664.48,508.50 L664.50,509.00 L664.52,509.50 L664.54,510.00 L664.57,510.50 L664.62,511.00 L664.67,511.50 L664.74,512.00 L664.83,512.50 L664.93,513.00 L665.06,513.50 L665.21,514.00 L665.39,514.50 L665.58,515.00 L665.80,515.50 L666.04,516.00 L666.30,516.50 L666.56,517.00 L666.82,517.50 L667.07,518.00 L667.30,518.50 L667.50,519.00 L667.64,519.50 L667.72,520.00 L667.71,520.50 L667.62,521.00 L667.46,521.50 L667.26,522.00 L667.02,522.50 L666.77,523.00 L666.51,523.50 L666.24,524.00 L665.99,524.50 L665.76,525.00 L665.54,525.50 L665.35,526.00 L665.18,526.50 L665.03,527.00 L664.91,527.50 L664.81,528.00 L664.73,528.50 L664.66,529.00 L664.61,529.50 L664.57,530.00 L664.54,530.50 L664.51,531.00 L664.49,531.50 L664.48,532.00 L664.47,532.50 L664.46,533.00 L664.46,533.50 L664.46,534.00 L664.45,534.50 L664.45,535.00 L664.45,535.50 L664.45,536.00 L664.45,536.50 L664.45,537.00 L664.45,537.50 L664.45,538.00 L664.45,538.50 L664.45,539.00 L664.45,539.50 L664.45,540.00 L664.45,540.50 L664.45,541.00 L664.45,541.50 L664.45,542.00 L664.45,542.50 L664.45,543.00 L664.45,543.50 L664.45,544.00 L664.45,544.50 L664.45,545.00 L664.45,545.50 L664.45,546.00 L664.45,546.50 L664.45,547.00 L664.45,547.50 L664.45,548.00 L664.45,548.50 L664.45,549.00 L664.45,549.50 L664.45,550.00 L664.45,550.50 L664.45,551.00 L664.45,551.50 L664.45,552.00 L664.45,552.50 L664.45,553.00 L664.45,553.50 L664.45,554.00 L664.45,554.50 L664.45,555.00 L664.45,555.50 L664.45,556.00 L664.45,556.50 L664.45,557.00 L664.45,557.50 L664.45,558.00 L664.45,558.50 L664.45,559.00 L664.45,559.50 L664.45,560.00 L664.45,560.50 L664.45,561.00 L664.46,561.50 L664.46,562.00 L664.46,562.50 L664.47,563.00 L664.48,563.50 L664.50,564.00 L664.53,564.50 L664.56,565.00 L664.61,565.50 L664.68,566.00 L664.76,566.50 L664.87,567.00 L664.99,567.50 L665.13,568.00 L665.29,568.50 L665.44,569.00 L665.58,569.50 L665.66,570.00 L665.65,570.50 L665.55,571.00 L665.41,571.50 L665.25,572.00 L665.10,572.50 L664.96,573.00 L664.84,573.50 L664.74,574.00 L664.66,574.50 L664.60,575.00 L664.56,575.50 L664.50,576.00 L664.45,576.00 Z" fill="#e1812c"/>
<text x="662.6" y="403.9" font-size="8.2" font-style="italic" text-anchor="middle" textLength="24.8" lengthAdjust="spacingAndGlyphs">BTNL3</text>
<line x1="48.45" y1="617.0" x2="48.45" y2="791.4" stroke="#9e9e9e" stroke-width="1"/>
<line x1="48.45" y1="791.4" x2="81.95" y2="791.4" stroke="#a4a4a4" stroke-width="1"/>
<text x="44.8" y="785.1" font-size="7.9" text-anchor="end" textLength="4.4" lengthAdjust="spacingAndGlyphs">4</text>
<text x="44.8" y="754.3" font-size="7.9" text-anchor="end" textLength="4.4" lengthAdjust="spacingAndGlyphs">6</text>
<text x="44.8" y="723.5" font-size="7.9" text-anchor="end" textLength="4.4" lengthAdjust="spacingAndGlyphs">8</text>
<text x="44.8" y="692.7" font-size="7.9" text-anchor="end" textLength="7.3" lengthAdjust="spacingAndGlyphs">10</text>
<text x="44.8" y="661.9" font-size="7.9" text-anchor="end" textLength="7.3" lengthAdjust="spacingAndGlyphs">12</text>
<text x="44.8" y="631.1" font-size="7.9" text-anchor="end" textLength="7.3" lengthAdjust="spacingAndGlyphs">14</text>
<line x1="64.9" y1="624.8" x2="64.9" y2="783.0" stroke="#e2e9f1" stroke-width="1.2"/>
<path d="M64.35,670.00 L64.22,670.00 L64.16,670.50 L64.11,671.00 L64.08,671.50 L64.05,672.00 L64.02,672.50 L63.99,673.00 L63.96,673.50 L63.92,674.00 L63.89,674.50 L63.85,675.00 L63.82,675.50 L63.79,676.00 L63.75,676.50 L63.72,677.00 L63.69,677.50 L63.65,678.00 L63.62,678.50 L63.59,679.00 L63.55,679.50 L63.52,680.00 L63.48,680.50 L63.45,681.00 L63.41,681.50 L63.37,682.00 L63.30,682.50 L63.16,683.00 L63.01,683.50 L62.84,684.00 L62.72,684.50 L62.80,685.00 L62.89,685.50 L62.99,686.00 L62.93,686.50 L62.77,687.00 L62.61,687.50 L62.44,688.00 L62.35,688.50 L62.27,689.00 L62.19,689.50 L62.08,690.00 L61.94,690.50 L61.80,691.00 L61.66,691.50 L61.47,692.00 L61.27,692.50 L61.06,693.00 L60.92,693.50 L61.05,694.00 L61.19,694.50 L61.33,695.00 L61.20,695.50 L60.87,696.00 L60.54,696.50 L60.20,697.00 L60.30,697.50 L60.40,698.00 L60.50,698.50 L60.46,699.00 L60.21,699.50 L59.91,700.00 L59.57,700.50 L59.37,701.00 L59.21,701.50 L59.06,702.00 L58.86,702.50 L58.43,703.00 L57.99,703.50 L57.53,704.00 L56.97,704.50 L56.31,705.00 L55.62,705.50 L54.89,706.00 L54.74,706.50 L54.60,707.00 L54.47,707.50 L54.21,708.00 L53.72,708.50 L53.30,709.00 L53.01,709.50 L53.36,710.00 L53.99,710.50 L54.69,711.00 L55.33,711.50 L55.66,712.00 L55.99,712.50 L56.32,713.00 L56.64,713.50 L56.97,714.00 L57.29,714.50 L57.57,715.00 L57.54,715.50 L57.34,716.00 L56.96,716.50 L56.51,717.00 L56.11,717.50 L55.69,718.00 L55.27,718.50 L54.77,719.00 L54.20,719.50 L53.54,720.00 L52.93,720.50 L52.93,721.00 L52.96,721.50 L53.05,722.00 L52.26,722.50 L50.81,723.00 L49.39,723.50 L48.16,724.00 L47.92,724.50 L48.04,725.00 L48.39,725.50 L49.06,726.00 L50.08,726.50 L51.08,727.00 L52.05,727.50 L53.11,728.00 L54.15,728.50 L55.12,729.00 L55.86,729.50 L55.99,730.00 L56.09,730.50 L56.17,731.00 L56.51,731.50 L57.02,732.00 L57.51,732.50 L58.00,733.00 L58.10,733.50 L58.15,734.00 L58.04,734.50 L57.54,735.00 L56.59,735.50 L55.47,736.00 L54.26,736.50 L53.70,737.00 L53.33,737.50 L52.99,738.00 L52.62,738.50 L52.03,739.00 L51.59,739.50 L51.41,740.00 L51.45,740.50 L51.64,741.00 L51.91,741.50 L52.20,742.00 L52.51,742.50 L52.83,743.00 L53.16,743.50 L53.64,744.00 L54.34,744.50 L55.05,745.00 L55.77,745.50 L56.31,746.00 L56.83,746.50 L57.34,747.00 L57.86,747.50 L58.37,748.00 L58.88,748.50 L59.38,749.00 L59.81,749.50 L60.12,750.00 L60.25,750.50 L60.19,751.00 L60.12,751.50 L60.01,752.00 L59.89,752.50 L59.74,753.00 L59.53,753.50 L59.32,754.00 L59.13,754.50 L59.25,755.00 L59.54,755.50 L59.96,756.00 L60.36,756.50 L60.43,757.00 L60.52,757.50 L60.63,758.00 L60.93,758.50 L61.33,759.00 L61.70,759.50 L62.02,760.00 L62.11,760.50 L62.19,761.00 L62.27,761.50 L62.48,762.00 L62.88,762.50 L63.25,763.00 L63.59,763.50 L63.72,764.00 L63.40,764.50 L63.46,765.00 L63.52,765.50 L63.56,766.00 L63.61,766.50 L63.66,767.00 L63.70,767.50 L63.73,768.00 L63.74,768.50 L63.75,769.00 L63.75,769.50 L63.75,770.00 L63.75,770.50 L63.75,771.00 L63.75,771.50 L63.75,772.00 L63.75,772.50 L63.75,773.00 L63.75,773.50 L63.75,774.00 L63.75,774.50 L63.75,775.00 L63.75,775.50 L63.75,776.00 L63.75,776.50 L63.75,777.00 L63.76,777.50 L63.79,778.00 L63.84,778.50 L63.93,779.00 L64.05,779.50 L64.17,780.00 L64.35,780.00 Z" fill="#3274a1"/>
<path d="M65.45,624.80 L65.63,624.80 L65.75,625.30 L65.85,625.80 L65.91,626.30 L65.94,626.80 L65.95,627.30 L65.96,627.80 L65.96,628.30 L65.96,628.80 L65.96,629.30 L65.96,629.80 L65.96,630.30 L65.97,630.80 L65.97,631.30 L65.97,631.80 L65.97,632.30 L65.97,632.80 L65.97,633.30 L65.97,633.80 L65.98,634.30 L65.98,634.80 L65.98,635.30 L65.98,635.80 L65.98,636.30 L65.98,636.80 L65.99,637.30 L65.99,637.80 L65.99,638.30 L65.99,638.80 L65.99,639.30 L65.99,639.80 L66.00,640.30 L66.00,640.80 L66.00,641.30 L66.00,641.80 L66.00,642.30 L66.00,642.80 L66.00,643.30 L66.01,643.80 L66.01,644.30 L66.01,644.80 L66.01,645.30 L66.01,645.80 L66.01,646.30 L66.02,646.80 L66.02,647.30 L66.02,647.80 L66.02,648.30 L66.02,648.80 L66.02,649.30 L66.03,649.80 L66.03,650.30 L66.03,650.80 L66.03,651.30 L66.03,651.80 L66.03,652.30 L66.04,652.80 L66.04,653.30 L66.04,653.80 L66.04,654.30 L66.04,654.80 L66.04,655.30 L66.05,655.80 L66.06,656.30 L66.12,656.80 L66.27,657.30 L66.92,657.80 L67.25,658.30 L67.63,658.80 L68.08,659.30 L68.56,659.80 L68.98,660.30 L69.36,660.80 L69.60,661.30 L69.82,661.80 L70.02,662.30 L70.38,662.80 L71.00,663.30 L71.50,663.80 L71.82,664.30 L71.50,664.80 L71.00,665.30 L70.49,665.80 L70.03,666.30 L69.75,666.80 L69.48,667.30 L69.21,667.80 L68.95,668.30 L68.74,668.80 L68.63,669.30 L68.61,669.80 L68.70,670.30 L68.81,670.80 L68.93,671.30 L69.19,671.80 L69.68,672.30 L70.18,672.80 L70.70,673.30 L70.67,673.80 L70.49,674.30 L70.30,674.80 L70.26,675.30 L70.90,675.80 L71.55,676.30 L72.21,676.80 L72.24,677.30 L71.83,677.80 L71.40,678.30 L70.95,678.80 L71.58,679.30 L72.22,679.80 L72.82,680.30 L72.97,680.80 L72.45,681.30 L71.91,681.80 L71.37,682.30 L71.17,682.80 L71.06,683.30 L70.98,683.80 L71.10,684.30 L71.80,684.80 L72.68,685.30 L73.71,685.80 L74.28,686.30 L74.47,686.80 L74.63,687.30 L74.76,687.80 L75.75,688.30 L76.78,688.80 L77.85,689.30 L78.52,689.80 L78.51,690.30 L78.44,690.80 L78.25,691.30 L78.25,691.80 L78.10,692.30 L77.74,692.80 L77.48,693.30 L77.94,693.80 L78.36,694.30 L78.74,694.80 L78.60,695.30 L78.13,695.80 L77.66,696.30 L77.19,696.80 L76.92,697.30 L76.66,697.80 L76.42,698.30 L76.10,698.80 L75.67,699.30 L75.24,699.80 L74.82,700.30 L74.08,700.80 L73.29,701.30 L72.52,701.80 L71.99,702.30 L72.26,702.80 L72.76,703.30 L73.58,703.80 L74.48,704.30 L75.37,704.80 L76.31,705.30 L77.26,705.80 L77.88,706.30 L78.48,706.80 L79.02,707.30 L79.77,707.80 L80.79,708.30 L81.44,708.80 L81.69,709.30 L80.61,709.80 L79.22,710.30 L77.87,710.80 L76.86,711.30 L76.98,711.80 L77.05,712.30 L77.06,712.80 L76.52,713.30 L75.68,713.80 L74.97,714.30 L74.51,714.80 L73.98,715.30 L73.66,715.80 L73.41,716.30 L73.40,716.80 L73.75,717.30 L74.09,717.80 L74.44,718.30 L75.26,718.80 L76.24,719.30 L77.24,719.80 L78.12,720.30 L78.50,720.80 L78.69,721.30 L78.68,721.80 L78.01,722.30 L76.95,722.80 L75.92,723.30 L74.92,723.80 L74.85,724.30 L74.81,724.80 L74.80,725.30 L74.92,725.80 L75.16,726.30 L75.42,726.80 L75.69,727.30 L75.27,727.80 L74.69,728.30 L74.12,728.80 L73.77,729.30 L74.25,729.80 L74.70,730.30 L75.13,730.80 L75.01,731.30 L74.54,731.80 L74.07,732.30 L73.61,732.80 L73.12,733.30 L72.64,733.80 L72.17,734.30 L71.92,734.80 L71.99,735.30 L72.06,735.80 L72.11,736.30 L72.10,736.80 L72.08,737.30 L72.05,737.80 L71.96,738.30 L71.71,738.80 L71.45,739.30 L71.20,739.80 L71.08,740.30 L71.06,740.80 L71.02,741.30 L70.98,741.80 L70.51,742.30 L70.05,742.80 L69.61,743.30 L69.42,743.80 L69.60,744.30 L69.76,744.80 L69.91,745.30 L69.63,745.80 L69.25,746.30 L68.88,746.80 L68.59,747.30 L68.55,747.80 L68.51,748.30 L68.48,748.80 L68.39,749.30 L68.29,749.80 L68.21,750.30 L68.14,750.80 L68.00,751.30 L67.85,751.80 L67.71,752.30 L67.60,752.80 L67.53,753.30 L67.46,753.80 L67.39,754.30 L67.44,754.80 L67.52,755.30 L67.60,755.80 L67.66,756.30 L67.65,756.80 L67.64,757.30 L67.62,757.80 L67.54,758.30 L67.41,758.80 L67.29,759.30 L67.17,759.80 L67.03,760.30 L66.89,760.80 L66.76,761.30 L66.62,761.80 L66.47,762.30 L66.45,762.80 L66.38,763.30 L66.32,763.80 L66.25,764.30 L66.18,764.80 L66.12,765.30 L66.06,765.80 L66.01,766.30 L65.96,766.80 L65.91,767.30 L65.86,767.80 L65.81,768.30 L65.75,768.80 L65.69,769.30 L65.60,769.80 L65.45,770.00 Z" fill="#e1812c"/>
<text x="62.8" y="611.6" font-size="8.2" font-style="italic" text-anchor="middle" textLength="29.8" lengthAdjust="spacingAndGlyphs">OR4F17</text>
<text transform="translate(30.3,701.8) rotate(-90)" font-size="8.6" text-anchor="middle">CN</text>
<line x1="108.35" y1="617.0" x2="108.35" y2="791.4" stroke="#9e9e9e" stroke-width="1"/>
<line x1="108.35" y1="791.4" x2="141.85" y2="791.4" stroke="#a4a4a4" stroke-width="1"/>
<text x="104.6" y="791.4" font-size="7.9" text-anchor="end" textLength="8.8" lengthAdjust="spacingAndGlyphs">20</text>
<text x="104.6" y="765.4" font-size="7.9" text-anchor="end" textLength="8.8" lengthAdjust="spacingAndGlyphs">40</text>
<text x="104.6" y="739.4" font-size="7.9" text-anchor="end" textLength="8.8" lengthAdjust="spacingAndGlyphs">60</text>
<text x="104.6" y="713.4" font-size="7.9" text-anchor="end" textLength="8.8" lengthAdjust="spacingAndGlyphs">80</text>
<text x="104.6" y="687.4" font-size="7.9" text-anchor="end" textLength="11.7" lengthAdjust="spacingAndGlyphs">100</text>
<text x="104.6" y="661.4" font-size="7.9" text-anchor="end" textLength="11.7" lengthAdjust="spacingAndGlyphs">120</text>
<text x="104.6" y="635.4" font-size="7.9" text-anchor="end" textLength="11.7" lengthAdjust="spacingAndGlyphs">140</text>
<line x1="124.8" y1="624.8" x2="124.8" y2="783.0" stroke="#e2e9f1" stroke-width="1.2"/>
<path d="M124.25,659.00 L124.13,659.00 L124.06,659.50 L124.02,660.00 L124.00,660.50 L123.97,661.00 L123.95,661.50 L123.93,662.00 L123.89,662.50 L123.86,663.00 L123.83,663.50 L123.80,664.00 L123.76,664.50 L123.73,665.00 L123.69,665.50 L123.66,666.00 L123.63,666.50 L123.59,667.00 L123.56,667.50 L123.53,668.00 L123.49,668.50 L123.46,669.00 L123.42,669.50 L123.39,670.00 L123.36,670.50 L123.32,671.00 L123.29,671.50 L123.25,672.00 L123.07,672.50 L123.18,673.00 L123.24,673.50 L123.11,674.00 L122.97,674.50 L122.83,675.00 L122.77,675.50 L122.75,676.00 L122.73,676.50 L122.71,677.00 L122.57,677.50 L122.43,678.00 L122.29,678.50 L122.20,679.00 L122.18,679.50 L122.16,680.00 L122.14,680.50 L122.25,681.00 L122.38,681.50 L122.51,682.00 L122.61,682.50 L122.64,683.00 L122.66,683.50 L122.68,684.00 L122.58,684.50 L122.39,685.00 L122.20,685.50 L122.01,686.00 L121.86,686.50 L121.70,687.00 L121.54,687.50 L121.38,688.00 L121.21,688.50 L121.05,689.00 L120.88,689.50 L120.68,690.00 L120.47,690.50 L120.25,691.00 L120.03,691.50 L119.87,692.00 L119.70,692.50 L119.53,693.00 L119.63,693.50 L119.93,694.00 L120.24,694.50 L120.57,695.00 L120.03,695.50 L119.49,696.00 L118.93,696.50 L118.53,697.00 L118.41,697.50 L118.29,698.00 L118.16,698.50 L117.98,699.00 L117.78,699.50 L117.55,700.00 L117.36,700.50 L117.35,701.00 L117.34,701.50 L117.34,702.00 L117.34,702.50 L117.36,703.00 L117.38,703.50 L117.41,704.00 L116.81,704.50 L116.20,705.00 L115.57,705.50 L115.11,706.00 L114.94,706.50 L114.78,707.00 L114.62,707.50 L114.52,708.00 L114.44,708.50 L114.36,709.00 L114.23,709.50 L113.86,710.00 L113.49,710.50 L113.11,711.00 L113.15,711.50 L113.48,712.00 L113.83,712.50 L114.19,713.00 L114.27,713.50 L114.37,714.00 L114.46,714.50 L114.29,715.00 L113.69,715.50 L113.09,716.00 L112.50,716.50 L112.09,717.00 L111.73,717.50 L111.37,718.00 L111.17,718.50 L111.67,719.00 L112.18,719.50 L112.70,720.00 L112.50,720.50 L111.80,721.00 L111.08,721.50 L110.33,722.00 L109.92,722.50 L109.47,723.00 L108.99,723.50 L108.90,724.00 L109.43,724.50 L109.99,725.00 L110.57,725.50 L110.13,726.00 L109.45,726.50 L108.82,727.00 L108.35,727.50 L108.29,728.00 L108.30,728.50 L108.34,729.00 L108.59,729.50 L108.98,730.00 L109.37,730.50 L109.75,731.00 L110.19,731.50 L110.62,732.00 L111.05,732.50 L111.33,733.00 L111.40,733.50 L111.46,734.00 L111.54,734.50 L111.20,735.00 L110.78,735.50 L110.36,736.00 L110.05,736.50 L110.15,737.00 L110.25,737.50 L110.35,738.00 L110.69,738.50 L111.20,739.00 L111.71,739.50 L112.24,740.00 L112.83,740.50 L113.42,741.00 L114.01,741.50 L114.17,742.00 L113.70,742.50 L113.26,743.00 L112.84,743.50 L112.99,744.00 L113.27,744.50 L113.54,745.00 L113.89,745.50 L114.56,746.00 L115.22,746.50 L115.86,747.00 L116.05,747.50 L115.96,748.00 L115.89,748.50 L115.82,749.00 L115.78,749.50 L115.75,750.00 L115.73,750.50 L115.83,751.00 L116.09,751.50 L116.37,752.00 L116.67,752.50 L117.14,753.00 L117.66,753.50 L118.16,754.00 L118.61,754.50 L118.91,755.00 L119.20,755.50 L119.49,756.00 L119.72,756.50 L119.92,757.00 L120.09,757.50 L120.24,758.00 L120.62,758.50 L120.97,759.00 L121.31,759.50 L121.57,760.00 L121.72,760.50 L121.87,761.00 L122.03,761.50 L122.18,762.00 L122.34,762.50 L122.49,763.00 L122.59,763.50 L122.51,764.00 L122.41,764.50 L122.30,765.00 L122.36,765.50 L122.53,766.00 L122.69,766.50 L122.86,767.00 L122.85,767.50 L122.83,768.00 L122.82,768.50 L122.86,769.00 L122.97,769.50 L123.07,770.00 L123.17,770.50 L123.21,771.00 L123.23,771.50 L123.25,772.00 L123.29,772.50 L123.34,773.00 L123.38,773.50 L123.43,774.00 L123.48,774.50 L123.53,775.00 L123.58,775.50 L123.63,776.00 L123.67,776.50 L123.72,777.00 L123.77,777.50 L123.82,778.00 L123.87,778.50 L123.92,779.00 L123.98,779.50 L124.06,780.00 L124.25,780.40 Z" fill="#3274a1"/>
<path d="M125.35,624.80 L125.53,624.80 L125.65,625.30 L125.75,625.80 L125.81,626.30 L125.84,626.80 L125.85,627.30 L125.86,627.80 L125.86,628.30 L125.86,628.80 L125.86,629.30 L125.86,629.80 L125.86,630.30 L125.87,630.80 L125.87,631.30 L125.87,631.80 L125.87,632.30 L125.87,632.80 L125.87,633.30 L125.87,633.80 L125.88,634.30 L125.88,634.80 L125.88,635.30 L125.88,635.80 L125.88,636.30 L125.88,636.80 L125.89,637.30 L125.89,637.80 L125.89,638.30 L125.89,638.80 L125.89,639.30 L125.89,639.80 L125.90,640.30 L125.90,640.80 L125.90,641.30 L125.90,641.80 L125.90,642.30 L125.90,642.80 L125.90,643.30 L125.91,643.80 L125.91,644.30 L125.91,644.80 L125.91,645.30 L125.91,645.80 L125.91,646.30 L125.92,646.80 L125.92,647.30 L125.92,647.80 L125.92,648.30 L125.92,648.80 L125.92,649.30 L125.93,649.80 L125.93,650.30 L125.93,650.80 L125.93,651.30 L125.93,651.80 L125.93,652.30 L125.94,652.80 L125.94,653.30 L125.94,653.80 L125.94,654.30 L125.94,654.80 L125.94,655.30 L125.94,655.80 L125.95,656.30 L125.96,656.80 L126.00,657.30 L126.07,657.80 L126.17,658.30 L126.29,658.80 L126.12,659.30 L126.18,659.80 L126.23,660.30 L126.28,660.80 L126.45,661.30 L126.61,661.80 L126.78,662.30 L126.92,662.80 L127.01,663.30 L127.11,663.80 L127.21,664.30 L127.28,664.80 L127.35,665.30 L127.41,665.80 L127.48,666.30 L127.57,666.80 L127.65,667.30 L127.74,667.80 L127.96,668.30 L128.28,668.80 L128.60,669.30 L128.93,669.80 L129.18,670.30 L129.43,670.80 L129.68,671.30 L129.80,671.80 L129.71,672.30 L129.61,672.80 L129.51,673.30 L129.77,673.80 L130.12,674.30 L130.48,674.80 L130.80,675.30 L130.90,675.80 L131.03,676.30 L131.18,676.80 L131.08,677.30 L130.78,677.80 L130.47,678.30 L130.14,678.80 L130.63,679.30 L131.14,679.80 L131.66,680.30 L132.01,680.80 L132.07,681.30 L132.12,681.80 L132.16,682.30 L132.16,682.80 L132.14,683.30 L132.09,683.80 L132.17,684.30 L132.85,684.80 L133.46,685.30 L134.02,685.80 L133.88,686.30 L133.28,686.80 L132.69,687.30 L132.11,687.80 L132.25,688.30 L132.39,688.80 L132.53,689.30 L132.62,689.80 L132.67,690.30 L132.86,690.80 L133.20,691.30 L133.83,691.80 L134.57,692.30 L135.35,692.80 L136.05,693.30 L136.34,693.80 L136.62,694.30 L136.87,694.80 L137.11,695.30 L137.33,695.80 L137.51,696.30 L137.59,696.80 L137.88,697.30 L138.05,697.80 L138.12,698.30 L138.01,698.80 L137.67,699.30 L137.32,699.80 L136.98,700.30 L137.58,700.80 L138.42,701.30 L139.26,701.80 L139.94,702.30 L139.98,702.80 L140.11,703.30 L140.33,703.80 L140.11,704.30 L139.55,704.80 L138.97,705.30 L138.37,705.80 L138.42,706.30 L138.42,706.80 L138.31,707.30 L138.25,707.80 L138.34,708.30 L138.33,708.80 L138.28,709.30 L138.11,709.80 L137.90,710.30 L137.69,710.80 L137.57,711.30 L137.82,711.80 L138.05,712.30 L138.28,712.80 L138.25,713.30 L138.17,713.80 L138.32,714.30 L138.63,714.80 L138.96,715.30 L139.31,715.80 L139.66,716.30 L139.67,716.80 L139.13,717.30 L138.47,717.80 L137.66,718.30 L138.16,718.80 L138.96,719.30 L139.72,719.80 L140.29,720.30 L140.11,720.80 L139.93,721.30 L139.75,721.80 L139.58,722.30 L139.42,722.80 L139.26,723.30 L139.08,723.80 L139.32,724.30 L139.54,724.80 L139.73,725.30 L139.37,725.80 L138.21,726.30 L137.07,726.80 L135.95,727.30 L135.68,727.80 L135.62,728.30 L135.55,728.80 L135.59,729.30 L136.04,729.80 L136.49,730.30 L136.95,730.80 L137.19,731.30 L137.27,731.80 L137.36,732.30 L137.44,732.80 L137.11,733.30 L136.78,733.80 L136.46,734.30 L136.09,734.80 L135.67,735.30 L135.24,735.80 L134.81,736.30 L134.83,736.80 L134.94,737.30 L135.02,737.80 L135.06,738.30 L135.01,738.80 L134.95,739.30 L134.89,739.80 L134.43,740.30 L133.73,740.80 L133.04,741.30 L132.36,741.80 L132.36,742.30 L132.35,742.80 L132.33,743.30 L132.22,743.80 L131.98,744.30 L131.71,744.80 L131.40,745.30 L131.01,745.80 L130.58,746.30 L130.16,746.80 L129.80,747.30 L129.65,747.80 L129.49,748.30 L129.35,748.80 L129.04,749.30 L128.67,749.80 L128.35,750.30 L128.05,750.80 L127.93,751.30 L127.80,751.80 L127.68,752.30 L127.52,752.80 L127.33,753.30 L127.15,753.80 L126.96,754.30 L126.96,754.80 L127.01,755.30 L127.07,755.80 L127.06,756.30 L126.76,756.80 L126.46,757.30 L126.17,757.80 L126.14,758.30 L126.27,758.80 L126.39,759.30 L126.28,759.80 L126.19,760.30 L126.11,760.80 L126.03,761.30 L125.95,761.80 L125.88,762.30 L125.82,762.80 L125.75,763.30 L125.69,763.80 L125.60,764.30 L125.51,764.80 L125.35,765.00 Z" fill="#e1812c"/>
<text x="123.4" y="611.6" font-size="8.2" font-style="italic" text-anchor="middle" textLength="61.5" lengthAdjust="spacingAndGlyphs">LOC124908130</text>
<line x1="168.25" y1="617.0" x2="168.25" y2="791.4" stroke="#9e9e9e" stroke-width="1"/>
<line x1="168.25" y1="791.4" x2="201.75" y2="791.4" stroke="#a4a4a4" stroke-width="1"/>
<text x="164.6" y="784.7" font-size="7.9" text-anchor="end" textLength="8.8" lengthAdjust="spacingAndGlyphs">30</text>
<text x="164.6" y="762.7" font-size="7.9" text-anchor="end" textLength="8.8" lengthAdjust="spacingAndGlyphs">40</text>
<text x="164.6" y="740.7" font-size="7.9" text-anchor="end" textLength="8.8" lengthAdjust="spacingAndGlyphs">50</text>
<text x="164.6" y="718.7" font-size="7.9" text-anchor="end" textLength="8.8" lengthAdjust="spacingAndGlyphs">60</text>
<text x="164.6" y="696.7" font-size="7.9" text-anchor="end" textLength="8.8" lengthAdjust="spacingAndGlyphs">70</text>
<text x="164.6" y="674.7" font-size="7.9" text-anchor="end" textLength="8.8" lengthAdjust="spacingAndGlyphs">80</text>
<text x="164.6" y="652.7" font-size="7.9" text-anchor="end" textLength="8.8" lengthAdjust="spacingAndGlyphs">90</text>
<text x="164.6" y="630.7" font-size="7.9" text-anchor="end" textLength="11.7" lengthAdjust="spacingAndGlyphs">100</text>
<line x1="184.7" y1="624.8" x2="184.7" y2="783.0" stroke="#e2e9f1" stroke-width="1.2"/>
<path d="M184.15,722.00 L184.02,722.00 L183.96,722.50 L183.91,723.00 L183.88,723.50 L183.84,724.00 L183.79,724.50 L183.73,725.00 L183.66,725.50 L183.59,726.00 L183.52,726.50 L183.45,727.00 L183.37,727.50 L183.30,728.00 L183.23,728.50 L183.16,729.00 L183.41,729.50 L183.25,730.00 L183.09,730.50 L182.92,731.00 L182.96,731.50 L182.98,732.00 L182.99,732.50 L182.80,733.00 L182.35,733.50 L181.86,734.00 L181.34,734.50 L181.09,735.00 L180.90,735.50 L180.72,736.00 L180.55,736.50 L180.43,737.00 L180.32,737.50 L180.20,738.00 L180.07,738.50 L179.90,739.00 L179.72,739.50 L179.52,740.00 L179.29,740.50 L179.07,741.00 L178.84,741.50 L178.48,742.00 L177.88,742.50 L177.26,743.00 L176.62,743.50 L176.42,744.00 L176.32,744.50 L176.19,745.00 L175.95,745.50 L175.36,746.00 L174.74,746.50 L174.10,747.00 L173.80,747.50 L173.75,748.00 L173.74,748.50 L173.78,749.00 L173.29,749.50 L172.82,750.00 L172.36,750.50 L172.02,751.00 L171.84,751.50 L171.67,752.00 L171.51,752.50 L170.56,753.00 L169.40,753.50 L168.26,754.00 L167.42,754.50 L167.52,755.00 L167.71,755.50 L167.95,756.00 L168.38,756.50 L168.94,757.00 L169.50,757.50 L170.05,758.00 L169.18,758.50 L168.33,759.00 L167.56,759.50 L167.56,760.00 L168.62,760.50 L169.69,761.00 L170.75,761.50 L171.09,762.00 L171.26,762.50 L171.45,763.00 L171.72,763.50 L172.35,764.00 L172.99,764.50 L173.64,765.00 L174.10,765.50 L174.44,766.00 L174.80,766.50 L175.17,767.00 L175.16,767.50 L175.20,768.00 L175.27,768.50 L175.70,769.00 L176.57,769.50 L177.39,770.00 L178.15,770.50 L178.70,771.00 L179.19,771.50 L179.66,772.00 L180.07,772.50 L180.28,773.00 L180.51,773.50 L180.75,774.00 L181.11,774.50 L181.52,775.00 L181.84,775.50 L182.10,776.00 L182.05,776.50 L181.99,777.00 L181.93,777.50 L182.08,778.00 L182.49,778.50 L182.89,779.00 L183.27,779.50 L183.27,780.00 L183.25,780.50 L183.47,781.00 L183.69,781.50 L183.90,782.00 L184.15,782.00 Z" fill="#3274a1"/>
<path d="M185.25,624.80 L185.41,624.80 L185.50,625.30 L185.58,625.80 L185.62,626.30 L185.64,626.80 L185.65,627.30 L185.65,627.80 L185.65,628.30 L185.65,628.80 L185.65,629.30 L185.66,629.80 L185.66,630.30 L185.66,630.80 L185.66,631.30 L185.66,631.80 L185.66,632.30 L185.66,632.80 L185.66,633.30 L185.66,633.80 L185.66,634.30 L185.66,634.80 L185.66,635.30 L185.66,635.80 L185.67,636.30 L185.67,636.80 L185.67,637.30 L185.67,637.80 L185.67,638.30 L185.67,638.80 L185.67,639.30 L185.67,639.80 L185.67,640.30 L185.67,640.80 L185.67,641.30 L185.67,641.80 L185.67,642.30 L185.68,642.80 L185.68,643.30 L185.68,643.80 L185.68,644.30 L185.68,644.80 L185.68,645.30 L185.68,645.80 L185.68,646.30 L185.68,646.80 L185.68,647.30 L185.68,647.80 L185.68,648.30 L185.68,648.80 L185.68,649.30 L185.69,649.80 L185.69,650.30 L185.69,650.80 L185.69,651.30 L185.69,651.80 L185.69,652.30 L185.69,652.80 L185.69,653.30 L185.69,653.80 L185.69,654.30 L185.69,654.80 L185.69,655.30 L185.69,655.80 L185.70,656.30 L185.70,656.80 L185.70,657.30 L185.70,657.80 L185.70,658.30 L185.70,658.80 L185.70,659.30 L185.70,659.80 L185.70,660.30 L185.70,660.80 L185.70,661.30 L185.70,661.80 L185.70,662.30 L185.70,662.80 L185.71,663.30 L185.71,663.80 L185.71,664.30 L185.71,664.80 L185.71,665.30 L185.71,665.80 L185.71,666.30 L185.71,666.80 L185.71,667.30 L185.71,667.80 L185.71,668.30 L185.71,668.80 L185.71,669.30 L185.72,669.80 L185.72,670.30 L185.72,670.80 L185.72,671.30 L185.72,671.80 L185.72,672.30 L185.72,672.80 L185.72,673.30 L185.72,673.80 L185.72,674.30 L185.72,674.80 L185.72,675.30 L185.72,675.80 L185.73,676.30 L185.73,676.80 L185.73,677.30 L185.73,677.80 L185.73,678.30 L185.73,678.80 L185.73,679.30 L185.73,679.80 L185.73,680.30 L185.73,680.80 L185.73,681.30 L185.73,681.80 L185.73,682.30 L185.73,682.80 L185.74,683.30 L185.74,683.80 L185.74,684.30 L185.74,684.80 L185.74,685.30 L185.74,685.80 L185.74,686.30 L185.74,686.80 L185.74,687.30 L185.74,687.80 L185.74,688.30 L185.74,688.80 L185.74,689.30 L185.75,689.80 L185.75,690.30 L185.75,690.80 L185.75,691.30 L185.75,691.80 L185.75,692.30 L185.75,692.80 L185.76,693.30 L185.77,693.80 L185.78,694.30 L185.80,694.80 L185.81,695.30 L185.82,695.80 L185.83,696.30 L185.84,696.80 L185.86,697.30 L185.87,697.80 L185.88,698.30 L185.90,698.80 L185.91,699.30 L185.92,699.80 L185.93,700.30 L185.94,700.80 L185.96,701.30 L185.97,701.80 L185.98,702.30 L186.00,702.80 L186.01,703.30 L186.02,703.80 L186.04,704.30 L186.07,704.80 L186.11,705.30 L186.17,705.80 L186.23,706.30 L185.91,706.80 L185.93,707.30 L186.05,707.80 L186.32,708.30 L186.60,708.80 L186.92,709.30 L187.05,709.80 L187.21,710.30 L187.45,710.80 L187.78,711.30 L188.33,711.80 L188.91,712.30 L189.49,712.80 L189.75,713.30 L189.71,713.80 L189.54,714.30 L189.28,714.80 L189.77,715.30 L190.24,715.80 L190.67,716.30 L190.73,716.80 L190.26,717.30 L189.68,717.80 L189.07,718.30 L188.84,718.80 L188.73,719.30 L188.71,719.80 L188.82,720.30 L188.94,720.80 L189.17,721.30 L189.44,721.80 L189.60,722.30 L189.68,722.80 L189.75,723.30 L189.81,723.80 L189.79,724.30 L189.76,724.80 L189.72,725.30 L190.00,725.80 L190.80,726.30 L191.66,726.80 L192.58,727.30 L192.83,727.80 L192.89,728.30 L192.93,728.80 L193.08,729.30 L193.72,729.80 L194.38,730.30 L195.06,730.80 L195.25,731.30 L195.08,731.80 L194.87,732.30 L194.61,732.80 L194.79,733.30 L194.96,733.80 L195.11,734.30 L195.54,734.80 L196.41,735.30 L197.29,735.80 L198.20,736.30 L198.21,736.80 L197.99,737.30 L197.74,737.80 L197.52,738.30 L197.50,738.80 L197.44,739.30 L197.36,739.80 L197.53,740.30 L197.89,740.80 L198.25,741.30 L198.61,741.80 L198.93,742.30 L199.17,742.80 L199.26,743.30 L198.85,743.80 L197.85,744.30 L196.85,744.80 L195.88,745.30 L195.85,745.80 L196.08,746.30 L196.41,746.80 L196.84,747.30 L197.03,747.80 L197.37,748.30 L197.77,748.80 L198.28,749.30 L198.85,749.80 L199.36,750.30 L199.71,750.80 L199.15,751.30 L198.16,751.80 L196.87,752.30 L195.87,752.80 L195.37,753.30 L194.77,753.80 L194.11,754.30 L193.17,754.80 L192.32,755.30 L191.72,755.80 L191.34,756.30 L191.05,756.80 L190.81,757.30 L190.57,757.80 L190.15,758.30 L189.67,758.80 L189.29,759.30 L189.06,759.80 L189.46,760.30 L189.99,760.80 L190.57,761.30 L191.02,761.80 L191.20,762.30 L191.35,762.80 L191.40,763.30 L191.65,763.80 L191.78,764.30 L191.73,764.80 L191.46,765.30 L190.66,765.80 L189.89,766.30 L189.16,766.80 L188.94,767.30 L189.04,767.80 L189.17,768.30 L189.33,768.80 L189.18,769.30 L189.03,769.80 L188.89,770.30 L188.65,770.80 L188.29,771.30 L187.94,771.80 L187.60,772.30 L187.40,772.80 L187.25,773.30 L187.10,773.80 L186.96,774.30 L186.83,774.80 L186.71,775.30 L186.59,775.80 L186.48,776.30 L186.36,776.80 L186.20,777.30 L186.08,777.80 L185.96,778.30 L185.84,778.80 L185.71,779.30 L185.58,779.80 L185.44,780.30 L185.25,780.40 Z" fill="#e1812c"/>
<text x="183.3" y="611.6" font-size="8.2" font-style="italic" text-anchor="middle" textLength="21.0" lengthAdjust="spacingAndGlyphs">DUX4</text>
<line x1="228.15" y1="617.0" x2="228.15" y2="791.4" stroke="#9e9e9e" stroke-width="1"/>
<line x1="228.15" y1="791.4" x2="261.65" y2="791.4" stroke="#a4a4a4" stroke-width="1"/>
<text x="224.5" y="786.6" font-size="7.9" text-anchor="end" textLength="4.4" lengthAdjust="spacingAndGlyphs">4</text>
<text x="224.5" y="756.3" font-size="7.9" text-anchor="end" textLength="4.4" lengthAdjust="spacingAndGlyphs">6</text>
<text x="224.5" y="726.0" font-size="7.9" text-anchor="end" textLength="4.4" lengthAdjust="spacingAndGlyphs">8</text>
<text x="224.5" y="695.7" font-size="7.9" text-anchor="end" textLength="7.3" lengthAdjust="spacingAndGlyphs">10</text>
<text x="224.5" y="665.4" font-size="7.9" text-anchor="end" textLength="7.3" lengthAdjust="spacingAndGlyphs">12</text>
<text x="224.5" y="635.1" font-size="7.9" text-anchor="end" textLength="7.3" lengthAdjust="spacingAndGlyphs">14</text>
<line x1="244.6" y1="624.8" x2="244.6" y2="783.0" stroke="#e2e9f1" stroke-width="1.2"/>
<path d="M244.05,659.00 L243.93,659.00 L243.86,659.50 L243.82,660.00 L243.80,660.50 L243.77,661.00 L243.75,661.50 L243.73,662.00 L243.70,662.50 L243.68,663.00 L243.65,663.50 L243.62,664.00 L243.59,664.50 L243.57,665.00 L243.54,665.50 L243.51,666.00 L243.48,666.50 L243.45,667.00 L243.43,667.50 L243.40,668.00 L243.37,668.50 L243.34,669.00 L243.31,669.50 L243.29,670.00 L243.26,670.50 L243.23,671.00 L243.20,671.50 L243.17,672.00 L243.15,672.50 L243.12,673.00 L243.09,673.50 L243.43,674.00 L243.44,674.50 L243.44,675.00 L243.31,675.50 L243.08,676.00 L242.84,676.50 L242.60,677.00 L242.55,677.50 L242.49,678.00 L242.44,678.50 L242.39,679.00 L242.35,679.50 L242.30,680.00 L242.26,680.50 L242.16,681.00 L242.03,681.50 L241.91,682.00 L241.84,682.50 L241.99,683.00 L242.15,683.50 L242.31,684.00 L242.17,684.50 L241.83,685.00 L241.48,685.50 L241.12,686.00 L241.09,686.50 L241.05,687.00 L240.99,687.50 L241.01,688.00 L241.16,688.50 L241.32,689.00 L241.50,689.50 L241.42,690.00 L241.27,690.50 L241.12,691.00 L240.94,691.50 L240.65,692.00 L240.35,692.50 L240.04,693.00 L239.84,693.50 L239.71,694.00 L239.58,694.50 L239.45,695.00 L239.44,695.50 L239.44,696.00 L239.44,696.50 L239.43,697.00 L239.40,697.50 L239.37,698.00 L239.35,698.50 L239.11,699.00 L238.83,699.50 L238.53,700.00 L238.30,700.50 L238.35,701.00 L238.40,701.50 L238.45,702.00 L238.23,702.50 L237.81,703.00 L237.39,703.50 L236.95,704.00 L236.64,704.50 L236.33,705.00 L236.01,705.50 L235.97,706.00 L236.35,706.50 L236.75,707.00 L237.16,707.50 L236.90,708.00 L236.46,708.50 L236.02,709.00 L235.61,709.50 L235.35,710.00 L235.09,710.50 L234.83,711.00 L234.93,711.50 L235.30,712.00 L235.68,712.50 L236.07,713.00 L235.45,713.50 L234.81,714.00 L234.18,714.50 L233.71,715.00 L233.53,715.50 L233.34,716.00 L233.15,716.50 L233.41,717.00 L233.78,717.50 L234.12,718.00 L234.34,718.50 L234.13,719.00 L233.91,719.50 L233.68,720.00 L233.23,720.50 L232.63,721.00 L232.01,721.50 L231.39,722.00 L231.48,722.50 L231.57,723.00 L231.66,723.50 L231.67,724.00 L231.57,724.50 L231.47,725.00 L231.38,725.50 L230.69,726.00 L229.83,726.50 L228.98,727.00 L228.33,727.50 L228.51,728.00 L228.97,728.50 L229.72,729.00 L230.81,729.50 L232.07,730.00 L233.29,730.50 L234.47,731.00 L235.26,731.50 L235.88,732.00 L236.17,732.50 L235.98,733.00 L235.36,733.50 L234.58,734.00 L233.74,734.50 L232.87,735.00 L232.00,735.50 L231.11,736.00 L230.14,736.50 L228.83,737.00 L227.76,737.50 L227.10,738.00 L227.41,738.50 L228.31,739.00 L229.29,739.50 L230.28,740.00 L230.95,740.50 L231.60,741.00 L232.13,741.50 L232.52,742.00 L232.77,742.50 L232.83,743.00 L232.82,743.50 L232.68,744.00 L232.52,744.50 L232.38,745.00 L232.45,745.50 L233.25,746.00 L234.18,746.50 L235.19,747.00 L235.56,747.50 L235.52,748.00 L235.51,748.50 L235.52,749.00 L235.57,749.50 L235.65,750.00 L235.72,750.50 L235.91,751.00 L236.21,751.50 L236.44,752.00 L236.62,752.50 L237.11,753.00 L237.67,753.50 L238.22,754.00 L238.66,754.50 L238.67,755.00 L238.68,755.50 L238.69,756.00 L238.70,756.50 L238.70,757.00 L238.71,757.50 L238.72,758.00 L239.01,758.50 L239.29,759.00 L239.56,759.50 L239.75,760.00 L239.79,760.50 L239.84,761.00 L239.89,761.50 L240.19,762.00 L240.54,762.50 L240.89,763.00 L241.15,763.50 L241.10,764.00 L241.06,764.50 L241.03,765.00 L241.07,765.50 L241.17,766.00 L241.27,766.50 L241.37,767.00 L241.69,767.50 L242.00,768.00 L242.30,768.50 L242.50,769.00 L242.57,769.50 L242.62,770.00 L242.67,770.50 L242.51,771.00 L242.30,771.50 L242.10,772.00 L241.97,772.50 L242.11,773.00 L242.25,773.50 L242.39,774.00 L242.46,774.50 L242.49,775.00 L242.52,775.50 L242.56,776.00 L243.11,776.50 L243.21,777.00 L243.31,777.50 L243.42,778.00 L243.53,778.50 L243.64,779.00 L243.76,779.50 L243.88,780.00 L244.05,780.00 Z" fill="#3274a1"/>
<path d="M245.15,624.80 L245.33,624.80 L245.45,625.30 L245.55,625.80 L245.61,626.30 L245.65,626.80 L245.66,627.30 L245.66,627.80 L245.67,628.30 L245.67,628.80 L245.67,629.30 L245.68,629.80 L245.68,630.30 L245.68,630.80 L245.69,631.30 L245.69,631.80 L245.69,632.30 L245.70,632.80 L245.70,633.30 L245.70,633.80 L245.71,634.30 L245.71,634.80 L245.71,635.30 L245.72,635.80 L245.72,636.30 L245.72,636.80 L245.73,637.30 L245.73,637.80 L245.73,638.30 L245.74,638.80 L245.74,639.30 L245.74,639.80 L245.75,640.30 L245.75,640.80 L245.75,641.30 L245.76,641.80 L245.76,642.30 L245.76,642.80 L245.77,643.30 L245.77,643.80 L245.77,644.30 L245.78,644.80 L245.78,645.30 L245.78,645.80 L245.79,646.30 L245.79,646.80 L245.80,647.30 L245.80,647.80 L245.80,648.30 L245.81,648.80 L245.81,649.30 L245.81,649.80 L245.82,650.30 L245.82,650.80 L245.82,651.30 L245.83,651.80 L245.83,652.30 L245.83,652.80 L245.84,653.30 L245.84,653.80 L245.84,654.30 L245.85,654.80 L245.85,655.30 L245.85,655.80 L245.86,656.30 L245.86,656.80 L245.86,657.30 L245.87,657.80 L245.87,658.30 L245.87,658.80 L245.88,659.30 L245.88,659.80 L245.88,660.30 L245.89,660.80 L245.89,661.30 L245.89,661.80 L245.90,662.30 L245.90,662.80 L245.90,663.30 L245.91,663.80 L245.91,664.30 L245.91,664.80 L245.92,665.30 L245.92,665.80 L245.92,666.30 L245.93,666.80 L245.93,667.30 L245.94,667.80 L245.94,668.30 L245.95,668.80 L245.97,669.30 L246.03,669.80 L245.82,670.30 L246.03,670.80 L246.28,671.30 L246.53,671.80 L246.79,672.30 L247.05,672.80 L247.30,673.30 L247.47,673.80 L247.59,674.30 L247.68,674.80 L247.75,675.30 L247.83,675.80 L247.91,676.30 L247.99,676.80 L248.03,677.30 L248.06,677.80 L248.08,678.30 L248.10,678.80 L248.41,679.30 L248.73,679.80 L249.05,680.30 L249.34,680.80 L249.60,681.30 L249.86,681.80 L250.15,682.30 L250.26,682.80 L250.33,683.30 L250.42,683.80 L250.53,684.30 L250.72,684.80 L250.91,685.30 L251.10,685.80 L251.34,686.30 L251.61,686.80 L251.87,687.30 L252.14,687.80 L252.06,688.30 L251.96,688.80 L251.85,689.30 L252.00,689.80 L252.57,690.30 L253.16,690.80 L253.76,691.30 L253.91,691.80 L253.93,692.30 L253.95,692.80 L254.01,693.30 L254.29,693.80 L254.58,694.30 L254.87,694.80 L255.15,695.30 L255.42,695.80 L255.69,696.30 L255.97,696.80 L256.06,697.30 L256.17,697.80 L256.29,698.30 L256.43,698.80 L256.57,699.30 L256.72,699.80 L256.85,700.30 L257.06,700.80 L257.29,701.30 L257.51,701.80 L257.74,702.30 L258.01,702.80 L258.28,703.30 L258.55,703.80 L259.03,704.30 L259.61,704.80 L260.07,705.30 L260.35,705.80 L259.95,706.30 L259.47,706.80 L258.96,707.30 L258.61,707.80 L258.48,708.30 L258.34,708.80 L258.19,709.30 L257.38,709.80 L256.44,710.30 L255.54,710.80 L254.92,711.30 L255.14,711.80 L255.49,712.30 L255.95,712.80 L256.57,713.30 L257.28,713.80 L258.01,714.30 L258.75,714.80 L258.32,715.30 L257.86,715.80 L257.39,716.30 L257.29,716.80 L257.74,717.30 L258.04,717.80 L258.11,718.30 L257.66,718.80 L257.02,719.30 L256.35,719.80 L255.65,720.30 L254.86,720.80 L254.08,721.30 L253.33,721.80 L253.00,722.30 L252.92,722.80 L252.80,723.30 L252.71,723.80 L251.83,724.30 L251.14,724.80 L250.56,725.30 L250.32,725.80 L250.51,726.30 L250.68,726.80 L250.86,727.30 L250.53,727.80 L250.10,728.30 L249.72,728.80 L249.46,729.30 L249.53,729.80 L249.68,730.30 L249.88,730.80 L250.42,731.30 L251.21,731.80 L252.03,732.30 L252.88,732.80 L252.90,733.30 L252.86,733.80 L252.71,734.30 L252.41,734.80 L251.98,735.30 L251.45,735.80 L250.90,736.30 L250.72,736.80 L250.62,737.30 L250.51,737.80 L250.34,738.30 L250.05,738.80 L249.75,739.30 L249.46,739.80 L249.27,740.30 L249.17,740.80 L249.15,741.30 L249.18,741.80 L248.82,742.30 L248.47,742.80 L248.12,743.30 L247.92,743.80 L247.91,744.30 L247.90,744.80 L247.90,745.30 L248.10,745.80 L248.35,746.30 L248.60,746.80 L248.76,747.30 L248.60,747.80 L248.44,748.30 L248.28,748.80 L248.04,749.30 L247.74,749.80 L247.44,750.30 L247.15,750.80 L247.16,751.30 L247.16,751.80 L247.17,752.30 L247.15,752.80 L247.09,753.30 L247.03,753.80 L246.97,754.30 L246.99,754.80 L247.04,755.30 L247.08,755.80 L247.09,756.30 L247.00,756.80 L246.91,757.30 L246.82,757.80 L246.79,758.30 L246.79,758.80 L246.80,759.30 L246.79,759.80 L246.71,760.30 L246.63,760.80 L246.56,761.30 L246.48,761.80 L246.36,762.30 L246.14,762.80 L246.13,763.30 L246.12,763.80 L246.11,764.30 L246.10,764.80 L246.10,765.30 L246.09,765.80 L246.08,766.30 L246.07,766.80 L246.07,767.30 L246.06,767.80 L246.05,768.30 L246.04,768.80 L246.04,769.30 L246.03,769.80 L246.02,770.30 L246.01,770.80 L246.01,771.30 L246.00,771.80 L245.99,772.30 L245.98,772.80 L245.98,773.30 L245.97,773.80 L245.97,774.30 L245.97,774.80 L245.99,775.30 L246.02,775.80 L246.06,776.30 L246.10,776.80 L246.14,777.30 L245.79,777.80 L246.05,778.30 L246.31,778.80 L246.56,779.30 L246.59,779.80 L246.26,780.30 L246.04,780.80 L245.79,781.30 L245.52,781.80 L245.15,782.00 Z" fill="#e1812c"/>
<text x="242.3" y="611.6" font-size="8.2" font-style="italic" text-anchor="middle" textLength="29.7" lengthAdjust="spacingAndGlyphs">POLR2J</text>
<line x1="288.05" y1="617.0" x2="288.05" y2="791.4" stroke="#9e9e9e" stroke-width="1"/>
<line x1="288.05" y1="791.4" x2="321.55" y2="791.4" stroke="#a4a4a4" stroke-width="1"/>
<text x="284.4" y="784.6" font-size="7.9" text-anchor="end" textLength="4.4" lengthAdjust="spacingAndGlyphs">2</text>
<text x="284.4" y="748.2" font-size="7.9" text-anchor="end" textLength="4.4" lengthAdjust="spacingAndGlyphs">4</text>
<text x="284.4" y="711.8" font-size="7.9" text-anchor="end" textLength="4.4" lengthAdjust="spacingAndGlyphs">6</text>
<text x="284.4" y="675.4" font-size="7.9" text-anchor="end" textLength="4.4" lengthAdjust="spacingAndGlyphs">8</text>
<text x="284.4" y="639.0" font-size="7.9" text-anchor="end" textLength="7.3" lengthAdjust="spacingAndGlyphs">10</text>
<line x1="304.5" y1="624.8" x2="304.5" y2="782" stroke="#e2e9f1" stroke-width="1.2"/>
<path d="M303.95,694.00 L303.93,694.00 L303.91,694.50 L303.88,695.00 L303.86,695.50 L303.82,696.00 L303.76,696.50 L303.69,697.00 L303.59,697.50 L303.47,698.00 L303.34,698.50 L303.22,699.00 L303.24,699.50 L303.37,700.00 L303.50,700.50 L303.61,701.00 L303.70,701.50 L303.77,702.00 L303.82,702.50 L303.86,703.00 L303.89,703.50 L303.91,704.00 L303.92,704.50 L303.93,705.00 L303.94,705.50 L303.94,706.00 L303.94,706.50 L303.95,707.00 L303.95,707.50 L303.95,708.00 L303.95,708.50 L303.95,709.00 L303.95,709.50 L303.95,710.00 L303.95,710.50 L303.95,711.00 L303.95,711.50 L303.95,712.00 L303.94,712.50 L303.94,713.00 L303.93,713.50 L303.93,714.00 L303.91,714.50 L303.90,715.00 L303.87,715.50 L303.83,716.00 L303.77,716.50 L303.69,717.00 L303.58,717.50 L303.43,718.00 L303.22,718.50 L302.94,719.00 L302.59,719.50 L302.17,720.00 L301.71,720.50 L301.46,721.00 L301.71,721.50 L302.16,722.00 L302.59,722.50 L302.94,723.00 L303.22,723.50 L303.43,724.00 L303.58,724.50 L303.69,725.00 L303.77,725.50 L303.83,726.00 L303.87,726.50 L303.89,727.00 L303.91,727.50 L303.92,728.00 L303.93,728.50 L303.93,729.00 L303.93,729.50 L303.92,730.00 L303.91,730.50 L303.89,731.00 L303.86,731.50 L303.82,732.00 L303.75,732.50 L303.66,733.00 L303.54,733.50 L303.35,734.00 L303.10,734.50 L302.75,735.00 L302.26,735.50 L301.60,736.00 L300.72,736.50 L299.56,737.00 L298.07,737.50 L296.20,738.00 L293.93,738.50 L291.34,739.00 L288.97,739.50 L288.67,740.00 L290.81,740.50 L293.43,741.00 L295.77,741.50 L297.73,742.00 L299.29,742.50 L300.51,743.00 L301.44,743.50 L302.14,744.00 L302.66,744.50 L303.04,745.00 L303.31,745.50 L303.50,746.00 L303.64,746.50 L303.73,747.00 L303.80,747.50 L303.84,748.00 L303.87,748.50 L303.88,749.00 L303.88,749.50 L303.88,750.00 L303.86,750.50 L303.82,751.00 L303.77,751.50 L303.69,752.00 L303.58,752.50 L303.42,753.00 L303.20,753.50 L302.90,754.00 L302.48,754.50 L301.92,755.00 L301.18,755.50 L300.22,756.00 L298.99,756.50 L297.49,757.00 L295.72,757.50 L293.86,758.00 L292.87,758.50 L293.86,759.00 L295.72,759.50 L297.49,760.00 L298.99,760.50 L300.22,761.00 L301.18,761.50 L301.92,762.00 L302.48,762.50 L302.90,763.00 L303.20,763.50 L303.42,764.00 L303.58,764.50 L303.70,765.00 L303.78,765.50 L303.83,766.00 L303.87,766.50 L303.90,767.00 L303.91,767.50 L303.93,768.00 L303.93,768.50 L303.94,769.00 L303.94,769.50 L303.94,770.00 L303.95,770.50 L303.94,771.00 L303.94,771.50 L303.94,772.00 L303.93,772.50 L303.91,773.00 L303.89,773.50 L303.84,774.00 L303.77,774.50 L303.65,775.00 L303.46,775.50 L303.16,776.00 L302.72,776.50 L302.09,777.00 L301.26,777.50 L300.38,778.00 L300.27,778.50 L301.07,779.00 L301.94,779.50 L302.61,780.00 L303.09,780.50 L303.41,781.00 L303.62,781.50 L303.75,782.00 L303.83,782.50 L303.90,783.00 L303.95,783.00 Z" fill="#3274a1"/>
<path d="M305.05,675.00 L305.09,675.00 L305.13,675.50 L305.16,676.00 L305.19,676.50 L305.24,677.00 L305.30,677.50 L305.37,678.00 L305.46,678.50 L305.57,679.00 L305.70,679.50 L305.84,680.00 L305.96,680.50 L305.98,681.00 L305.86,681.50 L305.72,682.00 L305.59,682.50 L305.48,683.00 L305.39,683.50 L305.31,684.00 L305.25,684.50 L305.20,685.00 L305.16,685.50 L305.13,686.00 L305.11,686.50 L305.10,687.00 L305.08,687.50 L305.08,688.00 L305.07,688.50 L305.07,689.00 L305.07,689.50 L305.07,690.00 L305.07,690.50 L305.07,691.00 L305.08,691.50 L305.09,692.00 L305.10,692.50 L305.12,693.00 L305.14,693.50 L305.18,694.00 L305.22,694.50 L305.27,695.00 L305.35,695.50 L305.44,696.00 L305.55,696.50 L305.70,697.00 L305.86,697.50 L306.06,698.00 L306.27,698.50 L306.44,699.00 L306.42,699.50 L306.23,700.00 L306.02,700.50 L305.83,701.00 L305.66,701.50 L305.53,702.00 L305.42,702.50 L305.33,703.00 L305.26,703.50 L305.21,704.00 L305.17,704.50 L305.14,705.00 L305.12,705.50 L305.10,706.00 L305.09,706.50 L305.08,707.00 L305.07,707.50 L305.07,708.00 L305.07,708.50 L305.07,709.00 L305.08,709.50 L305.09,710.00 L305.10,710.50 L305.12,711.00 L305.15,711.50 L305.18,712.00 L305.23,712.50 L305.30,713.00 L305.39,713.50 L305.50,714.00 L305.66,714.50 L305.86,715.00 L306.11,715.50 L306.43,716.00 L306.83,716.50 L307.32,717.00 L307.90,717.50 L308.55,718.00 L309.21,718.50 L309.56,719.00 L309.21,719.50 L308.55,720.00 L307.90,720.50 L307.32,721.00 L306.83,721.50 L306.43,722.00 L306.11,722.50 L305.86,723.00 L305.66,723.50 L305.50,724.00 L305.39,724.50 L305.30,725.00 L305.23,725.50 L305.18,726.00 L305.15,726.50 L305.12,727.00 L305.11,727.50 L305.10,728.00 L305.09,728.50 L305.09,729.00 L305.10,729.50 L305.12,730.00 L305.14,730.50 L305.18,731.00 L305.23,731.50 L305.31,732.00 L305.42,732.50 L305.57,733.00 L305.78,733.50 L306.07,734.00 L306.47,734.50 L307.00,735.00 L307.71,735.50 L308.63,736.00 L309.83,736.50 L311.33,737.00 L313.18,737.50 L315.38,738.00 L317.80,738.50 L319.77,739.00 L319.49,739.50 L317.31,740.00 L314.91,740.50 L312.79,741.00 L311.01,741.50 L309.57,742.00 L308.43,742.50 L307.55,743.00 L306.88,743.50 L306.38,744.00 L306.01,744.50 L305.73,745.00 L305.53,745.50 L305.39,746.00 L305.29,746.50 L305.22,747.00 L305.16,747.50 L305.13,748.00 L305.11,748.50 L305.09,749.00 L305.08,749.50 L305.08,750.00 L305.08,750.50 L305.09,751.00 L305.10,751.50 L305.12,752.00 L305.16,752.50 L305.21,753.00 L305.28,753.50 L305.39,754.00 L305.54,754.50 L305.76,755.00 L306.06,755.50 L306.46,756.00 L306.99,756.50 L307.67,757.00 L308.49,757.50 L309.38,758.00 L309.88,758.50 L309.38,759.00 L308.49,759.50 L307.67,760.00 L306.99,760.50 L306.46,761.00 L306.06,761.50 L305.76,762.00 L305.54,762.50 L305.39,763.00 L305.28,763.50 L305.20,764.00 L305.15,764.50 L305.12,765.00 L305.09,765.50 L305.07,766.00 L305.05,766.00 Z" fill="#e1812c"/>
<text x="303.0" y="611.6" font-size="8.2" font-style="italic" text-anchor="middle" textLength="22.3" lengthAdjust="spacingAndGlyphs">GRAP</text>
<line x1="347.95" y1="617.0" x2="347.95" y2="791.4" stroke="#9e9e9e" stroke-width="1"/>
<line x1="347.95" y1="791.4" x2="381.45" y2="791.4" stroke="#a4a4a4" stroke-width="1"/>
<text x="344.2" y="787.2" font-size="7.9" text-anchor="end" textLength="7.3" lengthAdjust="spacingAndGlyphs">10</text>
<text x="344.2" y="761.5" font-size="7.9" text-anchor="end" textLength="8.8" lengthAdjust="spacingAndGlyphs">20</text>
<text x="344.2" y="735.8" font-size="7.9" text-anchor="end" textLength="8.8" lengthAdjust="spacingAndGlyphs">30</text>
<text x="344.2" y="710.1" font-size="7.9" text-anchor="end" textLength="8.8" lengthAdjust="spacingAndGlyphs">40</text>
<text x="344.2" y="684.4" font-size="7.9" text-anchor="end" textLength="8.8" lengthAdjust="spacingAndGlyphs">50</text>
<text x="344.2" y="658.7" font-size="7.9" text-anchor="end" textLength="8.8" lengthAdjust="spacingAndGlyphs">60</text>
<text x="344.2" y="633.0" font-size="7.9" text-anchor="end" textLength="8.8" lengthAdjust="spacingAndGlyphs">70</text>
<line x1="364.4" y1="624.8" x2="364.4" y2="783.0" stroke="#e2e9f1" stroke-width="1.2"/>
<path d="M363.85,672.00 L363.72,672.00 L363.66,672.50 L363.61,673.00 L363.58,673.50 L363.55,674.00 L363.52,674.50 L363.48,675.00 L363.44,675.50 L363.40,676.00 L363.36,676.50 L363.31,677.00 L363.27,677.50 L363.23,678.00 L363.19,678.50 L363.15,679.00 L363.10,679.50 L363.06,680.00 L363.02,680.50 L362.98,681.00 L362.93,681.50 L362.87,682.00 L363.13,682.50 L363.07,683.00 L362.92,683.50 L362.76,684.00 L362.60,684.50 L362.28,685.00 L361.90,685.50 L361.52,686.00 L361.21,686.50 L361.29,687.00 L361.38,687.50 L361.49,688.00 L361.45,688.50 L361.30,689.00 L361.15,689.50 L361.00,690.00 L360.81,690.50 L360.63,691.00 L360.44,691.50 L360.19,692.00 L359.85,692.50 L359.51,693.00 L359.15,693.50 L358.80,694.00 L358.43,694.50 L358.01,695.00 L357.58,695.50 L357.34,696.00 L357.09,696.50 L356.85,697.00 L356.44,697.50 L355.93,698.00 L355.41,698.50 L354.93,699.00 L355.22,699.50 L355.58,700.00 L355.99,700.50 L356.20,701.00 L356.08,701.50 L355.96,702.00 L355.84,702.50 L355.17,703.00 L354.36,703.50 L353.54,704.00 L352.93,704.50 L353.20,705.00 L353.47,705.50 L353.75,706.00 L353.56,706.50 L353.06,707.00 L352.55,707.50 L352.04,708.00 L352.24,708.50 L352.43,709.00 L352.58,709.50 L352.60,710.00 L352.48,710.50 L352.34,711.00 L352.20,711.50 L351.81,712.00 L351.36,712.50 L350.92,713.00 L350.59,713.50 L350.57,714.00 L350.62,714.50 L350.72,715.00 L350.14,715.50 L349.08,716.00 L348.02,716.50 L346.95,717.00 L347.25,717.50 L347.57,718.00 L347.88,718.50 L348.16,719.00 L348.38,719.50 L348.61,720.00 L348.86,720.50 L348.78,721.00 L348.61,721.50 L348.46,722.00 L348.34,722.50 L348.39,723.00 L348.44,723.50 L348.49,724.00 L348.75,724.50 L349.14,725.00 L349.54,725.50 L349.96,726.00 L348.90,726.50 L347.86,727.00 L346.85,727.50 L346.43,728.00 L346.90,728.50 L347.35,729.00 L347.81,729.50 L347.57,730.00 L347.17,730.50 L346.77,731.00 L346.60,731.50 L347.35,732.00 L348.15,732.50 L349.00,733.00 L349.38,733.50 L349.45,734.00 L349.53,734.50 L349.63,735.00 L350.34,735.50 L351.05,736.00 L351.73,736.50 L352.34,737.00 L352.82,737.50 L353.30,738.00 L353.77,738.50 L353.36,739.00 L352.75,739.50 L352.17,740.00 L351.80,740.50 L352.15,741.00 L352.50,741.50 L352.85,742.00 L353.44,742.50 L354.17,743.00 L354.88,743.50 L355.57,744.00 L355.33,744.50 L355.08,745.00 L354.80,745.50 L354.70,746.00 L354.89,746.50 L355.07,747.00 L355.25,747.50 L355.68,748.00 L356.17,748.50 L356.65,749.00 L357.01,749.50 L356.91,750.00 L356.81,750.50 L356.73,751.00 L356.64,751.50 L356.57,752.00 L356.51,752.50 L356.46,753.00 L356.94,753.50 L357.41,754.00 L357.87,754.50 L358.10,755.00 L358.01,755.50 L357.92,756.00 L357.85,756.50 L358.31,757.00 L358.89,757.50 L359.46,758.00 L359.94,758.50 L360.07,759.00 L360.20,759.50 L360.34,760.00 L360.43,760.50 L360.49,761.00 L360.57,761.50 L360.65,762.00 L361.08,762.50 L361.48,763.00 L361.85,763.50 L362.09,764.00 L362.17,764.50 L362.24,765.00 L362.29,765.50 L362.22,766.00 L362.12,766.50 L362.03,767.00 L362.00,767.50 L362.22,768.00 L362.43,768.50 L362.64,769.00 L362.71,769.50 L362.70,770.00 L362.88,770.50 L362.92,771.00 L362.97,771.50 L363.00,772.00 L363.04,772.50 L363.08,773.00 L363.12,773.50 L363.16,774.00 L363.20,774.50 L363.23,775.00 L363.27,775.50 L363.31,776.00 L363.35,776.50 L363.39,777.00 L363.43,777.50 L363.47,778.00 L363.50,778.50 L363.55,779.00 L363.60,779.50 L363.67,780.00 L363.85,780.40 Z" fill="#3274a1"/>
<path d="M364.95,624.80 L365.13,624.80 L365.25,625.30 L365.35,625.80 L365.41,626.30 L365.45,626.80 L365.46,627.30 L365.47,627.80 L365.47,628.30 L365.47,628.80 L365.48,629.30 L365.48,629.80 L365.49,630.30 L365.49,630.80 L365.49,631.30 L365.50,631.80 L365.50,632.30 L365.51,632.80 L365.51,633.30 L365.52,633.80 L365.52,634.30 L365.52,634.80 L365.53,635.30 L365.53,635.80 L365.54,636.30 L365.54,636.80 L365.54,637.30 L365.55,637.80 L365.55,638.30 L365.56,638.80 L365.56,639.30 L365.57,639.80 L365.57,640.30 L365.57,640.80 L365.58,641.30 L365.58,641.80 L365.59,642.30 L365.59,642.80 L365.60,643.30 L365.60,643.80 L365.60,644.30 L365.61,644.80 L365.61,645.30 L365.62,645.80 L365.62,646.30 L365.62,646.80 L365.63,647.30 L365.63,647.80 L365.64,648.30 L365.64,648.80 L365.65,649.30 L365.65,649.80 L365.65,650.30 L365.66,650.80 L365.66,651.30 L365.67,651.80 L365.67,652.30 L365.68,652.80 L365.68,653.30 L365.68,653.80 L365.69,654.30 L365.69,654.80 L365.70,655.30 L365.70,655.80 L365.70,656.30 L365.71,656.80 L365.71,657.30 L365.72,657.80 L365.72,658.30 L365.73,658.80 L365.73,659.30 L365.73,659.80 L365.74,660.30 L365.76,660.80 L365.82,661.30 L365.89,661.80 L365.89,662.30 L366.04,662.80 L366.39,663.30 L366.71,663.80 L366.97,664.30 L367.20,664.80 L367.42,665.30 L367.63,665.80 L367.81,666.30 L367.86,666.80 L367.92,667.30 L367.97,667.80 L367.88,668.30 L367.68,668.80 L367.48,669.30 L367.27,669.80 L367.41,670.30 L367.54,670.80 L367.68,671.30 L367.86,671.80 L368.10,672.30 L368.35,672.80 L368.62,673.30 L368.64,673.80 L368.58,674.30 L368.53,674.80 L368.55,675.30 L368.93,675.80 L369.32,676.30 L369.71,676.80 L369.71,677.30 L369.45,677.80 L369.17,678.30 L368.88,678.80 L369.36,679.30 L369.86,679.80 L370.37,680.30 L370.64,680.80 L370.51,681.30 L370.38,681.80 L370.25,682.30 L370.18,682.80 L370.13,683.30 L370.08,683.80 L370.08,684.30 L370.33,684.80 L370.58,685.30 L370.83,685.80 L370.87,686.30 L370.77,686.80 L370.65,687.30 L370.52,687.80 L370.98,688.30 L371.44,688.80 L371.91,689.30 L372.11,689.80 L371.89,690.30 L371.67,690.80 L371.45,691.30 L371.83,691.80 L372.39,692.30 L373.02,692.80 L373.61,693.30 L373.71,693.80 L373.83,694.30 L373.96,694.80 L374.11,695.30 L374.29,695.80 L374.45,696.30 L374.60,696.80 L374.84,697.30 L375.06,697.80 L375.28,698.30 L375.69,698.80 L376.36,699.30 L376.96,699.80 L377.41,700.30 L377.07,700.80 L376.45,701.30 L375.78,701.80 L375.32,702.30 L375.67,702.80 L375.99,703.30 L376.29,703.80 L375.83,704.30 L374.97,704.80 L374.29,705.30 L373.83,705.80 L374.59,706.30 L375.47,706.80 L376.43,707.30 L377.27,707.80 L377.90,708.30 L378.53,708.80 L379.15,709.30 L379.42,709.80 L379.41,710.30 L379.10,710.80 L378.68,711.30 L378.78,711.80 L378.75,712.30 L378.67,712.80 L377.99,713.30 L377.00,713.80 L376.15,714.30 L375.57,714.80 L375.92,715.30 L376.53,715.80 L377.26,716.30 L377.88,716.80 L378.20,717.30 L378.35,717.80 L378.27,718.30 L377.85,718.80 L377.30,719.30 L376.72,719.80 L376.21,720.30 L375.98,720.80 L375.74,721.30 L375.50,721.80 L375.05,722.30 L374.46,722.80 L373.89,723.30 L373.35,723.80 L373.20,724.30 L373.08,724.80 L372.98,725.30 L373.08,725.80 L373.46,726.30 L373.83,726.80 L374.18,727.30 L373.78,727.80 L373.20,728.30 L372.63,728.80 L372.20,729.30 L372.30,729.80 L372.40,730.30 L372.52,730.80 L372.28,731.30 L371.81,731.80 L371.35,732.30 L370.89,732.80 L371.12,733.30 L371.35,733.80 L371.57,734.30 L371.61,734.80 L371.39,735.30 L371.17,735.80 L370.93,736.30 L370.83,736.80 L370.72,737.30 L370.57,737.80 L370.36,738.30 L370.00,738.80 L369.63,739.30 L369.28,739.80 L368.92,740.30 L368.57,740.80 L368.22,741.30 L367.88,741.80 L367.78,742.30 L367.69,742.80 L367.63,743.30 L367.54,743.80 L367.39,744.30 L367.24,744.80 L367.09,745.30 L366.94,745.80 L366.81,746.30 L366.71,746.80 L366.72,747.30 L366.98,747.80 L367.28,748.30 L367.59,748.80 L367.66,749.30 L367.52,749.80 L367.31,750.30 L367.01,750.80 L366.87,751.30 L366.72,751.80 L366.62,752.30 L366.60,752.80 L366.68,753.30 L366.77,753.80 L366.85,754.30 L366.77,754.80 L366.65,755.30 L366.53,755.80 L366.43,756.30 L366.39,756.80 L366.35,757.30 L365.94,757.80 L365.90,758.30 L365.87,758.80 L365.83,759.30 L365.80,759.80 L365.77,760.30 L365.74,760.80 L365.71,761.30 L365.67,761.80 L365.64,762.30 L365.61,762.80 L365.58,763.30 L365.55,763.80 L365.51,764.30 L365.48,764.80 L365.45,765.30 L365.42,765.80 L365.39,766.30 L365.35,766.80 L365.32,767.30 L365.29,767.80 L365.26,768.30 L365.22,768.80 L365.16,769.30 L365.09,769.80 L364.95,770.00 Z" fill="#e1812c"/>
<text x="361.4" y="611.6" font-size="8.2" font-style="italic" text-anchor="middle" textLength="34.7" lengthAdjust="spacingAndGlyphs">TAF11L10</text>
<line x1="407.85" y1="617.0" x2="407.85" y2="791.4" stroke="#9e9e9e" stroke-width="1"/>
<line x1="407.85" y1="791.4" x2="441.35" y2="791.4" stroke="#a4a4a4" stroke-width="1"/>
<text x="404.2" y="786.7" font-size="7.9" text-anchor="end" textLength="4.4" lengthAdjust="spacingAndGlyphs">5</text>
<text x="404.2" y="767.3" font-size="7.9" text-anchor="end" textLength="4.4" lengthAdjust="spacingAndGlyphs">6</text>
<text x="404.2" y="747.9" font-size="7.9" text-anchor="end" textLength="4.4" lengthAdjust="spacingAndGlyphs">7</text>
<text x="404.2" y="728.5" font-size="7.9" text-anchor="end" textLength="4.4" lengthAdjust="spacingAndGlyphs">8</text>
<text x="404.2" y="709.1" font-size="7.9" text-anchor="end" textLength="4.4" lengthAdjust="spacingAndGlyphs">9</text>
<text x="404.2" y="689.7" font-size="7.9" text-anchor="end" textLength="7.3" lengthAdjust="spacingAndGlyphs">10</text>
<text x="404.2" y="670.3" font-size="7.9" text-anchor="end" textLength="5.7" lengthAdjust="spacingAndGlyphs">11</text>
<text x="404.2" y="650.9" font-size="7.9" text-anchor="end" textLength="7.3" lengthAdjust="spacingAndGlyphs">12</text>
<text x="404.2" y="631.5" font-size="7.9" text-anchor="end" textLength="7.3" lengthAdjust="spacingAndGlyphs">13</text>
<line x1="424.3" y1="624.8" x2="424.3" y2="780" stroke="#e2e9f1" stroke-width="1.2"/>
<path d="M423.75,655.00 L423.62,655.00 L423.56,655.50 L423.52,656.00 L423.49,656.50 L423.47,657.00 L423.45,657.50 L423.43,658.00 L423.40,658.50 L423.38,659.00 L423.35,659.50 L423.33,660.00 L423.31,660.50 L423.28,661.00 L423.26,661.50 L423.23,662.00 L423.21,662.50 L423.19,663.00 L423.16,663.50 L423.14,664.00 L423.11,664.50 L423.09,665.00 L423.07,665.50 L423.04,666.00 L423.02,666.50 L422.99,667.00 L422.96,667.50 L422.92,668.00 L422.87,668.50 L422.81,669.00 L423.10,669.50 L422.81,670.00 L422.52,670.50 L422.21,671.00 L422.08,671.50 L422.07,672.00 L422.05,672.50 L422.04,673.00 L421.99,673.50 L421.93,674.00 L421.87,674.50 L421.90,675.00 L422.06,675.50 L422.23,676.00 L422.40,676.50 L422.39,677.00 L422.33,677.50 L422.24,678.00 L422.12,678.50 L421.92,679.00 L421.70,679.50 L421.46,680.00 L421.24,680.50 L421.03,681.00 L420.82,681.50 L420.61,682.00 L420.37,682.50 L420.12,683.00 L419.87,683.50 L419.63,684.00 L419.39,684.50 L419.14,685.00 L418.90,685.50 L418.83,686.00 L418.80,686.50 L418.75,687.00 L418.61,687.50 L418.14,688.00 L417.65,688.50 L417.14,689.00 L416.60,689.50 L416.03,690.00 L415.44,690.50 L414.84,691.00 L414.87,691.50 L414.91,692.00 L414.98,692.50 L414.69,693.00 L413.80,693.50 L412.90,694.00 L411.97,694.50 L411.73,695.00 L411.68,695.50 L411.63,696.00 L411.52,696.50 L411.09,697.00 L410.71,697.50 L410.49,698.00 L410.86,698.50 L411.65,699.00 L412.51,699.50 L413.38,700.00 L413.63,700.50 L413.88,701.00 L414.11,701.50 L414.28,702.00 L414.32,702.50 L414.26,703.00 L414.14,703.50 L414.37,704.00 L414.69,704.50 L415.01,705.00 L415.33,705.50 L415.65,706.00 L415.96,706.50 L416.22,707.00 L415.82,707.50 L414.91,708.00 L413.86,708.50 L412.73,709.00 L412.36,709.50 L411.98,710.00 L411.61,710.50 L411.41,711.00 L411.49,711.50 L411.60,712.00 L411.74,712.50 L411.69,713.00 L411.62,713.50 L411.55,714.00 L411.26,714.50 L409.96,715.00 L408.62,715.50 L407.29,716.00 L406.84,716.50 L407.15,717.00 L407.69,717.50 L408.41,718.00 L409.56,718.50 L410.69,719.00 L411.79,719.50 L412.53,720.00 L412.77,720.50 L413.02,721.00 L413.26,721.50 L413.74,722.00 L414.22,722.50 L414.65,723.00 L414.90,723.50 L414.59,724.00 L414.30,724.50 L414.04,725.00 L414.41,725.50 L415.18,726.00 L415.91,726.50 L416.59,727.00 L416.25,727.50 L415.87,728.00 L415.47,728.50 L415.30,729.00 L415.51,729.50 L415.71,730.00 L415.91,730.50 L416.39,731.00 L416.93,731.50 L417.46,732.00 L417.82,732.50 L417.47,733.00 L417.13,733.50 L416.78,734.00 L416.79,734.50 L417.03,735.00 L417.27,735.50 L417.51,736.00 L417.32,736.50 L417.14,737.00 L416.96,737.50 L416.86,738.00 L416.93,738.50 L417.07,739.00 L417.30,739.50 L417.88,740.00 L418.53,740.50 L419.16,741.00 L419.74,741.50 L420.15,742.00 L420.54,742.50 L420.90,743.00 L420.97,743.50 L420.86,744.00 L420.78,744.50 L420.73,745.00 L421.20,745.50 L421.66,746.00 L422.11,746.50 L422.39,747.00 L422.47,747.50 L422.79,748.00 L422.91,748.50 L422.97,749.00 L423.01,749.50 L423.03,750.00 L423.05,750.50 L423.07,751.00 L423.09,751.50 L423.12,752.00 L423.14,752.50 L423.16,753.00 L423.18,753.50 L423.20,754.00 L423.22,754.50 L423.24,755.00 L423.26,755.50 L423.29,756.00 L423.31,756.50 L423.33,757.00 L423.34,757.50 L423.36,758.00 L423.37,758.50 L423.39,759.00 L423.40,759.50 L423.41,760.00 L423.42,760.50 L423.43,761.00 L423.45,761.50 L423.46,762.00 L423.47,762.50 L423.48,763.00 L423.49,763.50 L423.51,764.00 L423.52,764.50 L423.55,765.00 L423.60,765.50 L423.75,765.80 Z" fill="#3274a1"/>
<path d="M424.85,688.00 L425.02,688.00 L425.14,688.50 L425.26,689.00 L425.37,689.50 L425.47,690.00 L425.55,690.50 L425.61,691.00 L425.65,691.50 L425.66,692.00 L425.67,692.50 L425.68,693.00 L425.68,693.50 L425.69,694.00 L425.69,694.50 L425.70,695.00 L425.71,695.50 L425.71,696.00 L425.72,696.50 L425.72,697.00 L425.73,697.50 L425.74,698.00 L425.74,698.50 L425.75,699.00 L425.75,699.50 L425.76,700.00 L425.77,700.50 L425.77,701.00 L425.78,701.50 L425.78,702.00 L425.79,702.50 L425.80,703.00 L425.80,703.50 L425.81,704.00 L425.81,704.50 L425.82,705.00 L425.83,705.50 L425.83,706.00 L425.54,706.50 L425.54,707.00 L425.62,707.50 L425.86,708.00 L426.26,708.50 L426.69,709.00 L427.08,709.50 L427.32,710.00 L427.45,710.50 L427.54,711.00 L427.59,711.50 L427.55,712.00 L427.51,712.50 L427.47,713.00 L427.51,713.50 L427.61,714.00 L427.70,714.50 L427.80,715.00 L427.77,715.50 L427.74,716.00 L427.71,716.50 L427.81,717.00 L428.12,717.50 L428.43,718.00 L428.74,718.50 L428.84,719.00 L428.91,719.50 L429.02,720.00 L429.15,720.50 L429.16,721.00 L429.17,721.50 L429.18,722.00 L429.33,722.50 L429.56,723.00 L429.80,723.50 L430.04,724.00 L430.44,724.50 L430.86,725.00 L431.29,725.50 L431.66,726.00 L431.93,726.50 L432.24,727.00 L432.56,727.50 L433.24,728.00 L434.03,728.50 L434.85,729.00 L435.51,729.50 L435.43,730.00 L435.33,730.50 L435.21,731.00 L435.41,731.50 L435.85,732.00 L436.34,732.50 L436.83,733.00 L438.04,733.50 L439.29,734.00 L440.56,734.50 L441.12,735.00 L440.48,735.50 L439.55,736.00 L438.40,736.50 L438.27,737.00 L438.36,737.50 L438.41,738.00 L438.29,738.50 L437.57,739.00 L436.80,739.50 L435.94,740.00 L435.39,740.50 L435.01,741.00 L434.54,741.50 L434.00,742.00 L432.88,742.50 L431.82,743.00 L430.87,743.50 L430.23,744.00 L429.97,744.50 L429.88,745.00 L429.87,745.50 L429.55,746.00 L429.16,746.50 L428.78,747.00 L428.51,747.50 L428.68,748.00 L428.84,748.50 L429.00,749.00 L428.99,749.50 L428.87,750.00 L428.76,750.50 L428.65,751.00 L428.51,751.50 L428.38,752.00 L428.24,752.50 L428.19,753.00 L428.25,753.50 L428.31,754.00 L428.37,754.50 L428.34,755.00 L428.29,755.50 L428.24,756.00 L428.13,756.50 L427.76,757.00 L427.39,757.50 L427.03,758.00 L426.89,758.50 L426.88,759.00 L426.88,759.50 L426.87,760.00 L426.82,760.50 L426.77,761.00 L426.72,761.50 L426.64,762.00 L426.51,762.50 L426.38,763.00 L426.25,763.50 L426.12,764.00 L425.99,764.50 L425.87,765.00 L425.76,765.50 L425.75,766.00 L425.74,766.50 L425.72,767.00 L425.65,767.50 L425.80,768.00 L425.72,768.50 L425.63,769.00 L425.56,769.50 L425.51,770.00 L425.49,770.50 L425.49,771.00 L425.50,771.50 L425.51,772.00 L425.53,772.50 L425.55,773.00 L425.56,773.50 L425.58,774.00 L425.59,774.50 L425.61,775.00 L425.62,775.50 L425.61,776.00 L425.58,776.50 L425.53,777.00 L425.45,777.50 L425.37,778.00 L425.29,778.50 L425.21,779.00 L425.11,779.50 L425.01,780.00 L424.85,780.00 Z" fill="#e1812c"/>
<text x="422.2" y="611.6" font-size="8.2" font-style="italic" text-anchor="middle" textLength="22.3" lengthAdjust="spacingAndGlyphs">RDM1</text>
<line x1="467.75" y1="617.0" x2="467.75" y2="791.4" stroke="#9e9e9e" stroke-width="1"/>
<line x1="467.75" y1="791.4" x2="501.25" y2="791.4" stroke="#a4a4a4" stroke-width="1"/>
<text x="464.1" y="783.7" font-size="7.9" text-anchor="end" textLength="4.4" lengthAdjust="spacingAndGlyphs">2</text>
<text x="464.1" y="760.4" font-size="7.9" text-anchor="end" textLength="4.4" lengthAdjust="spacingAndGlyphs">4</text>
<text x="464.1" y="737.2" font-size="7.9" text-anchor="end" textLength="4.4" lengthAdjust="spacingAndGlyphs">6</text>
<text x="464.1" y="713.9" font-size="7.9" text-anchor="end" textLength="4.4" lengthAdjust="spacingAndGlyphs">8</text>
<text x="464.1" y="690.6" font-size="7.9" text-anchor="end" textLength="7.3" lengthAdjust="spacingAndGlyphs">10</text>
<text x="464.1" y="667.4" font-size="7.9" text-anchor="end" textLength="7.3" lengthAdjust="spacingAndGlyphs">12</text>
<text x="464.1" y="644.1" font-size="7.9" text-anchor="end" textLength="7.3" lengthAdjust="spacingAndGlyphs">14</text>
<text x="464.1" y="620.9" font-size="7.9" text-anchor="end" textLength="7.3" lengthAdjust="spacingAndGlyphs">16</text>
<line x1="484.2" y1="624.8" x2="484.2" y2="780" stroke="#e2e9f1" stroke-width="1.2"/>
<path d="M483.65,655.00 L483.63,655.00 L483.62,655.50 L483.61,656.00 L483.61,656.50 L483.59,657.00 L483.58,657.50 L483.56,658.00 L483.54,658.50 L483.52,659.00 L483.49,659.50 L483.46,660.00 L483.42,660.50 L483.37,661.00 L483.32,661.50 L483.25,662.00 L483.18,662.50 L483.11,663.00 L483.02,663.50 L482.94,664.00 L482.88,664.50 L482.88,665.00 L482.95,665.50 L483.03,666.00 L483.11,666.50 L483.17,667.00 L483.23,667.50 L483.28,668.00 L483.32,668.50 L483.34,669.00 L483.36,669.50 L483.36,670.00 L483.36,670.50 L483.34,671.00 L483.31,671.50 L483.27,672.00 L483.21,672.50 L483.14,673.00 L483.05,673.50 L482.94,674.00 L482.82,674.50 L482.67,675.00 L482.56,675.50 L482.35,676.00 L482.13,676.50 L481.98,677.00 L481.94,677.50 L482.08,678.00 L482.27,678.50 L482.34,679.00 L482.41,679.50 L482.45,680.00 L482.66,680.50 L482.74,681.00 L482.79,681.50 L482.81,682.00 L482.80,682.50 L482.77,683.00 L482.71,683.50 L482.56,684.00 L482.40,684.50 L482.21,685.00 L481.98,685.50 L481.77,686.00 L481.54,686.50 L481.30,687.00 L481.07,687.50 L481.00,688.00 L481.18,688.50 L481.45,689.00 L481.69,689.50 L481.88,690.00 L482.04,690.50 L482.16,691.00 L482.23,691.50 L482.26,692.00 L482.24,692.50 L482.16,693.00 L482.03,693.50 L481.83,694.00 L481.56,694.50 L481.14,695.00 L480.60,695.50 L479.95,696.00 L479.22,696.50 L478.45,697.00 L477.58,697.50 L476.61,698.00 L475.66,698.50 L474.80,699.00 L474.32,699.50 L474.78,700.00 L475.67,700.50 L476.61,701.00 L477.50,701.50 L478.24,702.00 L478.82,702.50 L479.30,703.00 L479.66,703.50 L479.93,704.00 L480.08,704.50 L480.11,705.00 L480.02,705.50 L479.81,706.00 L479.47,706.50 L478.98,707.00 L478.44,707.50 L477.82,708.00 L477.07,708.50 L476.21,709.00 L474.93,709.50 L473.50,710.00 L472.02,710.50 L470.89,711.00 L471.00,711.50 L472.10,712.00 L473.40,712.50 L474.67,713.00 L475.82,713.50 L476.82,714.00 L477.68,714.50 L478.42,715.00 L478.99,715.50 L479.40,716.00 L479.63,716.50 L479.70,717.00 L479.62,717.50 L479.40,718.00 L478.90,718.50 L478.23,719.00 L477.38,719.50 L476.44,720.00 L475.48,720.50 L474.40,721.00 L473.22,721.50 L471.86,722.00 L470.64,722.50 L470.40,723.00 L471.41,723.50 L472.74,724.00 L474.06,724.50 L475.29,725.00 L476.43,725.50 L477.44,726.00 L478.29,726.50 L478.98,727.00 L479.42,727.50 L479.73,728.00 L479.91,728.50 L480.01,729.00 L480.07,729.50 L480.01,730.00 L479.82,730.50 L479.47,731.00 L478.99,731.50 L478.40,732.00 L477.67,732.50 L476.73,733.00 L475.71,733.50 L474.71,734.00 L474.28,734.50 L474.84,735.00 L475.80,735.50 L476.78,736.00 L477.68,736.50 L478.50,737.00 L479.23,737.50 L479.88,738.00 L480.45,738.50 L480.94,739.00 L481.33,739.50 L481.62,740.00 L481.84,740.50 L481.99,741.00 L482.09,741.50 L482.14,742.00 L482.14,742.50 L482.10,743.00 L482.04,743.50 L481.96,744.00 L481.85,744.50 L481.71,745.00 L481.52,745.50 L481.41,746.00 L481.50,746.50 L481.74,747.00 L482.00,747.50 L482.25,748.00 L482.48,748.50 L482.64,749.00 L482.69,749.50 L482.80,750.00 L482.89,750.50 L482.96,751.00 L483.00,751.50 L483.02,752.00 L483.01,752.50 L482.99,753.00 L482.94,753.50 L482.86,754.00 L482.76,754.50 L482.67,755.00 L482.47,755.50 L482.29,756.00 L482.16,756.50 L482.02,757.00 L481.93,757.50 L481.93,758.00 L482.07,758.50 L482.25,759.00 L482.41,759.50 L482.54,760.00 L482.74,760.50 L482.89,761.00 L483.01,761.50 L483.12,762.00 L483.22,762.50 L483.39,763.00 L483.65,763.00 Z" fill="#3274a1"/>
<path d="M484.75,680.00 L484.79,680.00 L484.82,680.50 L484.84,681.00 L484.86,681.50 L484.89,682.00 L484.92,682.50 L484.97,683.00 L485.02,683.50 L485.08,684.00 L485.16,684.50 L485.24,685.00 L485.34,685.50 L485.46,686.00 L485.59,686.50 L485.72,687.00 L485.96,687.50 L486.02,688.00 L485.94,688.50 L485.70,689.00 L485.58,689.50 L485.46,690.00 L485.36,690.50 L485.27,691.00 L485.20,691.50 L485.15,692.00 L485.11,692.50 L485.09,693.00 L485.09,693.50 L485.10,694.00 L485.13,694.50 L485.17,695.00 L485.24,695.50 L485.32,696.00 L485.42,696.50 L485.54,697.00 L485.69,697.50 L485.85,698.00 L486.02,698.50 L486.20,699.00 L486.30,699.50 L486.24,700.00 L486.08,700.50 L485.91,701.00 L485.76,701.50 L485.69,702.00 L485.59,702.50 L485.53,703.00 L485.50,703.50 L485.50,704.00 L485.53,704.50 L485.60,705.00 L485.71,705.50 L485.95,706.00 L486.17,706.50 L486.45,707.00 L486.79,707.50 L487.19,708.00 L487.67,708.50 L488.19,709.00 L488.70,709.50 L489.25,710.00 L489.80,710.50 L490.32,711.00 L490.30,711.50 L489.78,712.00 L489.18,712.50 L488.62,713.00 L488.13,713.50 L487.72,714.00 L487.41,714.50 L487.18,715.00 L487.06,715.50 L487.03,716.00 L487.07,716.50 L487.22,717.00 L487.48,717.50 L487.87,718.00 L488.39,718.50 L489.06,719.00 L489.87,719.50 L490.86,720.00 L492.02,720.50 L493.34,721.00 L494.81,721.50 L496.46,722.00 L497.94,722.50 L498.30,723.00 L497.21,723.50 L495.69,724.00 L494.21,724.50 L492.86,725.00 L491.76,725.50 L490.83,726.00 L490.08,726.50 L489.47,727.00 L488.99,727.50 L488.69,728.00 L488.56,728.50 L488.61,729.00 L488.83,729.50 L489.22,730.00 L489.81,730.50 L490.61,731.00 L491.61,731.50 L492.82,732.00 L494.21,732.50 L495.78,733.00 L497.47,733.50 L499.09,734.00 L499.67,734.50 L498.59,735.00 L496.81,735.50 L495.09,736.00 L493.58,736.50 L492.24,737.00 L491.07,737.50 L489.95,738.00 L489.00,738.50 L488.23,739.00 L487.66,739.50 L487.36,740.00 L487.17,740.50 L487.09,741.00 L487.08,741.50 L487.13,742.00 L487.29,742.50 L487.54,743.00 L487.86,743.50 L488.27,744.00 L488.75,744.50 L489.32,745.00 L489.97,745.50 L490.41,746.00 L490.22,746.50 L489.66,747.00 L489.06,747.50 L488.49,748.00 L487.97,748.50 L487.43,749.00 L486.98,749.50 L486.61,750.00 L486.36,750.50 L486.20,751.00 L486.10,751.50 L486.06,752.00 L486.03,752.50 L486.06,753.00 L486.14,753.50 L486.30,754.00 L486.54,754.50 L486.84,755.00 L487.21,755.50 L487.68,756.00 L488.22,756.50 L488.79,757.00 L489.24,757.50 L489.06,758.00 L488.49,758.50 L487.87,759.00 L487.36,759.50 L486.94,760.00 L486.58,760.50 L486.26,761.00 L486.02,761.50 L485.82,762.00 L485.62,762.50 L485.45,763.00 L485.30,763.50 L485.07,764.00 L484.75,764.00 Z" fill="#e1812c"/>
<text x="481.4" y="611.6" font-size="8.2" font-style="italic" text-anchor="middle" textLength="42.9" lengthAdjust="spacingAndGlyphs">ARHGEF35</text>
<line x1="527.65" y1="617.0" x2="527.65" y2="791.4" stroke="#9e9e9e" stroke-width="1"/>
<line x1="527.65" y1="791.4" x2="561.15" y2="791.4" stroke="#a4a4a4" stroke-width="1"/>
<text x="523.9" y="784.0" font-size="7.9" text-anchor="end" textLength="4.4" lengthAdjust="spacingAndGlyphs">2</text>
<text x="523.9" y="754.1" font-size="7.9" text-anchor="end" textLength="4.4" lengthAdjust="spacingAndGlyphs">4</text>
<text x="523.9" y="724.2" font-size="7.9" text-anchor="end" textLength="4.4" lengthAdjust="spacingAndGlyphs">6</text>
<text x="523.9" y="694.3" font-size="7.9" text-anchor="end" textLength="4.4" lengthAdjust="spacingAndGlyphs">8</text>
<text x="523.9" y="664.4" font-size="7.9" text-anchor="end" textLength="7.3" lengthAdjust="spacingAndGlyphs">10</text>
<text x="523.9" y="634.5" font-size="7.9" text-anchor="end" textLength="7.3" lengthAdjust="spacingAndGlyphs">12</text>
<line x1="544.1" y1="624.8" x2="544.1" y2="780" stroke="#e2e9f1" stroke-width="1.2"/>
<path d="M543.55,651.00 L543.42,651.00 L543.36,651.50 L543.32,652.00 L543.29,652.50 L543.26,653.00 L543.24,653.50 L543.23,654.00 L543.21,654.50 L543.19,655.00 L543.17,655.50 L543.15,656.00 L543.14,656.50 L543.12,657.00 L543.10,657.50 L543.08,658.00 L543.06,658.50 L543.05,659.00 L543.03,659.50 L543.01,660.00 L542.99,660.50 L542.97,661.00 L542.96,661.50 L542.94,662.00 L542.92,662.50 L542.90,663.00 L542.88,663.50 L542.86,664.00 L542.84,664.50 L542.82,665.00 L542.80,665.50 L542.78,666.00 L542.77,666.50 L542.75,667.00 L542.73,667.50 L542.71,668.00 L542.69,668.50 L542.67,669.00 L542.65,669.50 L542.63,670.00 L542.61,670.50 L542.59,671.00 L542.57,671.50 L542.79,672.00 L542.88,672.50 L542.69,673.00 L542.42,673.50 L542.14,674.00 L541.93,674.50 L542.07,675.00 L542.20,675.50 L542.34,676.00 L542.40,676.50 L542.40,677.00 L542.40,677.50 L542.41,678.00 L542.21,678.50 L542.02,679.00 L541.82,679.50 L541.71,680.00 L541.76,680.50 L541.81,681.00 L541.85,681.50 L541.75,682.00 L541.59,682.50 L541.43,683.00 L541.26,683.50 L541.14,684.00 L541.01,684.50 L540.89,685.00 L540.85,685.50 L540.89,686.00 L540.93,686.50 L540.97,687.00 L540.73,687.50 L540.48,688.00 L540.23,688.50 L540.12,689.00 L540.23,689.50 L540.35,690.00 L540.46,690.50 L540.26,691.00 L539.96,691.50 L539.66,692.00 L539.38,692.50 L539.22,693.00 L539.07,693.50 L538.91,694.00 L538.94,694.50 L539.10,695.00 L539.26,695.50 L539.43,696.00 L539.13,696.50 L538.80,697.00 L538.43,697.50 L538.17,698.00 L538.14,698.50 L538.12,699.00 L538.10,699.50 L537.73,700.00 L537.25,700.50 L536.76,701.00 L536.25,701.50 L535.69,702.00 L535.13,702.50 L534.58,703.00 L534.41,703.50 L534.51,704.00 L534.65,704.50 L534.81,705.00 L534.59,705.50 L534.37,706.00 L534.14,706.50 L533.96,707.00 L533.83,707.50 L533.70,708.00 L533.57,708.50 L533.87,709.00 L534.24,709.50 L534.55,710.00 L534.55,710.50 L533.42,711.00 L532.24,711.50 L531.01,712.00 L530.42,712.50 L530.29,713.00 L530.18,713.50 L530.11,714.00 L530.45,714.50 L530.82,715.00 L531.23,715.50 L531.04,716.00 L529.92,716.50 L528.77,717.00 L527.59,717.50 L527.56,718.00 L527.90,718.50 L528.43,719.00 L529.13,719.50 L529.76,720.00 L530.47,720.50 L531.19,721.00 L531.23,721.50 L530.87,722.00 L530.56,722.50 L530.30,723.00 L531.21,723.50 L532.07,724.00 L532.85,724.50 L533.33,725.00 L533.47,725.50 L533.60,726.00 L533.74,726.50 L534.43,727.00 L535.24,727.50 L536.02,728.00 L536.56,728.50 L536.26,729.00 L535.84,729.50 L535.26,730.00 L535.15,730.50 L535.41,731.00 L535.69,731.50 L535.99,732.00 L535.58,732.50 L535.16,733.00 L534.75,733.50 L534.40,734.00 L534.21,734.50 L534.19,735.00 L534.33,735.50 L534.90,736.00 L535.56,736.50 L536.22,737.00 L536.70,737.50 L536.63,738.00 L536.59,738.50 L536.57,739.00 L536.93,739.50 L537.48,740.00 L537.96,740.50 L538.40,741.00 L538.53,741.50 L538.67,742.00 L538.80,742.50 L538.87,743.00 L538.84,743.50 L538.79,744.00 L538.67,744.50 L538.69,745.00 L538.59,745.50 L538.34,746.00 L537.95,746.50 L537.17,747.00 L536.35,747.50 L535.50,748.00 L534.94,748.50 L534.63,749.00 L534.40,749.50 L534.37,750.00 L534.20,750.50 L534.29,751.00 L534.56,751.50 L535.06,752.00 L535.82,752.50 L536.55,753.00 L537.27,753.50 L537.64,754.00 L537.96,754.50 L538.27,755.00 L538.62,755.50 L539.10,756.00 L539.56,756.50 L540.00,757.00 L540.59,757.50 L541.25,758.00 L541.87,758.50 L542.41,759.00 L542.45,759.50 L542.38,760.00 L542.21,760.50 L542.09,761.00 L542.13,761.50 L542.18,762.00 L542.23,762.50 L542.08,763.00 L541.91,763.50 L541.81,764.00 L541.80,764.50 L541.97,765.00 L542.16,765.50 L542.35,766.00 L542.70,766.50 L542.86,767.00 L543.00,767.50 L543.11,768.00 L543.19,768.50 L543.26,769.00 L543.33,769.50 L543.41,770.00 L543.55,770.00 Z" fill="#3274a1"/>
<path d="M544.65,660.00 L544.81,660.00 L544.90,660.50 L544.99,661.00 L545.06,661.50 L545.11,662.00 L545.14,662.50 L545.15,663.00 L545.15,663.50 L545.16,664.00 L545.16,664.50 L545.16,665.00 L545.16,665.50 L545.16,666.00 L545.16,666.50 L545.16,667.00 L545.17,667.50 L545.17,668.00 L545.17,668.50 L545.17,669.00 L545.17,669.50 L545.17,670.00 L545.17,670.50 L545.17,671.00 L545.18,671.50 L545.18,672.00 L545.18,672.50 L545.18,673.00 L545.18,673.50 L545.18,674.00 L545.18,674.50 L545.19,675.00 L545.19,675.50 L545.19,676.00 L545.19,676.50 L545.19,677.00 L545.19,677.50 L545.19,678.00 L545.20,678.50 L545.20,679.00 L545.20,679.50 L545.20,680.00 L545.20,680.50 L545.20,681.00 L545.20,681.50 L545.21,682.00 L545.21,682.50 L545.21,683.00 L545.21,683.50 L545.21,684.00 L545.21,684.50 L545.21,685.00 L545.22,685.50 L545.22,686.00 L545.22,686.50 L545.22,687.00 L545.22,687.50 L545.22,688.00 L545.22,688.50 L545.23,689.00 L545.23,689.50 L545.23,690.00 L545.23,690.50 L545.23,691.00 L545.23,691.50 L545.23,692.00 L545.23,692.50 L545.24,693.00 L545.24,693.50 L545.24,694.00 L545.24,694.50 L545.24,695.00 L545.24,695.50 L545.24,696.00 L545.25,696.50 L545.25,697.00 L545.28,697.50 L545.34,698.00 L545.46,698.50 L545.61,699.00 L545.57,699.50 L545.81,700.00 L546.11,700.50 L546.41,701.00 L546.68,701.50 L546.75,702.00 L546.81,702.50 L546.85,703.00 L546.91,703.50 L546.97,704.00 L547.02,704.50 L547.07,705.00 L547.53,705.50 L548.00,706.00 L548.48,706.50 L548.76,707.00 L548.69,707.50 L548.56,708.00 L548.38,708.50 L548.36,709.00 L548.38,709.50 L548.40,710.00 L548.41,710.50 L548.41,711.00 L548.41,711.50 L548.40,712.00 L548.41,712.50 L548.43,713.00 L548.46,713.50 L548.54,714.00 L548.19,714.50 L547.85,715.00 L547.52,715.50 L547.40,716.00 L547.63,716.50 L547.87,717.00 L548.11,717.50 L548.15,718.00 L548.14,718.50 L548.13,719.00 L548.17,719.50 L548.43,720.00 L548.68,720.50 L548.94,721.00 L549.21,721.50 L549.48,722.00 L549.76,722.50 L550.04,723.00 L550.09,723.50 L550.14,724.00 L550.18,724.50 L550.08,725.00 L549.74,725.50 L549.43,726.00 L549.14,726.50 L549.30,727.00 L549.61,727.50 L549.93,728.00 L550.32,728.50 L550.98,729.00 L551.68,729.50 L552.45,730.00 L552.98,730.50 L553.38,731.00 L553.84,731.50 L554.32,732.00 L554.66,732.50 L554.98,733.00 L555.25,733.50 L555.53,734.00 L555.78,734.50 L555.70,735.00 L555.32,735.50 L554.48,736.00 L553.54,736.50 L552.62,737.00 L551.89,737.50 L551.77,738.00 L551.68,738.50 L551.69,739.00 L551.40,739.50 L550.93,740.00 L550.51,740.50 L550.11,741.00 L550.27,741.50 L550.45,742.00 L550.69,742.50 L550.88,743.00 L550.96,743.50 L551.12,744.00 L551.33,744.50 L551.38,745.00 L551.38,745.50 L551.36,746.00 L551.48,746.50 L552.18,747.00 L553.04,747.50 L554.05,748.00 L554.96,748.50 L555.74,749.00 L556.51,749.50 L557.24,750.00 L558.79,750.50 L560.08,751.00 L560.83,751.50 L560.47,752.00 L559.02,752.50 L557.46,753.00 L555.90,753.50 L554.22,754.00 L552.63,754.50 L551.22,755.00 L550.15,755.50 L549.66,756.00 L549.30,756.50 L549.01,757.00 L548.75,757.50 L548.50,758.00 L548.25,758.50 L548.04,759.00 L547.86,759.50 L547.80,760.00 L547.84,760.50 L547.94,761.00 L548.06,761.50 L548.19,762.00 L548.31,762.50 L548.31,763.00 L548.24,763.50 L548.10,764.00 L547.90,764.50 L547.72,765.00 L547.51,765.50 L547.30,766.00 L547.02,766.50 L546.70,767.00 L546.40,767.50 L546.12,768.00 L546.19,768.50 L546.27,769.00 L546.35,769.50 L546.31,770.00 L546.11,770.50 L545.92,771.00 L545.73,771.50 L545.52,772.00 L545.32,772.50 L545.54,773.00 L545.43,773.50 L545.33,774.00 L545.26,774.50 L545.20,775.00 L545.16,775.50 L545.13,776.00 L545.09,776.50 L545.06,777.00 L545.02,777.50 L544.99,778.00 L544.95,778.50 L544.91,779.00 L544.85,779.50 L544.78,780.00 L544.65,780.00 Z" fill="#e1812c"/>
<text x="542.3" y="611.6" font-size="8.2" font-style="italic" text-anchor="middle" textLength="25.8" lengthAdjust="spacingAndGlyphs">OR2A1</text>
<line x1="587.55" y1="617.0" x2="587.55" y2="791.4" stroke="#9e9e9e" stroke-width="1"/>
<line x1="587.55" y1="791.4" x2="621.05" y2="791.4" stroke="#a4a4a4" stroke-width="1"/>
<text x="583.8" y="777.8" font-size="7.9" text-anchor="end" textLength="4.4" lengthAdjust="spacingAndGlyphs">2</text>
<text x="583.8" y="726.0" font-size="7.9" text-anchor="end" textLength="4.4" lengthAdjust="spacingAndGlyphs">3</text>
<text x="583.8" y="674.2" font-size="7.9" text-anchor="end" textLength="4.4" lengthAdjust="spacingAndGlyphs">4</text>
<text x="583.8" y="622.4" font-size="7.9" text-anchor="end" textLength="4.4" lengthAdjust="spacingAndGlyphs">5</text>
<line x1="604.0" y1="624.8" x2="604.0" y2="784" stroke="#e2e9f1" stroke-width="1.2"/>
<path d="M603.45,660.00 L603.45,660.00 L603.45,660.50 L603.45,661.00 L603.45,661.50 L603.45,662.00 L603.45,662.50 L603.45,663.00 L603.45,663.50 L603.45,664.00 L603.45,664.50 L603.45,665.00 L603.45,665.50 L603.45,666.00 L603.45,666.50 L603.45,667.00 L603.45,667.50 L603.45,668.00 L603.45,668.50 L603.45,669.00 L603.45,669.50 L603.45,670.00 L603.45,670.50 L603.44,671.00 L603.43,671.50 L603.42,672.00 L603.41,672.50 L603.38,673.00 L603.34,673.50 L603.28,674.00 L603.21,674.50 L603.11,675.00 L602.98,675.50 L602.82,676.00 L602.63,676.50 L602.43,677.00 L602.21,677.50 L601.99,678.00 L601.78,678.50 L601.60,679.00 L601.46,679.50 L601.38,680.00 L601.36,680.50 L601.41,681.00 L601.51,681.50 L601.67,682.00 L601.86,682.50 L602.07,683.00 L602.30,683.50 L602.51,684.00 L602.71,684.50 L602.88,685.00 L603.03,685.50 L603.15,686.00 L603.24,686.50 L603.31,687.00 L603.36,687.50 L603.39,688.00 L603.41,688.50 L603.43,689.00 L603.44,689.50 L603.44,690.00 L603.45,690.50 L603.45,691.00 L603.45,691.50 L603.45,692.00 L603.45,692.50 L603.45,693.00 L603.45,693.50 L603.45,694.00 L603.45,694.50 L603.45,695.00 L603.45,695.50 L603.45,696.00 L603.45,696.50 L603.45,697.00 L603.45,697.50 L603.45,698.00 L603.45,698.50 L603.45,699.00 L603.45,699.50 L603.45,700.00 L603.45,700.50 L603.45,701.00 L603.45,701.50 L603.45,702.00 L603.45,702.50 L603.45,703.00 L603.45,703.50 L603.45,704.00 L603.45,704.50 L603.45,705.00 L603.45,705.50 L603.45,706.00 L603.45,706.50 L603.45,707.00 L603.45,707.50 L603.45,708.00 L603.45,708.50 L603.45,709.00 L603.45,709.50 L603.45,710.00 L603.45,710.50 L603.45,711.00 L603.45,711.50 L603.45,712.00 L603.45,712.50 L603.45,713.00 L603.45,713.50 L603.45,714.00 L603.45,714.50 L603.45,715.00 L603.45,715.50 L603.45,716.00 L603.45,716.50 L603.45,717.00 L603.45,717.50 L603.45,718.00 L603.44,718.50 L603.44,719.00 L603.44,719.50 L603.43,720.00 L603.42,720.50 L603.41,721.00 L603.39,721.50 L603.36,722.00 L603.33,722.50 L603.28,723.00 L603.22,723.50 L603.15,724.00 L603.05,724.50 L602.92,725.00 L602.76,725.50 L602.57,726.00 L602.34,726.50 L602.07,727.00 L601.75,727.50 L601.39,728.00 L601.00,728.50 L600.58,729.00 L600.14,729.50 L599.72,730.00 L599.34,730.50 L599.04,731.00 L598.90,731.50 L598.93,732.00 L599.06,732.50 L599.23,733.00 L599.43,733.50 L599.66,734.00 L599.90,734.50 L600.14,735.00 L600.39,735.50 L600.64,736.00 L600.88,736.50 L601.12,737.00 L601.34,737.50 L601.55,738.00 L601.75,738.50 L601.94,739.00 L602.11,739.50 L602.27,740.00 L602.42,740.50 L602.55,741.00 L602.66,741.50 L602.77,742.00 L602.86,742.50 L602.94,743.00 L603.02,743.50 L603.08,744.00 L603.14,744.50 L603.18,745.00 L603.23,745.50 L603.26,746.00 L603.29,746.50 L603.32,747.00 L603.34,747.50 L603.36,748.00 L603.37,748.50 L603.39,749.00 L603.40,749.50 L603.40,750.00 L603.41,750.50 L603.42,751.00 L603.42,751.50 L603.42,752.00 L603.42,752.50 L603.42,753.00 L603.42,753.50 L603.42,754.00 L603.41,754.50 L603.41,755.00 L603.40,755.50 L603.39,756.00 L603.38,756.50 L603.37,757.00 L603.35,757.50 L603.33,758.00 L603.31,758.50 L603.28,759.00 L603.24,759.50 L603.20,760.00 L603.15,760.50 L603.10,761.00 L603.03,761.50 L602.95,762.00 L602.85,762.50 L602.74,763.00 L602.60,763.50 L602.44,764.00 L602.26,764.50 L602.05,765.00 L601.80,765.50 L601.50,766.00 L601.17,766.50 L600.77,767.00 L600.32,767.50 L599.81,768.00 L599.21,768.50 L598.54,769.00 L597.77,769.50 L596.91,770.00 L595.95,770.50 L594.88,771.00 L593.71,771.50 L592.44,772.00 L591.09,772.50 L589.72,773.00 L588.58,773.50 L588.69,774.00 L590.06,774.50 L591.66,775.00 L593.19,775.50 L594.59,776.00 L595.86,776.50 L596.98,777.00 L597.97,777.50 L598.83,778.00 L599.56,778.50 L600.20,779.00 L600.74,779.50 L601.19,780.00 L601.58,780.50 L601.90,781.00 L602.17,781.50 L602.40,782.00 L602.60,782.50 L602.95,783.00 L603.45,783.00 Z" fill="#3274a1"/>
<path d="M604.55,763.00 L604.70,763.00 L604.80,763.50 L604.87,764.00 L604.95,764.50 L605.04,765.00 L605.17,765.50 L605.32,766.00 L605.50,766.50 L605.73,767.00 L606.01,767.50 L606.35,768.00 L606.78,768.50 L607.29,769.00 L607.92,769.50 L608.67,770.00 L609.59,770.50 L610.69,771.00 L612.00,771.50 L613.56,772.00 L615.37,772.50 L617.44,773.00 L619.33,773.50 L619.47,774.00 L617.84,774.50 L615.98,775.00 L614.30,775.50 L612.83,776.00 L611.56,776.50 L610.46,777.00 L609.52,777.50 L608.72,778.00 L608.04,778.50 L607.47,779.00 L606.98,779.50 L606.58,780.00 L606.23,780.50 L605.95,781.00 L605.71,781.50 L605.51,782.00 L605.34,782.50 L605.02,783.00 L604.55,783.00 Z" fill="#e1812c"/>
<text x="601.9" y="611.6" font-size="8.2" font-style="italic" text-anchor="middle" textLength="29.7" lengthAdjust="spacingAndGlyphs">KANSL1</text>
<line x1="647.45" y1="617.0" x2="647.45" y2="791.4" stroke="#9e9e9e" stroke-width="1"/>
<line x1="647.45" y1="791.4" x2="680.95" y2="791.4" stroke="#a4a4a4" stroke-width="1"/>
<text x="643.8" y="760.1" font-size="7.9" text-anchor="end" textLength="4.4" lengthAdjust="spacingAndGlyphs">5</text>
<text x="643.8" y="715.7" font-size="7.9" text-anchor="end" textLength="7.3" lengthAdjust="spacingAndGlyphs">10</text>
<text x="643.8" y="671.3" font-size="7.9" text-anchor="end" textLength="7.3" lengthAdjust="spacingAndGlyphs">15</text>
<text x="643.8" y="626.9" font-size="7.9" text-anchor="end" textLength="8.8" lengthAdjust="spacingAndGlyphs">20</text>
<line x1="663.9" y1="624.8" x2="663.9" y2="780" stroke="#e2e9f1" stroke-width="1.2"/>
<path d="M663.35,659.00 L663.23,659.00 L663.16,659.50 L663.12,660.00 L663.10,660.50 L663.08,661.00 L663.06,661.50 L663.03,662.00 L663.01,662.50 L662.99,663.00 L662.96,663.50 L662.94,664.00 L662.92,664.50 L662.89,665.00 L662.87,665.50 L662.84,666.00 L662.82,666.50 L662.80,667.00 L662.77,667.50 L662.75,668.00 L662.72,668.50 L662.70,669.00 L662.68,669.50 L662.65,670.00 L662.63,670.50 L662.60,671.00 L662.57,671.50 L662.54,672.00 L662.49,672.50 L662.44,673.00 L662.37,673.50 L662.07,674.00 L661.92,674.50 L661.77,675.00 L661.79,675.50 L661.94,676.00 L662.10,676.50 L662.27,677.00 L662.17,677.50 L662.07,678.00 L661.98,678.50 L661.84,679.00 L661.64,679.50 L661.43,680.00 L661.22,680.50 L661.15,681.00 L661.12,681.50 L661.08,682.00 L661.05,682.50 L661.05,683.00 L661.05,683.50 L661.04,684.00 L660.92,684.50 L660.71,685.00 L660.50,685.50 L660.29,686.00 L660.33,686.50 L660.37,687.00 L660.42,687.50 L660.46,688.00 L660.49,688.50 L660.52,689.00 L660.56,689.50 L660.36,690.00 L660.11,690.50 L659.85,691.00 L659.66,691.50 L659.76,692.00 L659.86,692.50 L659.96,693.00 L659.78,693.50 L659.41,694.00 L659.03,694.50 L658.64,695.00 L658.70,695.50 L658.77,696.00 L658.84,696.50 L658.82,697.00 L658.65,697.50 L658.47,698.00 L658.27,698.50 L658.05,699.00 L657.77,699.50 L657.42,700.00 L657.09,700.50 L656.97,701.00 L656.86,701.50 L656.77,702.00 L656.45,702.50 L655.98,703.00 L655.50,703.50 L655.00,704.00 L655.04,704.50 L655.13,705.00 L655.28,705.50 L655.04,706.00 L654.12,706.50 L653.21,707.00 L652.30,707.50 L652.27,708.00 L652.47,708.50 L652.68,709.00 L652.75,709.50 L652.25,710.00 L651.74,710.50 L651.20,711.00 L651.38,711.50 L652.02,712.00 L652.64,712.50 L653.27,713.00 L652.40,713.50 L651.50,714.00 L650.57,714.50 L649.82,715.00 L649.35,715.50 L648.87,716.00 L648.39,716.50 L648.41,717.00 L648.62,717.50 L648.95,718.00 L649.36,718.50 L649.71,719.00 L650.09,719.50 L650.48,720.00 L650.65,720.50 L650.69,721.00 L650.72,721.50 L650.76,722.00 L650.88,722.50 L651.00,723.00 L651.11,723.50 L650.88,724.00 L650.16,724.50 L649.37,725.00 L648.54,725.50 L648.88,726.00 L649.53,726.50 L650.19,727.00 L650.54,727.50 L649.56,728.00 L648.59,728.50 L647.61,729.00 L647.44,729.50 L647.81,730.00 L648.19,730.50 L648.57,731.00 L648.33,731.50 L648.10,732.00 L647.87,732.50 L647.72,733.00 L647.70,733.50 L647.79,734.00 L647.97,734.50 L648.28,735.00 L648.61,735.50 L648.95,736.00 L649.25,736.50 L649.44,737.00 L649.62,737.50 L649.82,738.00 L650.14,738.50 L650.56,739.00 L651.00,739.50 L651.46,740.00 L652.13,740.50 L652.79,741.00 L653.44,741.50 L653.83,742.00 L653.87,742.50 L653.92,743.00 L653.98,743.50 L654.58,744.00 L655.26,744.50 L655.88,745.00 L656.34,745.50 L656.24,746.00 L656.16,746.50 L656.10,747.00 L656.21,747.50 L656.43,748.00 L656.64,748.50 L656.85,749.00 L657.08,749.50 L657.29,750.00 L657.50,750.50 L657.81,751.00 L658.27,751.50 L658.72,752.00 L659.16,752.50 L659.21,753.00 L659.17,753.50 L659.15,754.00 L659.16,754.50 L659.28,755.00 L659.40,755.50 L659.53,756.00 L659.84,756.50 L660.27,757.00 L660.68,757.50 L661.08,758.00 L661.34,758.50 L661.59,759.00 L661.82,759.50 L661.97,760.00 L662.03,760.50 L662.08,761.00 L662.14,761.50 L662.16,762.00 L662.41,762.50 L662.54,763.00 L662.66,763.50 L662.78,764.00 L662.89,764.50 L663.00,765.00 L663.12,765.50 L663.35,765.80 Z" fill="#3274a1"/>
<path d="M664.45,648.00 L664.59,648.00 L664.67,648.50 L664.74,649.00 L664.80,649.50 L664.85,650.00 L664.89,650.50 L664.92,651.00 L664.94,651.50 L664.95,652.00 L664.95,652.50 L664.95,653.00 L664.95,653.50 L664.96,654.00 L664.96,654.50 L664.96,655.00 L664.96,655.50 L664.96,656.00 L664.96,656.50 L664.96,657.00 L664.96,657.50 L664.96,658.00 L664.96,658.50 L664.96,659.00 L664.97,659.50 L664.97,660.00 L664.97,660.50 L664.97,661.00 L664.97,661.50 L664.97,662.00 L664.97,662.50 L664.97,663.00 L664.97,663.50 L664.97,664.00 L664.97,664.50 L664.97,665.00 L664.98,665.50 L664.98,666.00 L664.98,666.50 L664.98,667.00 L664.98,667.50 L664.98,668.00 L664.98,668.50 L664.98,669.00 L664.98,669.50 L664.98,670.00 L664.98,670.50 L664.99,671.00 L664.99,671.50 L664.99,672.00 L664.99,672.50 L664.99,673.00 L664.99,673.50 L664.99,674.00 L664.99,674.50 L664.99,675.00 L664.99,675.50 L664.99,676.00 L665.00,676.50 L665.00,677.00 L665.00,677.50 L665.00,678.00 L665.00,678.50 L665.00,679.00 L665.00,679.50 L665.00,680.00 L665.00,680.50 L665.00,681.00 L665.00,681.50 L665.00,682.00 L665.01,682.50 L665.01,683.00 L665.01,683.50 L665.01,684.00 L665.01,684.50 L665.01,685.00 L665.01,685.50 L665.01,686.00 L665.01,686.50 L665.01,687.00 L665.01,687.50 L665.02,688.00 L665.02,688.50 L665.02,689.00 L665.02,689.50 L665.02,690.00 L665.02,690.50 L665.02,691.00 L665.02,691.50 L665.02,692.00 L665.02,692.50 L665.02,693.00 L665.03,693.50 L665.03,694.00 L665.03,694.50 L665.03,695.00 L665.03,695.50 L665.03,696.00 L665.03,696.50 L665.03,697.00 L665.03,697.50 L665.03,698.00 L665.03,698.50 L665.03,699.00 L665.04,699.50 L665.04,700.00 L665.04,700.50 L665.04,701.00 L665.04,701.50 L665.04,702.00 L665.04,702.50 L665.04,703.00 L665.04,703.50 L665.04,704.00 L665.04,704.50 L665.05,705.00 L665.05,705.50 L665.05,706.00 L665.06,706.50 L665.09,707.00 L665.17,707.50 L665.30,708.00 L665.30,708.50 L665.27,709.00 L665.43,709.50 L665.70,710.00 L665.92,710.50 L666.13,711.00 L666.05,711.50 L665.98,712.00 L665.90,712.50 L665.92,713.00 L666.07,713.50 L666.22,714.00 L666.37,714.50 L666.20,715.00 L665.94,715.50 L665.68,716.00 L665.51,716.50 L665.68,717.00 L665.84,717.50 L666.01,718.00 L666.05,718.50 L666.00,719.00 L665.95,719.50 L665.91,720.00 L666.08,720.50 L666.25,721.00 L666.41,721.50 L666.52,722.00 L666.53,722.50 L666.55,723.00 L666.56,723.50 L666.48,724.00 L666.38,724.50 L666.28,725.00 L666.17,725.50 L666.04,726.00 L665.91,726.50 L665.78,727.00 L665.74,727.50 L665.75,728.00 L665.76,728.50 L665.77,729.00 L665.78,729.50 L665.78,730.00 L665.79,730.50 L665.82,731.00 L665.88,731.50 L665.94,732.00 L666.00,732.50 L665.96,733.00 L665.89,733.50 L665.83,734.00 L665.78,734.50 L665.77,735.00 L665.76,735.50 L665.76,736.00 L665.87,736.50 L666.05,737.00 L666.24,737.50 L666.43,738.00 L666.40,738.50 L666.36,739.00 L666.32,739.50 L666.26,740.00 L666.15,740.50 L666.03,741.00 L665.94,741.50 L666.19,742.00 L666.72,742.50 L667.64,743.00 L668.82,743.50 L669.46,744.00 L669.80,744.50 L669.84,745.00 L670.15,745.50 L670.71,746.00 L671.32,746.50 L671.99,747.00 L672.19,747.50 L672.43,748.00 L672.67,748.50 L673.28,749.00 L674.50,749.50 L675.76,750.00 L677.00,750.50 L677.50,751.00 L677.51,751.50 L677.16,752.00 L676.44,752.50 L675.21,753.00 L674.08,753.50 L673.20,754.00 L673.25,754.50 L674.11,755.00 L675.32,755.50 L676.75,756.00 L677.84,756.50 L678.94,757.00 L679.98,757.50 L680.47,758.00 L679.98,758.50 L678.88,759.00 L677.36,759.50 L676.18,760.00 L675.09,760.50 L674.08,761.00 L673.35,761.50 L673.09,762.00 L673.21,762.50 L673.56,763.00 L674.11,763.50 L674.70,764.00 L675.06,764.50 L675.00,765.00 L673.57,765.50 L671.95,766.00 L670.35,766.50 L669.19,767.00 L668.64,767.50 L668.40,768.00 L668.58,768.50 L668.85,769.00 L669.21,769.50 L669.57,770.00 L669.83,770.50 L669.85,771.00 L669.61,771.50 L669.17,772.00 L668.73,772.50 L668.31,773.00 L667.88,773.50 L667.45,774.00 L667.10,774.50 L666.79,775.00 L666.57,775.50 L666.31,776.00 L665.92,776.50 L665.56,777.00 L665.22,777.50 L665.34,778.00 L665.20,778.50 L665.05,779.00 L664.90,779.50 L664.74,780.00 L664.45,780.40 Z" fill="#e1812c"/>
<text x="663.6" y="611.6" font-size="8.2" font-style="italic" text-anchor="middle" textLength="31.5" lengthAdjust="spacingAndGlyphs">C2orf78</text>
</svg>
</body></html>
